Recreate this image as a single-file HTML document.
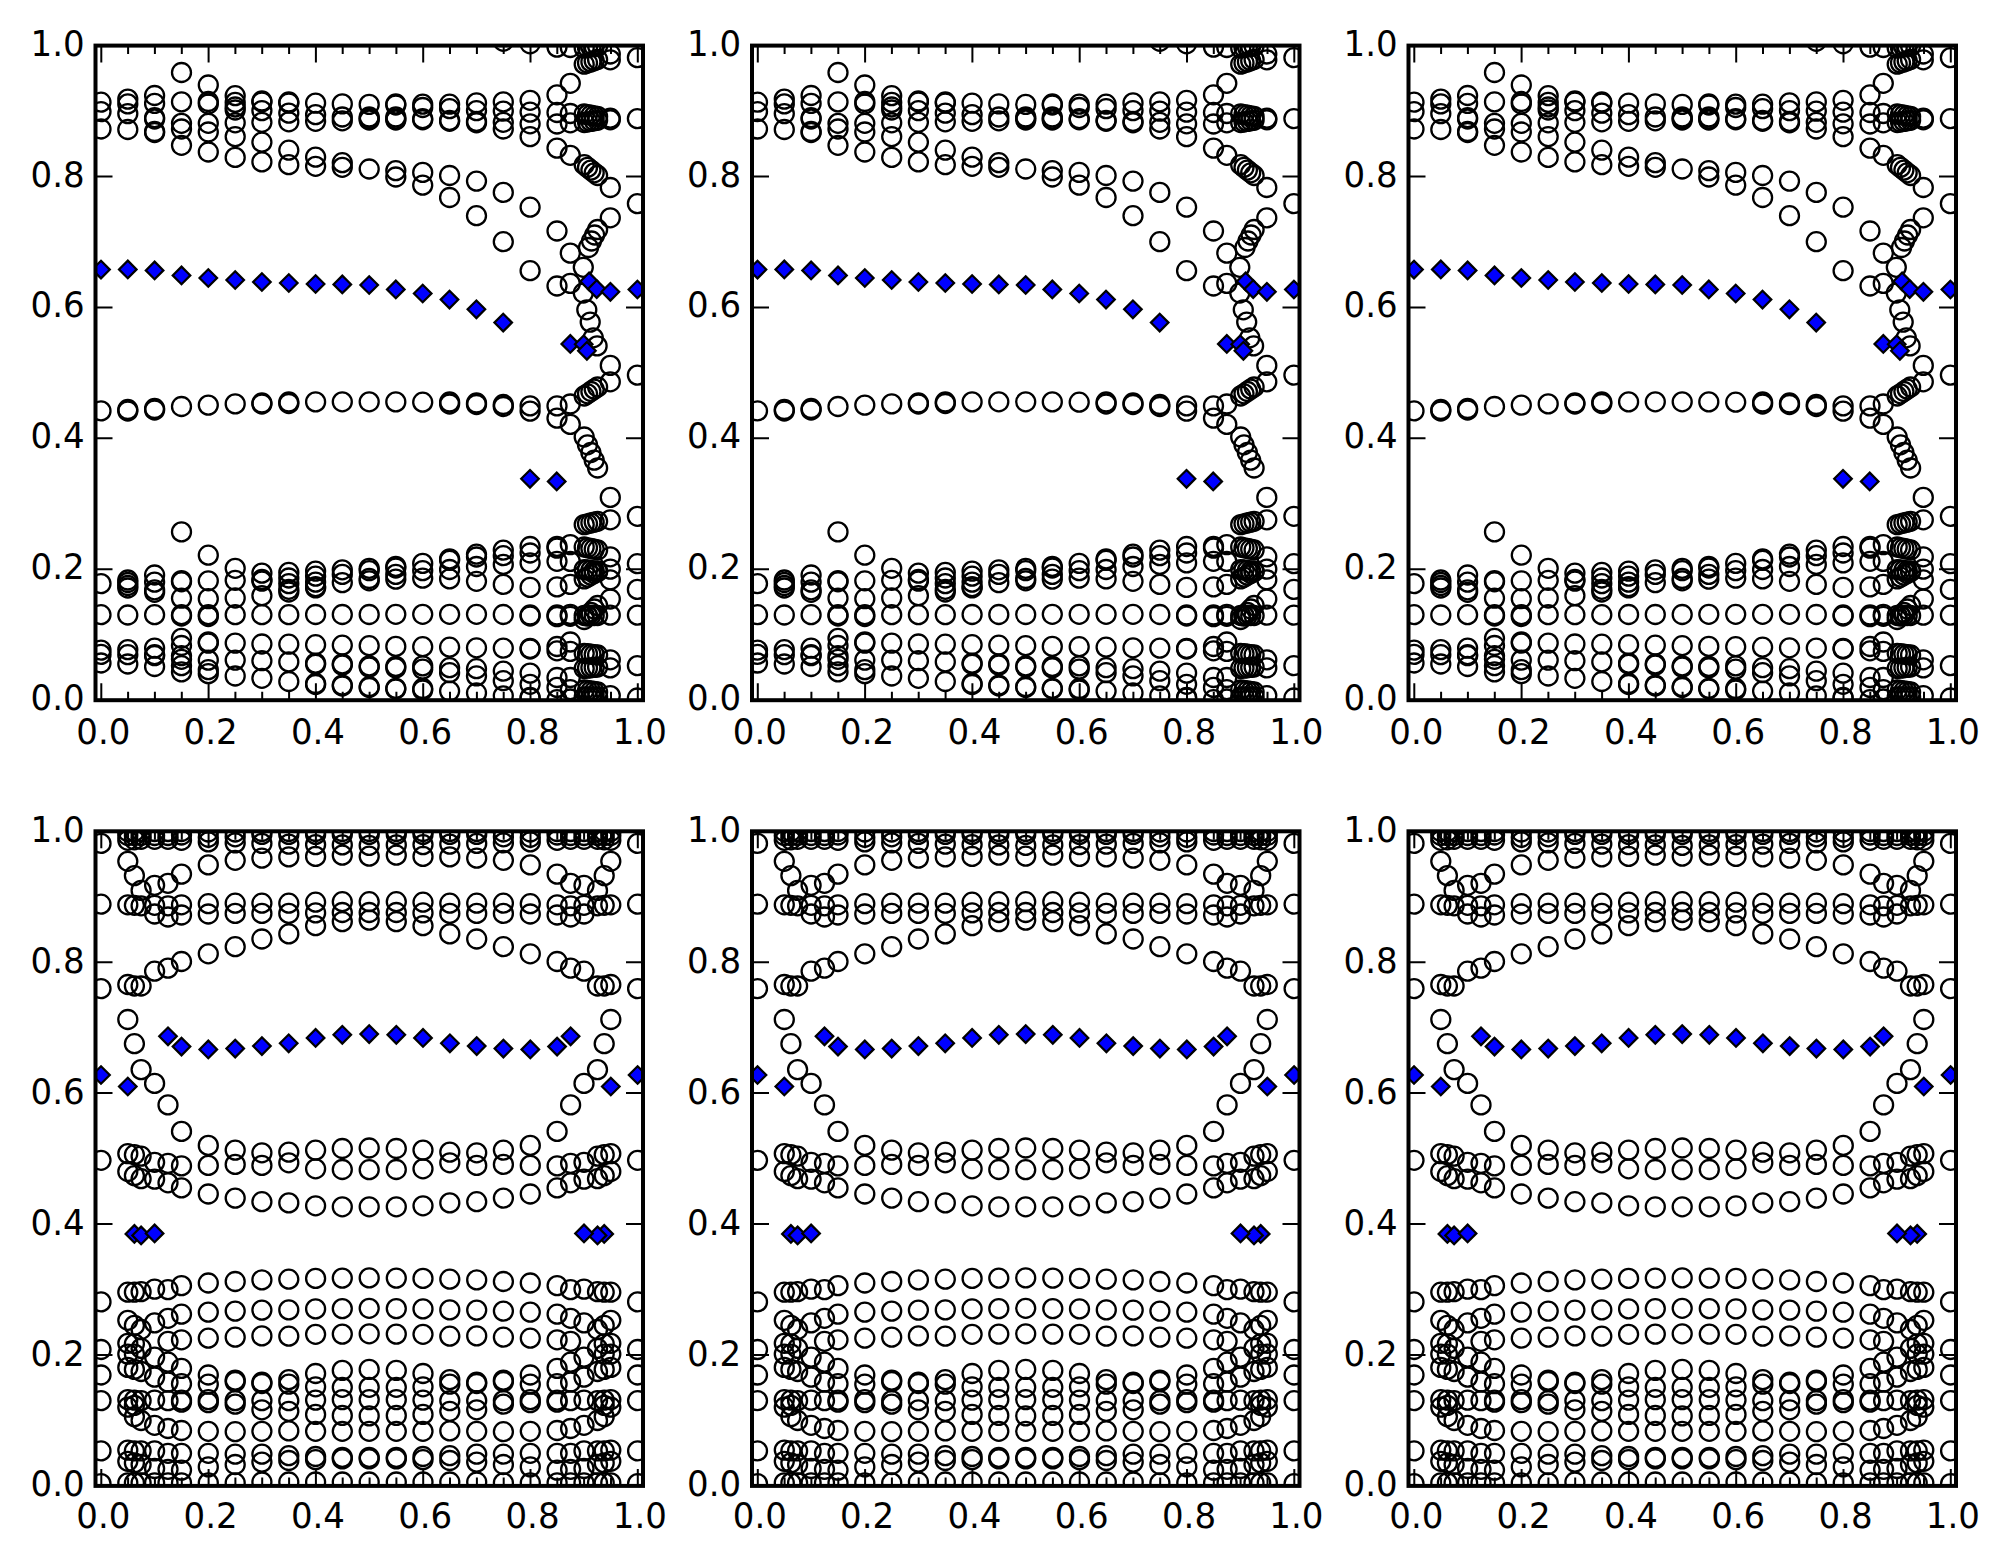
<!DOCTYPE html>
<html><head><meta charset="utf-8"><title>plot</title>
<style>html,body{margin:0;padding:0;background:#fff;}svg{display:block;}</style>
</head><body>
<svg width="2004" height="1565" viewBox="0 0 2004 1565">
<rect width="2004" height="1565" fill="#fff"/>
<defs><clipPath id="ax"><rect x="95.5" y="45.6" width="547.5" height="654.6"/></clipPath></defs>
<g transform="translate(0 0)"><g clip-path="url(#ax)"><g fill="none" stroke="#000" stroke-width="2.3"><circle cx="101" cy="102.2" r="9.5"/><circle cx="101" cy="111.6" r="9.5"/><circle cx="101" cy="129" r="9.5"/><circle cx="101" cy="410.9" r="9.5"/><circle cx="101" cy="583.6" r="9.5"/><circle cx="101" cy="614.7" r="9.5"/><circle cx="101" cy="650.1" r="9.5"/><circle cx="101" cy="654.4" r="9.5"/><circle cx="101" cy="663" r="9.5"/><circle cx="127.8" cy="99.1" r="9.5"/><circle cx="127.8" cy="103.9" r="9.5"/><circle cx="127.8" cy="113.6" r="9.5"/><circle cx="127.8" cy="129.5" r="9.5"/><circle cx="127.8" cy="409.5" r="9.5"/><circle cx="127.8" cy="411" r="9.5"/><circle cx="127.8" cy="580" r="9.5"/><circle cx="127.8" cy="582.5" r="9.5"/><circle cx="127.8" cy="585.5" r="9.5"/><circle cx="127.8" cy="588" r="9.5"/><circle cx="127.8" cy="615" r="9.5"/><circle cx="127.8" cy="649.6" r="9.5"/><circle cx="127.8" cy="654.7" r="9.5"/><circle cx="127.8" cy="664" r="9.5"/><circle cx="154.6" cy="95.5" r="9.5"/><circle cx="154.6" cy="103.4" r="9.5"/><circle cx="154.6" cy="117.7" r="9.5"/><circle cx="154.6" cy="119" r="9.5"/><circle cx="154.6" cy="131.5" r="9.5"/><circle cx="154.6" cy="132.5" r="9.5"/><circle cx="154.6" cy="408.5" r="9.5"/><circle cx="154.6" cy="410" r="9.5"/><circle cx="154.6" cy="575" r="9.5"/><circle cx="154.6" cy="582.1" r="9.5"/><circle cx="154.6" cy="589.8" r="9.5"/><circle cx="154.6" cy="592.3" r="9.5"/><circle cx="154.6" cy="614.7" r="9.5"/><circle cx="154.6" cy="648.1" r="9.5"/><circle cx="154.6" cy="654.7" r="9.5"/><circle cx="154.6" cy="655.7" r="9.5"/><circle cx="154.6" cy="666.5" r="9.5"/><circle cx="181.5" cy="72.5" r="9.5"/><circle cx="181.5" cy="101.9" r="9.5"/><circle cx="181.5" cy="123.3" r="9.5"/><circle cx="181.5" cy="129" r="9.5"/><circle cx="181.5" cy="145.3" r="9.5"/><circle cx="181.5" cy="406.5" r="9.5"/><circle cx="181.5" cy="531.9" r="9.5"/><circle cx="181.5" cy="580.6" r="9.5"/><circle cx="181.5" cy="581.8" r="9.5"/><circle cx="181.5" cy="598.2" r="9.5"/><circle cx="181.5" cy="614.7" r="9.5"/><circle cx="181.5" cy="616" r="9.5"/><circle cx="181.5" cy="638.3" r="9.5"/><circle cx="181.5" cy="645.5" r="9.5"/><circle cx="181.5" cy="655.7" r="9.5"/><circle cx="181.5" cy="659.3" r="9.5"/><circle cx="181.5" cy="665.7" r="9.5"/><circle cx="181.5" cy="671.9" r="9.5"/><circle cx="208.3" cy="85" r="9.5"/><circle cx="208.3" cy="101.5" r="9.5"/><circle cx="208.3" cy="104" r="9.5"/><circle cx="208.3" cy="123.3" r="9.5"/><circle cx="208.3" cy="132" r="9.5"/><circle cx="208.3" cy="152" r="9.5"/><circle cx="208.3" cy="405.1" r="9.5"/><circle cx="208.3" cy="555.2" r="9.5"/><circle cx="208.3" cy="580.8" r="9.5"/><circle cx="208.3" cy="598.7" r="9.5"/><circle cx="208.3" cy="614.7" r="9.5"/><circle cx="208.3" cy="616.5" r="9.5"/><circle cx="208.3" cy="641.9" r="9.5"/><circle cx="208.3" cy="643.1" r="9.5"/><circle cx="208.3" cy="660.1" r="9.5"/><circle cx="208.3" cy="669.7" r="9.5"/><circle cx="208.3" cy="673.7" r="9.5"/><circle cx="235.2" cy="95.7" r="9.5"/><circle cx="235.2" cy="102.4" r="9.5"/><circle cx="235.2" cy="107" r="9.5"/><circle cx="235.2" cy="110" r="9.5"/><circle cx="235.2" cy="122.8" r="9.5"/><circle cx="235.2" cy="136.6" r="9.5"/><circle cx="235.2" cy="157.4" r="9.5"/><circle cx="235.2" cy="403.9" r="9.5"/><circle cx="235.2" cy="568.3" r="9.5"/><circle cx="235.2" cy="580.3" r="9.5"/><circle cx="235.2" cy="598" r="9.5"/><circle cx="235.2" cy="614.7" r="9.5"/><circle cx="235.2" cy="643.1" r="9.5"/><circle cx="235.2" cy="660.1" r="9.5"/><circle cx="235.2" cy="676" r="9.5"/><circle cx="261.9" cy="101" r="9.5"/><circle cx="261.9" cy="102" r="9.5"/><circle cx="261.9" cy="110.6" r="9.5"/><circle cx="261.9" cy="122.3" r="9.5"/><circle cx="261.9" cy="142.2" r="9.5"/><circle cx="261.9" cy="161.9" r="9.5"/><circle cx="261.9" cy="403" r="9.5"/><circle cx="261.9" cy="404" r="9.5"/><circle cx="261.9" cy="573.1" r="9.5"/><circle cx="261.9" cy="579.5" r="9.5"/><circle cx="261.9" cy="581.1" r="9.5"/><circle cx="261.9" cy="595.6" r="9.5"/><circle cx="261.9" cy="614.7" r="9.5"/><circle cx="261.9" cy="644" r="9.5"/><circle cx="261.9" cy="660.7" r="9.5"/><circle cx="261.9" cy="678.3" r="9.5"/><circle cx="288.8" cy="102" r="9.5"/><circle cx="288.8" cy="103" r="9.5"/><circle cx="288.8" cy="113.1" r="9.5"/><circle cx="288.8" cy="121.8" r="9.5"/><circle cx="288.8" cy="150.2" r="9.5"/><circle cx="288.8" cy="164.7" r="9.5"/><circle cx="288.8" cy="402" r="9.5"/><circle cx="288.8" cy="403.5" r="9.5"/><circle cx="288.8" cy="572.4" r="9.5"/><circle cx="288.8" cy="578" r="9.5"/><circle cx="288.8" cy="583.6" r="9.5"/><circle cx="288.8" cy="589.3" r="9.5"/><circle cx="288.8" cy="592" r="9.5"/><circle cx="288.8" cy="614.7" r="9.5"/><circle cx="288.8" cy="644.2" r="9.5"/><circle cx="288.8" cy="661.9" r="9.5"/><circle cx="288.8" cy="681.5" r="9.5"/><circle cx="315.6" cy="103.1" r="9.5"/><circle cx="315.6" cy="114.6" r="9.5"/><circle cx="315.6" cy="121.3" r="9.5"/><circle cx="315.6" cy="157.1" r="9.5"/><circle cx="315.6" cy="166.3" r="9.5"/><circle cx="315.6" cy="401.9" r="9.5"/><circle cx="315.6" cy="571.1" r="9.5"/><circle cx="315.6" cy="576.2" r="9.5"/><circle cx="315.6" cy="582.1" r="9.5"/><circle cx="315.6" cy="586.7" r="9.5"/><circle cx="315.6" cy="587.9" r="9.5"/><circle cx="315.6" cy="614.5" r="9.5"/><circle cx="315.6" cy="644.7" r="9.5"/><circle cx="315.6" cy="663.1" r="9.5"/><circle cx="315.6" cy="664.3" r="9.5"/><circle cx="315.6" cy="683.5" r="9.5"/><circle cx="315.6" cy="684.5" r="9.5"/><circle cx="342.3" cy="103.9" r="9.5"/><circle cx="342.3" cy="117" r="9.5"/><circle cx="342.3" cy="120.8" r="9.5"/><circle cx="342.3" cy="162.7" r="9.5"/><circle cx="342.3" cy="167.3" r="9.5"/><circle cx="342.3" cy="401.8" r="9.5"/><circle cx="342.3" cy="569.8" r="9.5"/><circle cx="342.3" cy="574.4" r="9.5"/><circle cx="342.3" cy="582.6" r="9.5"/><circle cx="342.3" cy="614.5" r="9.5"/><circle cx="342.3" cy="645.2" r="9.5"/><circle cx="342.3" cy="663.9" r="9.5"/><circle cx="342.3" cy="665.1" r="9.5"/><circle cx="342.3" cy="685.1" r="9.5"/><circle cx="342.3" cy="686" r="9.5"/><circle cx="369.2" cy="104.4" r="9.5"/><circle cx="369.2" cy="117" r="9.5"/><circle cx="369.2" cy="118.5" r="9.5"/><circle cx="369.2" cy="120" r="9.5"/><circle cx="369.2" cy="169" r="9.5"/><circle cx="369.2" cy="401.8" r="9.5"/><circle cx="369.2" cy="568.3" r="9.5"/><circle cx="369.2" cy="570.6" r="9.5"/><circle cx="369.2" cy="578.5" r="9.5"/><circle cx="369.2" cy="580.8" r="9.5"/><circle cx="369.2" cy="614.5" r="9.5"/><circle cx="369.2" cy="645.7" r="9.5"/><circle cx="369.2" cy="665.9" r="9.5"/><circle cx="369.2" cy="667.1" r="9.5"/><circle cx="369.2" cy="686.7" r="9.5"/><circle cx="369.2" cy="687.5" r="9.5"/><circle cx="395.8" cy="104" r="9.5"/><circle cx="395.8" cy="105" r="9.5"/><circle cx="395.8" cy="117" r="9.5"/><circle cx="395.8" cy="119" r="9.5"/><circle cx="395.8" cy="120" r="9.5"/><circle cx="395.8" cy="170.6" r="9.5"/><circle cx="395.8" cy="177" r="9.5"/><circle cx="395.8" cy="401.9" r="9.5"/><circle cx="395.8" cy="566.3" r="9.5"/><circle cx="395.8" cy="568" r="9.5"/><circle cx="395.8" cy="574.4" r="9.5"/><circle cx="395.8" cy="579.2" r="9.5"/><circle cx="395.8" cy="614.3" r="9.5"/><circle cx="395.8" cy="646.4" r="9.5"/><circle cx="395.8" cy="666.3" r="9.5"/><circle cx="395.8" cy="667.9" r="9.5"/><circle cx="395.8" cy="688.3" r="9.5"/><circle cx="395.8" cy="689" r="9.5"/><circle cx="422.7" cy="104.2" r="9.5"/><circle cx="422.7" cy="107.5" r="9.5"/><circle cx="422.7" cy="118.7" r="9.5"/><circle cx="422.7" cy="119.8" r="9.5"/><circle cx="422.7" cy="172.4" r="9.5"/><circle cx="422.7" cy="185.2" r="9.5"/><circle cx="422.7" cy="402.2" r="9.5"/><circle cx="422.7" cy="563.4" r="9.5"/><circle cx="422.7" cy="570.6" r="9.5"/><circle cx="422.7" cy="578.2" r="9.5"/><circle cx="422.7" cy="614.3" r="9.5"/><circle cx="422.7" cy="646.7" r="9.5"/><circle cx="422.7" cy="665.9" r="9.5"/><circle cx="422.7" cy="669.1" r="9.5"/><circle cx="422.7" cy="688.5" r="9.5"/><circle cx="422.7" cy="690" r="9.5"/><circle cx="449.6" cy="104.2" r="9.5"/><circle cx="449.6" cy="108.7" r="9.5"/><circle cx="449.6" cy="120.3" r="9.5"/><circle cx="449.6" cy="121.3" r="9.5"/><circle cx="449.6" cy="175.5" r="9.5"/><circle cx="449.6" cy="197.5" r="9.5"/><circle cx="449.6" cy="402" r="9.5"/><circle cx="449.6" cy="404" r="9.5"/><circle cx="449.6" cy="558.8" r="9.5"/><circle cx="449.6" cy="560.3" r="9.5"/><circle cx="449.6" cy="569.5" r="9.5"/><circle cx="449.6" cy="578.9" r="9.5"/><circle cx="449.6" cy="614.3" r="9.5"/><circle cx="449.6" cy="647.2" r="9.5"/><circle cx="449.6" cy="667.7" r="9.5"/><circle cx="449.6" cy="672.7" r="9.5"/><circle cx="449.6" cy="691.1" r="9.5"/><circle cx="476.5" cy="102.9" r="9.5"/><circle cx="476.5" cy="110.6" r="9.5"/><circle cx="476.5" cy="121.3" r="9.5"/><circle cx="476.5" cy="122.8" r="9.5"/><circle cx="476.5" cy="181.1" r="9.5"/><circle cx="476.5" cy="215.7" r="9.5"/><circle cx="476.5" cy="403" r="9.5"/><circle cx="476.5" cy="404.5" r="9.5"/><circle cx="476.5" cy="554.2" r="9.5"/><circle cx="476.5" cy="557" r="9.5"/><circle cx="476.5" cy="566.5" r="9.5"/><circle cx="476.5" cy="581.3" r="9.5"/><circle cx="476.5" cy="614.3" r="9.5"/><circle cx="476.5" cy="647.8" r="9.5"/><circle cx="476.5" cy="668.7" r="9.5"/><circle cx="476.5" cy="675.9" r="9.5"/><circle cx="476.5" cy="693" r="9.5"/><circle cx="503.3" cy="41.3" r="9.5"/><circle cx="503.3" cy="101.9" r="9.5"/><circle cx="503.3" cy="111.1" r="9.5"/><circle cx="503.3" cy="122.3" r="9.5"/><circle cx="503.3" cy="129" r="9.5"/><circle cx="503.3" cy="192.4" r="9.5"/><circle cx="503.3" cy="241.7" r="9.5"/><circle cx="503.3" cy="404.5" r="9.5"/><circle cx="503.3" cy="406.5" r="9.5"/><circle cx="503.3" cy="550.1" r="9.5"/><circle cx="503.3" cy="555.7" r="9.5"/><circle cx="503.3" cy="564.4" r="9.5"/><circle cx="503.3" cy="584.4" r="9.5"/><circle cx="503.3" cy="614.5" r="9.5"/><circle cx="503.3" cy="648.1" r="9.5"/><circle cx="503.3" cy="671.1" r="9.5"/><circle cx="503.3" cy="680.7" r="9.5"/><circle cx="503.3" cy="695.8" r="9.5"/><circle cx="530.1" cy="43.8" r="9.5"/><circle cx="530.1" cy="100.3" r="9.5"/><circle cx="530.1" cy="112.1" r="9.5"/><circle cx="530.1" cy="123.8" r="9.5"/><circle cx="530.1" cy="136.6" r="9.5"/><circle cx="530.1" cy="207.2" r="9.5"/><circle cx="530.1" cy="270.7" r="9.5"/><circle cx="530.1" cy="405.9" r="9.5"/><circle cx="530.1" cy="411.1" r="9.5"/><circle cx="530.1" cy="546.5" r="9.5"/><circle cx="530.1" cy="553" r="9.5"/><circle cx="530.1" cy="562.9" r="9.5"/><circle cx="530.1" cy="587.4" r="9.5"/><circle cx="530.1" cy="615" r="9.5"/><circle cx="530.1" cy="616" r="9.5"/><circle cx="530.1" cy="648.3" r="9.5"/><circle cx="530.1" cy="649" r="9.5"/><circle cx="530.1" cy="673.1" r="9.5"/><circle cx="530.1" cy="684.3" r="9.5"/><circle cx="530.1" cy="697.4" r="9.5"/><circle cx="530.1" cy="698" r="9.5"/><circle cx="557" cy="47.1" r="9.5"/><circle cx="557" cy="94.8" r="9.5"/><circle cx="557" cy="112.5" r="9.5"/><circle cx="557" cy="124" r="9.5"/><circle cx="557" cy="148.1" r="9.5"/><circle cx="557" cy="231" r="9.5"/><circle cx="557" cy="286" r="9.5"/><circle cx="557" cy="405.9" r="9.5"/><circle cx="557" cy="418.2" r="9.5"/><circle cx="557" cy="546.3" r="9.5"/><circle cx="557" cy="548.2" r="9.5"/><circle cx="557" cy="561.3" r="9.5"/><circle cx="557" cy="586.9" r="9.5"/><circle cx="557" cy="615" r="9.5"/><circle cx="557" cy="616.6" r="9.5"/><circle cx="557" cy="646.5" r="9.5"/><circle cx="557" cy="650.8" r="9.5"/><circle cx="557" cy="677.5" r="9.5"/><circle cx="557" cy="687.4" r="9.5"/><circle cx="557" cy="699.7" r="9.5"/><circle cx="570.3" cy="47.5" r="9.5"/><circle cx="570.3" cy="83.3" r="9.5"/><circle cx="570.3" cy="113.5" r="9.5"/><circle cx="570.3" cy="122.8" r="9.5"/><circle cx="570.3" cy="155.3" r="9.5"/><circle cx="570.3" cy="253.1" r="9.5"/><circle cx="570.3" cy="283.4" r="9.5"/><circle cx="570.3" cy="404" r="9.5"/><circle cx="570.3" cy="424.4" r="9.5"/><circle cx="570.3" cy="544.6" r="9.5"/><circle cx="570.3" cy="561.4" r="9.5"/><circle cx="570.3" cy="584.4" r="9.5"/><circle cx="570.3" cy="614.4" r="9.5"/><circle cx="570.3" cy="616.3" r="9.5"/><circle cx="570.3" cy="642" r="9.5"/><circle cx="570.3" cy="651.4" r="9.5"/><circle cx="570.3" cy="677.5" r="9.5"/><circle cx="570.3" cy="689.7" r="9.5"/><circle cx="570.3" cy="699" r="9.5"/><circle cx="610.3" cy="54" r="9.5"/><circle cx="610.3" cy="59.8" r="9.5"/><circle cx="610.3" cy="118.2" r="9.5"/><circle cx="610.3" cy="119.8" r="9.5"/><circle cx="610.3" cy="187.5" r="9.5"/><circle cx="610.3" cy="217.8" r="9.5"/><circle cx="610.3" cy="365.4" r="9.5"/><circle cx="610.3" cy="381.8" r="9.5"/><circle cx="610.3" cy="497.4" r="9.5"/><circle cx="610.3" cy="519.8" r="9.5"/><circle cx="610.3" cy="556.8" r="9.5"/><circle cx="610.3" cy="569.1" r="9.5"/><circle cx="610.3" cy="579.8" r="9.5"/><circle cx="610.3" cy="599" r="9.5"/><circle cx="610.3" cy="615.1" r="9.5"/><circle cx="610.3" cy="659.8" r="9.5"/><circle cx="610.3" cy="667.9" r="9.5"/><circle cx="610.3" cy="695.6" r="9.5"/><circle cx="637.4" cy="57.6" r="9.5"/><circle cx="637.4" cy="118.6" r="9.5"/><circle cx="637.4" cy="203.6" r="9.5"/><circle cx="637.4" cy="375.1" r="9.5"/><circle cx="637.4" cy="516.3" r="9.5"/><circle cx="637.4" cy="563.7" r="9.5"/><circle cx="637.4" cy="589.4" r="9.5"/><circle cx="637.4" cy="615.1" r="9.5"/><circle cx="637.4" cy="665.6" r="9.5"/><circle cx="637.4" cy="698" r="9.5"/><circle cx="583.3" cy="267.3" r="9.5"/><circle cx="583.3" cy="293" r="9.5"/><circle cx="586.8" cy="309.8" r="9.5"/><circle cx="590.2" cy="322.1" r="9.5"/><circle cx="593.3" cy="337.8" r="9.5"/><circle cx="597.1" cy="345.9" r="9.5"/><circle cx="584.2" cy="64.2" r="9.5"/><circle cx="587.5" cy="63" r="9.5"/><circle cx="590.9" cy="61.9" r="9.5"/><circle cx="594.2" cy="60.7" r="9.5"/><circle cx="597.6" cy="59.5" r="9.5"/><circle cx="584.2" cy="48" r="9.5"/><circle cx="587.5" cy="47.5" r="9.5"/><circle cx="590.9" cy="47" r="9.5"/><circle cx="594.2" cy="46.5" r="9.5"/><circle cx="597.6" cy="46" r="9.5"/><circle cx="584.2" cy="114" r="9.5"/><circle cx="587.5" cy="114.6" r="9.5"/><circle cx="590.9" cy="115.2" r="9.5"/><circle cx="594.2" cy="115.8" r="9.5"/><circle cx="597.6" cy="116.4" r="9.5"/><circle cx="584.2" cy="122.5" r="9.5"/><circle cx="587.5" cy="122" r="9.5"/><circle cx="590.9" cy="121.4" r="9.5"/><circle cx="594.2" cy="120.8" r="9.5"/><circle cx="597.6" cy="120.3" r="9.5"/><circle cx="584.2" cy="164.7" r="9.5"/><circle cx="587.5" cy="167.4" r="9.5"/><circle cx="590.9" cy="170.1" r="9.5"/><circle cx="594.2" cy="172.8" r="9.5"/><circle cx="597.6" cy="175.5" r="9.5"/><circle cx="584.2" cy="396" r="9.5"/><circle cx="587.5" cy="393.8" r="9.5"/><circle cx="590.9" cy="391.5" r="9.5"/><circle cx="594.2" cy="389.2" r="9.5"/><circle cx="597.6" cy="387" r="9.5"/><circle cx="584.2" cy="437" r="9.5"/><circle cx="587.5" cy="444.8" r="9.5"/><circle cx="590.9" cy="452.5" r="9.5"/><circle cx="594.2" cy="460.2" r="9.5"/><circle cx="597.6" cy="468" r="9.5"/><circle cx="584.2" cy="524.6" r="9.5"/><circle cx="587.5" cy="523.8" r="9.5"/><circle cx="590.9" cy="523" r="9.5"/><circle cx="594.2" cy="522.1" r="9.5"/><circle cx="597.6" cy="521.3" r="9.5"/><circle cx="584.2" cy="547" r="9.5"/><circle cx="587.5" cy="547.8" r="9.5"/><circle cx="590.9" cy="548.5" r="9.5"/><circle cx="594.2" cy="549.2" r="9.5"/><circle cx="597.6" cy="550" r="9.5"/><circle cx="584.2" cy="569.6" r="9.5"/><circle cx="587.5" cy="570" r="9.5"/><circle cx="590.9" cy="570.4" r="9.5"/><circle cx="594.2" cy="570.8" r="9.5"/><circle cx="597.6" cy="571.2" r="9.5"/><circle cx="584.2" cy="578.9" r="9.5"/><circle cx="587.5" cy="577.1" r="9.5"/><circle cx="590.9" cy="575.2" r="9.5"/><circle cx="594.2" cy="573.4" r="9.5"/><circle cx="597.6" cy="571.6" r="9.5"/><circle cx="584.2" cy="615.5" r="9.5"/><circle cx="587.5" cy="615.5" r="9.5"/><circle cx="590.9" cy="615.5" r="9.5"/><circle cx="594.2" cy="615.5" r="9.5"/><circle cx="597.6" cy="615.5" r="9.5"/><circle cx="584.2" cy="619.5" r="9.5"/><circle cx="587.5" cy="616" r="9.5"/><circle cx="590.9" cy="612.5" r="9.5"/><circle cx="594.2" cy="609" r="9.5"/><circle cx="597.6" cy="605.5" r="9.5"/><circle cx="584.2" cy="653.3" r="9.5"/><circle cx="587.5" cy="653.7" r="9.5"/><circle cx="590.9" cy="654.1" r="9.5"/><circle cx="594.2" cy="654.6" r="9.5"/><circle cx="597.6" cy="655" r="9.5"/><circle cx="584.2" cy="668.5" r="9.5"/><circle cx="587.5" cy="668.1" r="9.5"/><circle cx="590.9" cy="667.8" r="9.5"/><circle cx="594.2" cy="667.4" r="9.5"/><circle cx="597.6" cy="667" r="9.5"/><circle cx="584.2" cy="690" r="9.5"/><circle cx="587.5" cy="690.5" r="9.5"/><circle cx="590.9" cy="691" r="9.5"/><circle cx="594.2" cy="691.5" r="9.5"/><circle cx="597.6" cy="692" r="9.5"/><circle cx="584.2" cy="697" r="9.5"/><circle cx="587.5" cy="697" r="9.5"/><circle cx="590.9" cy="697" r="9.5"/><circle cx="594.2" cy="697" r="9.5"/><circle cx="597.6" cy="697" r="9.5"/><circle cx="597.6" cy="229.5" r="9.5"/><circle cx="594.6" cy="235" r="9.5"/><circle cx="591.5" cy="241" r="9.5"/><circle cx="588.5" cy="247.5" r="9.5"/></g><g fill="#0000ff" stroke="#000" stroke-width="2.2" stroke-linejoin="miter"><path d="M101 260.8L109.8 269.6L101 278.4L92.2 269.6Z"/><path d="M127.8 260.6L136.6 269.4L127.8 278.2L119 269.4Z"/><path d="M154.6 261.6L163.4 270.4L154.6 279.2L145.8 270.4Z"/><path d="M181.5 266.6L190.3 275.4L181.5 284.2L172.7 275.4Z"/><path d="M208.3 269.2L217.1 278L208.3 286.8L199.5 278Z"/><path d="M235.2 271.2L244 280L235.2 288.8L226.4 280Z"/><path d="M261.9 273.2L270.7 282L261.9 290.8L253.1 282Z"/><path d="M288.8 274.2L297.6 283L288.8 291.8L280 283Z"/><path d="M315.6 275.2L324.4 284L315.6 292.8L306.8 284Z"/><path d="M342.3 275.6L351.1 284.4L342.3 293.2L333.5 284.4Z"/><path d="M369.2 276.2L378 285L369.2 293.8L360.4 285Z"/><path d="M589.1 272.6L597.9 281.4L589.1 290.2L580.3 281.4Z"/><path d="M596.7 280.3L605.5 289.1L596.7 297.9L587.9 289.1Z"/><path d="M610.4 283L619.2 291.8L610.4 300.6L601.6 291.8Z"/><path d="M637.4 280.7L646.2 289.5L637.4 298.3L628.6 289.5Z"/><path d="M570.3 335.1L579.1 343.9L570.3 352.7L561.5 343.9Z"/><path d="M583.7 335.5L592.5 344.3L583.7 353.1L574.9 344.3Z"/><path d="M586.9 342L595.7 350.8L586.9 359.6L578.1 350.8Z"/><path d="M395.8 280.6L404.6 289.4L395.8 298.2L387 289.4Z"/><path d="M422.7 284.7L431.5 293.5L422.7 302.3L413.9 293.5Z"/><path d="M449.5 290.8L458.3 299.6L449.5 308.4L440.7 299.6Z"/><path d="M476.4 300.5L485.2 309.3L476.4 318.1L467.6 309.3Z"/><path d="M503.2 313.8L512 322.6L503.2 331.4L494.4 322.6Z"/><path d="M556.7 472.6L565.5 481.4L556.7 490.2L547.9 481.4Z"/><path d="M530 470L538.8 478.8L530 487.6L521.2 478.8Z"/></g></g><path d="M101.3 700.2V683.2M101.3 45.6V62.6M128.1 700.2V691.7M128.1 45.6V54.1M154.9 700.2V691.7M154.9 45.6V54.1M181.8 700.2V691.7M181.8 45.6V54.1M208.6 700.2V683.2M208.6 45.6V62.6M235.4 700.2V691.7M235.4 45.6V54.1M262.2 700.2V691.7M262.2 45.6V54.1M289.1 700.2V691.7M289.1 45.6V54.1M315.9 700.2V683.2M315.9 45.6V62.6M342.7 700.2V691.7M342.7 45.6V54.1M369.6 700.2V691.7M369.6 45.6V54.1M396.4 700.2V691.7M396.4 45.6V54.1M423.2 700.2V683.2M423.2 45.6V62.6M450 700.2V691.7M450 45.6V54.1M476.9 700.2V691.7M476.9 45.6V54.1M503.7 700.2V691.7M503.7 45.6V54.1M530.5 700.2V683.2M530.5 45.6V62.6M557.3 700.2V691.7M557.3 45.6V54.1M584.1 700.2V691.7M584.1 45.6V54.1M611 700.2V691.7M611 45.6V54.1M637.8 700.2V683.2M637.8 45.6V62.6M95.5 700.1H112.5M643 700.1H626M95.5 569.2H112.5M643 569.2H626M95.5 438.3H112.5M643 438.3H626M95.5 307.4H112.5M643 307.4H626M95.5 176.5H112.5M643 176.5H626M95.5 45.6H112.5M643 45.6H626" stroke="#000" stroke-width="2.0" fill="none"/><rect x="95.5" y="45.6" width="547.5" height="654.6" fill="none" stroke="#000" stroke-width="4.0"/><g font-family="DejaVu Sans, Liberation Sans, sans-serif" font-size="34" fill="#000"><text transform="translate(103.3 744.2) scale(1 1.032)" text-anchor="middle">0.0</text><text transform="translate(84.6 710.1) scale(1 1.032)" text-anchor="end">0.0</text><text transform="translate(210.6 744.2) scale(1 1.032)" text-anchor="middle">0.2</text><text transform="translate(84.6 579.2) scale(1 1.032)" text-anchor="end">0.2</text><text transform="translate(317.9 744.2) scale(1 1.032)" text-anchor="middle">0.4</text><text transform="translate(84.6 448.3) scale(1 1.032)" text-anchor="end">0.4</text><text transform="translate(425.2 744.2) scale(1 1.032)" text-anchor="middle">0.6</text><text transform="translate(84.6 317.4) scale(1 1.032)" text-anchor="end">0.6</text><text transform="translate(532.5 744.2) scale(1 1.032)" text-anchor="middle">0.8</text><text transform="translate(84.6 186.5) scale(1 1.032)" text-anchor="end">0.8</text><text transform="translate(639.8 744.2) scale(1 1.032)" text-anchor="middle">1.0</text><text transform="translate(84.6 55.6) scale(1 1.032)" text-anchor="end">1.0</text></g></g>
<g transform="translate(656.5 0)"><g clip-path="url(#ax)"><g fill="none" stroke="#000" stroke-width="2.3"><circle cx="101" cy="102.2" r="9.5"/><circle cx="101" cy="111.6" r="9.5"/><circle cx="101" cy="129" r="9.5"/><circle cx="101" cy="410.9" r="9.5"/><circle cx="101" cy="583.6" r="9.5"/><circle cx="101" cy="614.7" r="9.5"/><circle cx="101" cy="650.1" r="9.5"/><circle cx="101" cy="654.4" r="9.5"/><circle cx="101" cy="663" r="9.5"/><circle cx="127.8" cy="99.1" r="9.5"/><circle cx="127.8" cy="103.9" r="9.5"/><circle cx="127.8" cy="113.6" r="9.5"/><circle cx="127.8" cy="129.5" r="9.5"/><circle cx="127.8" cy="409.5" r="9.5"/><circle cx="127.8" cy="411" r="9.5"/><circle cx="127.8" cy="580" r="9.5"/><circle cx="127.8" cy="582.5" r="9.5"/><circle cx="127.8" cy="585.5" r="9.5"/><circle cx="127.8" cy="588" r="9.5"/><circle cx="127.8" cy="615" r="9.5"/><circle cx="127.8" cy="649.6" r="9.5"/><circle cx="127.8" cy="654.7" r="9.5"/><circle cx="127.8" cy="664" r="9.5"/><circle cx="154.6" cy="95.5" r="9.5"/><circle cx="154.6" cy="103.4" r="9.5"/><circle cx="154.6" cy="117.7" r="9.5"/><circle cx="154.6" cy="119" r="9.5"/><circle cx="154.6" cy="131.5" r="9.5"/><circle cx="154.6" cy="132.5" r="9.5"/><circle cx="154.6" cy="408.5" r="9.5"/><circle cx="154.6" cy="410" r="9.5"/><circle cx="154.6" cy="575" r="9.5"/><circle cx="154.6" cy="582.1" r="9.5"/><circle cx="154.6" cy="589.8" r="9.5"/><circle cx="154.6" cy="592.3" r="9.5"/><circle cx="154.6" cy="614.7" r="9.5"/><circle cx="154.6" cy="648.1" r="9.5"/><circle cx="154.6" cy="654.7" r="9.5"/><circle cx="154.6" cy="655.7" r="9.5"/><circle cx="154.6" cy="666.5" r="9.5"/><circle cx="181.5" cy="72.5" r="9.5"/><circle cx="181.5" cy="101.9" r="9.5"/><circle cx="181.5" cy="123.3" r="9.5"/><circle cx="181.5" cy="129" r="9.5"/><circle cx="181.5" cy="145.3" r="9.5"/><circle cx="181.5" cy="406.5" r="9.5"/><circle cx="181.5" cy="531.9" r="9.5"/><circle cx="181.5" cy="580.6" r="9.5"/><circle cx="181.5" cy="581.8" r="9.5"/><circle cx="181.5" cy="598.2" r="9.5"/><circle cx="181.5" cy="614.7" r="9.5"/><circle cx="181.5" cy="616" r="9.5"/><circle cx="181.5" cy="638.3" r="9.5"/><circle cx="181.5" cy="645.5" r="9.5"/><circle cx="181.5" cy="655.7" r="9.5"/><circle cx="181.5" cy="659.3" r="9.5"/><circle cx="181.5" cy="665.7" r="9.5"/><circle cx="181.5" cy="671.9" r="9.5"/><circle cx="208.3" cy="85" r="9.5"/><circle cx="208.3" cy="101.5" r="9.5"/><circle cx="208.3" cy="104" r="9.5"/><circle cx="208.3" cy="123.3" r="9.5"/><circle cx="208.3" cy="132" r="9.5"/><circle cx="208.3" cy="152" r="9.5"/><circle cx="208.3" cy="405.1" r="9.5"/><circle cx="208.3" cy="555.2" r="9.5"/><circle cx="208.3" cy="580.8" r="9.5"/><circle cx="208.3" cy="598.7" r="9.5"/><circle cx="208.3" cy="614.7" r="9.5"/><circle cx="208.3" cy="616.5" r="9.5"/><circle cx="208.3" cy="641.9" r="9.5"/><circle cx="208.3" cy="643.1" r="9.5"/><circle cx="208.3" cy="660.1" r="9.5"/><circle cx="208.3" cy="669.7" r="9.5"/><circle cx="208.3" cy="673.7" r="9.5"/><circle cx="235.2" cy="95.7" r="9.5"/><circle cx="235.2" cy="102.4" r="9.5"/><circle cx="235.2" cy="107" r="9.5"/><circle cx="235.2" cy="110" r="9.5"/><circle cx="235.2" cy="122.8" r="9.5"/><circle cx="235.2" cy="136.6" r="9.5"/><circle cx="235.2" cy="157.4" r="9.5"/><circle cx="235.2" cy="403.9" r="9.5"/><circle cx="235.2" cy="568.3" r="9.5"/><circle cx="235.2" cy="580.3" r="9.5"/><circle cx="235.2" cy="598" r="9.5"/><circle cx="235.2" cy="614.7" r="9.5"/><circle cx="235.2" cy="643.1" r="9.5"/><circle cx="235.2" cy="660.1" r="9.5"/><circle cx="235.2" cy="676" r="9.5"/><circle cx="261.9" cy="101" r="9.5"/><circle cx="261.9" cy="102" r="9.5"/><circle cx="261.9" cy="110.6" r="9.5"/><circle cx="261.9" cy="122.3" r="9.5"/><circle cx="261.9" cy="142.2" r="9.5"/><circle cx="261.9" cy="161.9" r="9.5"/><circle cx="261.9" cy="403" r="9.5"/><circle cx="261.9" cy="404" r="9.5"/><circle cx="261.9" cy="573.1" r="9.5"/><circle cx="261.9" cy="579.5" r="9.5"/><circle cx="261.9" cy="581.1" r="9.5"/><circle cx="261.9" cy="595.6" r="9.5"/><circle cx="261.9" cy="614.7" r="9.5"/><circle cx="261.9" cy="644" r="9.5"/><circle cx="261.9" cy="660.7" r="9.5"/><circle cx="261.9" cy="678.3" r="9.5"/><circle cx="288.8" cy="102" r="9.5"/><circle cx="288.8" cy="103" r="9.5"/><circle cx="288.8" cy="113.1" r="9.5"/><circle cx="288.8" cy="121.8" r="9.5"/><circle cx="288.8" cy="150.2" r="9.5"/><circle cx="288.8" cy="164.7" r="9.5"/><circle cx="288.8" cy="402" r="9.5"/><circle cx="288.8" cy="403.5" r="9.5"/><circle cx="288.8" cy="572.4" r="9.5"/><circle cx="288.8" cy="578" r="9.5"/><circle cx="288.8" cy="583.6" r="9.5"/><circle cx="288.8" cy="589.3" r="9.5"/><circle cx="288.8" cy="592" r="9.5"/><circle cx="288.8" cy="614.7" r="9.5"/><circle cx="288.8" cy="644.2" r="9.5"/><circle cx="288.8" cy="661.9" r="9.5"/><circle cx="288.8" cy="681.5" r="9.5"/><circle cx="315.6" cy="103.1" r="9.5"/><circle cx="315.6" cy="114.6" r="9.5"/><circle cx="315.6" cy="121.3" r="9.5"/><circle cx="315.6" cy="157.1" r="9.5"/><circle cx="315.6" cy="166.3" r="9.5"/><circle cx="315.6" cy="401.9" r="9.5"/><circle cx="315.6" cy="571.1" r="9.5"/><circle cx="315.6" cy="576.2" r="9.5"/><circle cx="315.6" cy="582.1" r="9.5"/><circle cx="315.6" cy="586.7" r="9.5"/><circle cx="315.6" cy="587.9" r="9.5"/><circle cx="315.6" cy="614.5" r="9.5"/><circle cx="315.6" cy="644.7" r="9.5"/><circle cx="315.6" cy="663.1" r="9.5"/><circle cx="315.6" cy="664.3" r="9.5"/><circle cx="315.6" cy="683.5" r="9.5"/><circle cx="315.6" cy="684.5" r="9.5"/><circle cx="342.3" cy="103.9" r="9.5"/><circle cx="342.3" cy="117" r="9.5"/><circle cx="342.3" cy="120.8" r="9.5"/><circle cx="342.3" cy="162.7" r="9.5"/><circle cx="342.3" cy="167.3" r="9.5"/><circle cx="342.3" cy="401.8" r="9.5"/><circle cx="342.3" cy="569.8" r="9.5"/><circle cx="342.3" cy="574.4" r="9.5"/><circle cx="342.3" cy="582.6" r="9.5"/><circle cx="342.3" cy="614.5" r="9.5"/><circle cx="342.3" cy="645.2" r="9.5"/><circle cx="342.3" cy="663.9" r="9.5"/><circle cx="342.3" cy="665.1" r="9.5"/><circle cx="342.3" cy="685.1" r="9.5"/><circle cx="342.3" cy="686" r="9.5"/><circle cx="369.2" cy="104.4" r="9.5"/><circle cx="369.2" cy="117" r="9.5"/><circle cx="369.2" cy="118.5" r="9.5"/><circle cx="369.2" cy="120" r="9.5"/><circle cx="369.2" cy="169" r="9.5"/><circle cx="369.2" cy="401.8" r="9.5"/><circle cx="369.2" cy="568.3" r="9.5"/><circle cx="369.2" cy="570.6" r="9.5"/><circle cx="369.2" cy="578.5" r="9.5"/><circle cx="369.2" cy="580.8" r="9.5"/><circle cx="369.2" cy="614.5" r="9.5"/><circle cx="369.2" cy="645.7" r="9.5"/><circle cx="369.2" cy="665.9" r="9.5"/><circle cx="369.2" cy="667.1" r="9.5"/><circle cx="369.2" cy="686.7" r="9.5"/><circle cx="369.2" cy="687.5" r="9.5"/><circle cx="395.8" cy="104" r="9.5"/><circle cx="395.8" cy="105" r="9.5"/><circle cx="395.8" cy="117" r="9.5"/><circle cx="395.8" cy="119" r="9.5"/><circle cx="395.8" cy="120" r="9.5"/><circle cx="395.8" cy="170.6" r="9.5"/><circle cx="395.8" cy="177" r="9.5"/><circle cx="395.8" cy="401.9" r="9.5"/><circle cx="395.8" cy="566.3" r="9.5"/><circle cx="395.8" cy="568" r="9.5"/><circle cx="395.8" cy="574.4" r="9.5"/><circle cx="395.8" cy="579.2" r="9.5"/><circle cx="395.8" cy="614.3" r="9.5"/><circle cx="395.8" cy="646.4" r="9.5"/><circle cx="395.8" cy="666.3" r="9.5"/><circle cx="395.8" cy="667.9" r="9.5"/><circle cx="395.8" cy="688.3" r="9.5"/><circle cx="395.8" cy="689" r="9.5"/><circle cx="422.7" cy="104.2" r="9.5"/><circle cx="422.7" cy="107.5" r="9.5"/><circle cx="422.7" cy="118.7" r="9.5"/><circle cx="422.7" cy="119.8" r="9.5"/><circle cx="422.7" cy="172.4" r="9.5"/><circle cx="422.7" cy="185.2" r="9.5"/><circle cx="422.7" cy="402.2" r="9.5"/><circle cx="422.7" cy="563.4" r="9.5"/><circle cx="422.7" cy="570.6" r="9.5"/><circle cx="422.7" cy="578.2" r="9.5"/><circle cx="422.7" cy="614.3" r="9.5"/><circle cx="422.7" cy="646.7" r="9.5"/><circle cx="422.7" cy="665.9" r="9.5"/><circle cx="422.7" cy="669.1" r="9.5"/><circle cx="422.7" cy="688.5" r="9.5"/><circle cx="422.7" cy="690" r="9.5"/><circle cx="449.6" cy="104.2" r="9.5"/><circle cx="449.6" cy="108.7" r="9.5"/><circle cx="449.6" cy="120.3" r="9.5"/><circle cx="449.6" cy="121.3" r="9.5"/><circle cx="449.6" cy="175.5" r="9.5"/><circle cx="449.6" cy="197.5" r="9.5"/><circle cx="449.6" cy="402" r="9.5"/><circle cx="449.6" cy="404" r="9.5"/><circle cx="449.6" cy="558.8" r="9.5"/><circle cx="449.6" cy="560.3" r="9.5"/><circle cx="449.6" cy="569.5" r="9.5"/><circle cx="449.6" cy="578.9" r="9.5"/><circle cx="449.6" cy="614.3" r="9.5"/><circle cx="449.6" cy="647.2" r="9.5"/><circle cx="449.6" cy="667.7" r="9.5"/><circle cx="449.6" cy="672.7" r="9.5"/><circle cx="449.6" cy="691.1" r="9.5"/><circle cx="476.5" cy="102.9" r="9.5"/><circle cx="476.5" cy="110.6" r="9.5"/><circle cx="476.5" cy="121.3" r="9.5"/><circle cx="476.5" cy="122.8" r="9.5"/><circle cx="476.5" cy="181.1" r="9.5"/><circle cx="476.5" cy="215.7" r="9.5"/><circle cx="476.5" cy="403" r="9.5"/><circle cx="476.5" cy="404.5" r="9.5"/><circle cx="476.5" cy="554.2" r="9.5"/><circle cx="476.5" cy="557" r="9.5"/><circle cx="476.5" cy="566.5" r="9.5"/><circle cx="476.5" cy="581.3" r="9.5"/><circle cx="476.5" cy="614.3" r="9.5"/><circle cx="476.5" cy="647.8" r="9.5"/><circle cx="476.5" cy="668.7" r="9.5"/><circle cx="476.5" cy="675.9" r="9.5"/><circle cx="476.5" cy="693" r="9.5"/><circle cx="503.3" cy="41.3" r="9.5"/><circle cx="503.3" cy="101.9" r="9.5"/><circle cx="503.3" cy="111.1" r="9.5"/><circle cx="503.3" cy="122.3" r="9.5"/><circle cx="503.3" cy="129" r="9.5"/><circle cx="503.3" cy="192.4" r="9.5"/><circle cx="503.3" cy="241.7" r="9.5"/><circle cx="503.3" cy="404.5" r="9.5"/><circle cx="503.3" cy="406.5" r="9.5"/><circle cx="503.3" cy="550.1" r="9.5"/><circle cx="503.3" cy="555.7" r="9.5"/><circle cx="503.3" cy="564.4" r="9.5"/><circle cx="503.3" cy="584.4" r="9.5"/><circle cx="503.3" cy="614.5" r="9.5"/><circle cx="503.3" cy="648.1" r="9.5"/><circle cx="503.3" cy="671.1" r="9.5"/><circle cx="503.3" cy="680.7" r="9.5"/><circle cx="503.3" cy="695.8" r="9.5"/><circle cx="530.1" cy="43.8" r="9.5"/><circle cx="530.1" cy="100.3" r="9.5"/><circle cx="530.1" cy="112.1" r="9.5"/><circle cx="530.1" cy="123.8" r="9.5"/><circle cx="530.1" cy="136.6" r="9.5"/><circle cx="530.1" cy="207.2" r="9.5"/><circle cx="530.1" cy="270.7" r="9.5"/><circle cx="530.1" cy="405.9" r="9.5"/><circle cx="530.1" cy="411.1" r="9.5"/><circle cx="530.1" cy="546.5" r="9.5"/><circle cx="530.1" cy="553" r="9.5"/><circle cx="530.1" cy="562.9" r="9.5"/><circle cx="530.1" cy="587.4" r="9.5"/><circle cx="530.1" cy="615" r="9.5"/><circle cx="530.1" cy="616" r="9.5"/><circle cx="530.1" cy="648.3" r="9.5"/><circle cx="530.1" cy="649" r="9.5"/><circle cx="530.1" cy="673.1" r="9.5"/><circle cx="530.1" cy="684.3" r="9.5"/><circle cx="530.1" cy="697.4" r="9.5"/><circle cx="530.1" cy="698" r="9.5"/><circle cx="557" cy="47.1" r="9.5"/><circle cx="557" cy="94.8" r="9.5"/><circle cx="557" cy="112.5" r="9.5"/><circle cx="557" cy="124" r="9.5"/><circle cx="557" cy="148.1" r="9.5"/><circle cx="557" cy="231" r="9.5"/><circle cx="557" cy="286" r="9.5"/><circle cx="557" cy="405.9" r="9.5"/><circle cx="557" cy="418.2" r="9.5"/><circle cx="557" cy="546.3" r="9.5"/><circle cx="557" cy="548.2" r="9.5"/><circle cx="557" cy="561.3" r="9.5"/><circle cx="557" cy="586.9" r="9.5"/><circle cx="557" cy="615" r="9.5"/><circle cx="557" cy="616.6" r="9.5"/><circle cx="557" cy="646.5" r="9.5"/><circle cx="557" cy="650.8" r="9.5"/><circle cx="557" cy="677.5" r="9.5"/><circle cx="557" cy="687.4" r="9.5"/><circle cx="557" cy="699.7" r="9.5"/><circle cx="570.3" cy="47.5" r="9.5"/><circle cx="570.3" cy="83.3" r="9.5"/><circle cx="570.3" cy="113.5" r="9.5"/><circle cx="570.3" cy="122.8" r="9.5"/><circle cx="570.3" cy="155.3" r="9.5"/><circle cx="570.3" cy="253.1" r="9.5"/><circle cx="570.3" cy="283.4" r="9.5"/><circle cx="570.3" cy="404" r="9.5"/><circle cx="570.3" cy="424.4" r="9.5"/><circle cx="570.3" cy="544.6" r="9.5"/><circle cx="570.3" cy="561.4" r="9.5"/><circle cx="570.3" cy="584.4" r="9.5"/><circle cx="570.3" cy="614.4" r="9.5"/><circle cx="570.3" cy="616.3" r="9.5"/><circle cx="570.3" cy="642" r="9.5"/><circle cx="570.3" cy="651.4" r="9.5"/><circle cx="570.3" cy="677.5" r="9.5"/><circle cx="570.3" cy="689.7" r="9.5"/><circle cx="570.3" cy="699" r="9.5"/><circle cx="610.3" cy="54" r="9.5"/><circle cx="610.3" cy="59.8" r="9.5"/><circle cx="610.3" cy="118.2" r="9.5"/><circle cx="610.3" cy="119.8" r="9.5"/><circle cx="610.3" cy="187.5" r="9.5"/><circle cx="610.3" cy="217.8" r="9.5"/><circle cx="610.3" cy="365.4" r="9.5"/><circle cx="610.3" cy="381.8" r="9.5"/><circle cx="610.3" cy="497.4" r="9.5"/><circle cx="610.3" cy="519.8" r="9.5"/><circle cx="610.3" cy="556.8" r="9.5"/><circle cx="610.3" cy="569.1" r="9.5"/><circle cx="610.3" cy="579.8" r="9.5"/><circle cx="610.3" cy="599" r="9.5"/><circle cx="610.3" cy="615.1" r="9.5"/><circle cx="610.3" cy="659.8" r="9.5"/><circle cx="610.3" cy="667.9" r="9.5"/><circle cx="610.3" cy="695.6" r="9.5"/><circle cx="637.4" cy="57.6" r="9.5"/><circle cx="637.4" cy="118.6" r="9.5"/><circle cx="637.4" cy="203.6" r="9.5"/><circle cx="637.4" cy="375.1" r="9.5"/><circle cx="637.4" cy="516.3" r="9.5"/><circle cx="637.4" cy="563.7" r="9.5"/><circle cx="637.4" cy="589.4" r="9.5"/><circle cx="637.4" cy="615.1" r="9.5"/><circle cx="637.4" cy="665.6" r="9.5"/><circle cx="637.4" cy="698" r="9.5"/><circle cx="583.3" cy="267.3" r="9.5"/><circle cx="583.3" cy="293" r="9.5"/><circle cx="586.8" cy="309.8" r="9.5"/><circle cx="590.2" cy="322.1" r="9.5"/><circle cx="593.3" cy="337.8" r="9.5"/><circle cx="597.1" cy="345.9" r="9.5"/><circle cx="584.2" cy="64.2" r="9.5"/><circle cx="587.5" cy="63" r="9.5"/><circle cx="590.9" cy="61.9" r="9.5"/><circle cx="594.2" cy="60.7" r="9.5"/><circle cx="597.6" cy="59.5" r="9.5"/><circle cx="584.2" cy="48" r="9.5"/><circle cx="587.5" cy="47.5" r="9.5"/><circle cx="590.9" cy="47" r="9.5"/><circle cx="594.2" cy="46.5" r="9.5"/><circle cx="597.6" cy="46" r="9.5"/><circle cx="584.2" cy="114" r="9.5"/><circle cx="587.5" cy="114.6" r="9.5"/><circle cx="590.9" cy="115.2" r="9.5"/><circle cx="594.2" cy="115.8" r="9.5"/><circle cx="597.6" cy="116.4" r="9.5"/><circle cx="584.2" cy="122.5" r="9.5"/><circle cx="587.5" cy="122" r="9.5"/><circle cx="590.9" cy="121.4" r="9.5"/><circle cx="594.2" cy="120.8" r="9.5"/><circle cx="597.6" cy="120.3" r="9.5"/><circle cx="584.2" cy="164.7" r="9.5"/><circle cx="587.5" cy="167.4" r="9.5"/><circle cx="590.9" cy="170.1" r="9.5"/><circle cx="594.2" cy="172.8" r="9.5"/><circle cx="597.6" cy="175.5" r="9.5"/><circle cx="584.2" cy="396" r="9.5"/><circle cx="587.5" cy="393.8" r="9.5"/><circle cx="590.9" cy="391.5" r="9.5"/><circle cx="594.2" cy="389.2" r="9.5"/><circle cx="597.6" cy="387" r="9.5"/><circle cx="584.2" cy="437" r="9.5"/><circle cx="587.5" cy="444.8" r="9.5"/><circle cx="590.9" cy="452.5" r="9.5"/><circle cx="594.2" cy="460.2" r="9.5"/><circle cx="597.6" cy="468" r="9.5"/><circle cx="584.2" cy="524.6" r="9.5"/><circle cx="587.5" cy="523.8" r="9.5"/><circle cx="590.9" cy="523" r="9.5"/><circle cx="594.2" cy="522.1" r="9.5"/><circle cx="597.6" cy="521.3" r="9.5"/><circle cx="584.2" cy="547" r="9.5"/><circle cx="587.5" cy="547.8" r="9.5"/><circle cx="590.9" cy="548.5" r="9.5"/><circle cx="594.2" cy="549.2" r="9.5"/><circle cx="597.6" cy="550" r="9.5"/><circle cx="584.2" cy="569.6" r="9.5"/><circle cx="587.5" cy="570" r="9.5"/><circle cx="590.9" cy="570.4" r="9.5"/><circle cx="594.2" cy="570.8" r="9.5"/><circle cx="597.6" cy="571.2" r="9.5"/><circle cx="584.2" cy="578.9" r="9.5"/><circle cx="587.5" cy="577.1" r="9.5"/><circle cx="590.9" cy="575.2" r="9.5"/><circle cx="594.2" cy="573.4" r="9.5"/><circle cx="597.6" cy="571.6" r="9.5"/><circle cx="584.2" cy="615.5" r="9.5"/><circle cx="587.5" cy="615.5" r="9.5"/><circle cx="590.9" cy="615.5" r="9.5"/><circle cx="594.2" cy="615.5" r="9.5"/><circle cx="597.6" cy="615.5" r="9.5"/><circle cx="584.2" cy="619.5" r="9.5"/><circle cx="587.5" cy="616" r="9.5"/><circle cx="590.9" cy="612.5" r="9.5"/><circle cx="594.2" cy="609" r="9.5"/><circle cx="597.6" cy="605.5" r="9.5"/><circle cx="584.2" cy="653.3" r="9.5"/><circle cx="587.5" cy="653.7" r="9.5"/><circle cx="590.9" cy="654.1" r="9.5"/><circle cx="594.2" cy="654.6" r="9.5"/><circle cx="597.6" cy="655" r="9.5"/><circle cx="584.2" cy="668.5" r="9.5"/><circle cx="587.5" cy="668.1" r="9.5"/><circle cx="590.9" cy="667.8" r="9.5"/><circle cx="594.2" cy="667.4" r="9.5"/><circle cx="597.6" cy="667" r="9.5"/><circle cx="584.2" cy="690" r="9.5"/><circle cx="587.5" cy="690.5" r="9.5"/><circle cx="590.9" cy="691" r="9.5"/><circle cx="594.2" cy="691.5" r="9.5"/><circle cx="597.6" cy="692" r="9.5"/><circle cx="584.2" cy="697" r="9.5"/><circle cx="587.5" cy="697" r="9.5"/><circle cx="590.9" cy="697" r="9.5"/><circle cx="594.2" cy="697" r="9.5"/><circle cx="597.6" cy="697" r="9.5"/><circle cx="597.6" cy="229.5" r="9.5"/><circle cx="594.6" cy="235" r="9.5"/><circle cx="591.5" cy="241" r="9.5"/><circle cx="588.5" cy="247.5" r="9.5"/></g><g fill="#0000ff" stroke="#000" stroke-width="2.2" stroke-linejoin="miter"><path d="M101 260.8L109.8 269.6L101 278.4L92.2 269.6Z"/><path d="M127.8 260.6L136.6 269.4L127.8 278.2L119 269.4Z"/><path d="M154.6 261.6L163.4 270.4L154.6 279.2L145.8 270.4Z"/><path d="M181.5 266.6L190.3 275.4L181.5 284.2L172.7 275.4Z"/><path d="M208.3 269.2L217.1 278L208.3 286.8L199.5 278Z"/><path d="M235.2 271.2L244 280L235.2 288.8L226.4 280Z"/><path d="M261.9 273.2L270.7 282L261.9 290.8L253.1 282Z"/><path d="M288.8 274.2L297.6 283L288.8 291.8L280 283Z"/><path d="M315.6 275.2L324.4 284L315.6 292.8L306.8 284Z"/><path d="M342.3 275.6L351.1 284.4L342.3 293.2L333.5 284.4Z"/><path d="M369.2 276.2L378 285L369.2 293.8L360.4 285Z"/><path d="M589.1 272.6L597.9 281.4L589.1 290.2L580.3 281.4Z"/><path d="M596.7 280.3L605.5 289.1L596.7 297.9L587.9 289.1Z"/><path d="M610.4 283L619.2 291.8L610.4 300.6L601.6 291.8Z"/><path d="M637.4 280.7L646.2 289.5L637.4 298.3L628.6 289.5Z"/><path d="M570.3 335.1L579.1 343.9L570.3 352.7L561.5 343.9Z"/><path d="M583.7 335.5L592.5 344.3L583.7 353.1L574.9 344.3Z"/><path d="M586.9 342L595.7 350.8L586.9 359.6L578.1 350.8Z"/><path d="M395.8 280.6L404.6 289.4L395.8 298.2L387 289.4Z"/><path d="M422.7 284.7L431.5 293.5L422.7 302.3L413.9 293.5Z"/><path d="M449.5 290.8L458.3 299.6L449.5 308.4L440.7 299.6Z"/><path d="M476.4 300.5L485.2 309.3L476.4 318.1L467.6 309.3Z"/><path d="M503.2 313.8L512 322.6L503.2 331.4L494.4 322.6Z"/><path d="M556.7 472.6L565.5 481.4L556.7 490.2L547.9 481.4Z"/><path d="M530 470L538.8 478.8L530 487.6L521.2 478.8Z"/></g></g><path d="M101.3 700.2V683.2M101.3 45.6V62.6M128.1 700.2V691.7M128.1 45.6V54.1M154.9 700.2V691.7M154.9 45.6V54.1M181.8 700.2V691.7M181.8 45.6V54.1M208.6 700.2V683.2M208.6 45.6V62.6M235.4 700.2V691.7M235.4 45.6V54.1M262.2 700.2V691.7M262.2 45.6V54.1M289.1 700.2V691.7M289.1 45.6V54.1M315.9 700.2V683.2M315.9 45.6V62.6M342.7 700.2V691.7M342.7 45.6V54.1M369.6 700.2V691.7M369.6 45.6V54.1M396.4 700.2V691.7M396.4 45.6V54.1M423.2 700.2V683.2M423.2 45.6V62.6M450 700.2V691.7M450 45.6V54.1M476.9 700.2V691.7M476.9 45.6V54.1M503.7 700.2V691.7M503.7 45.6V54.1M530.5 700.2V683.2M530.5 45.6V62.6M557.3 700.2V691.7M557.3 45.6V54.1M584.1 700.2V691.7M584.1 45.6V54.1M611 700.2V691.7M611 45.6V54.1M637.8 700.2V683.2M637.8 45.6V62.6M95.5 700.1H112.5M643 700.1H626M95.5 569.2H112.5M643 569.2H626M95.5 438.3H112.5M643 438.3H626M95.5 307.4H112.5M643 307.4H626M95.5 176.5H112.5M643 176.5H626M95.5 45.6H112.5M643 45.6H626" stroke="#000" stroke-width="2.0" fill="none"/><rect x="95.5" y="45.6" width="547.5" height="654.6" fill="none" stroke="#000" stroke-width="4.0"/><g font-family="DejaVu Sans, Liberation Sans, sans-serif" font-size="34" fill="#000"><text transform="translate(103.3 744.2) scale(1 1.032)" text-anchor="middle">0.0</text><text transform="translate(84.6 710.1) scale(1 1.032)" text-anchor="end">0.0</text><text transform="translate(210.6 744.2) scale(1 1.032)" text-anchor="middle">0.2</text><text transform="translate(84.6 579.2) scale(1 1.032)" text-anchor="end">0.2</text><text transform="translate(317.9 744.2) scale(1 1.032)" text-anchor="middle">0.4</text><text transform="translate(84.6 448.3) scale(1 1.032)" text-anchor="end">0.4</text><text transform="translate(425.2 744.2) scale(1 1.032)" text-anchor="middle">0.6</text><text transform="translate(84.6 317.4) scale(1 1.032)" text-anchor="end">0.6</text><text transform="translate(532.5 744.2) scale(1 1.032)" text-anchor="middle">0.8</text><text transform="translate(84.6 186.5) scale(1 1.032)" text-anchor="end">0.8</text><text transform="translate(639.8 744.2) scale(1 1.032)" text-anchor="middle">1.0</text><text transform="translate(84.6 55.6) scale(1 1.032)" text-anchor="end">1.0</text></g></g>
<g transform="translate(1313 0)"><g clip-path="url(#ax)"><g fill="none" stroke="#000" stroke-width="2.3"><circle cx="101" cy="102.2" r="9.5"/><circle cx="101" cy="111.6" r="9.5"/><circle cx="101" cy="129" r="9.5"/><circle cx="101" cy="410.9" r="9.5"/><circle cx="101" cy="583.6" r="9.5"/><circle cx="101" cy="614.7" r="9.5"/><circle cx="101" cy="650.1" r="9.5"/><circle cx="101" cy="654.4" r="9.5"/><circle cx="101" cy="663" r="9.5"/><circle cx="127.8" cy="99.1" r="9.5"/><circle cx="127.8" cy="103.9" r="9.5"/><circle cx="127.8" cy="113.6" r="9.5"/><circle cx="127.8" cy="129.5" r="9.5"/><circle cx="127.8" cy="409.5" r="9.5"/><circle cx="127.8" cy="411" r="9.5"/><circle cx="127.8" cy="580" r="9.5"/><circle cx="127.8" cy="582.5" r="9.5"/><circle cx="127.8" cy="585.5" r="9.5"/><circle cx="127.8" cy="588" r="9.5"/><circle cx="127.8" cy="615" r="9.5"/><circle cx="127.8" cy="649.6" r="9.5"/><circle cx="127.8" cy="654.7" r="9.5"/><circle cx="127.8" cy="664" r="9.5"/><circle cx="154.6" cy="95.5" r="9.5"/><circle cx="154.6" cy="103.4" r="9.5"/><circle cx="154.6" cy="117.7" r="9.5"/><circle cx="154.6" cy="119" r="9.5"/><circle cx="154.6" cy="131.5" r="9.5"/><circle cx="154.6" cy="132.5" r="9.5"/><circle cx="154.6" cy="408.5" r="9.5"/><circle cx="154.6" cy="410" r="9.5"/><circle cx="154.6" cy="575" r="9.5"/><circle cx="154.6" cy="582.1" r="9.5"/><circle cx="154.6" cy="589.8" r="9.5"/><circle cx="154.6" cy="592.3" r="9.5"/><circle cx="154.6" cy="614.7" r="9.5"/><circle cx="154.6" cy="648.1" r="9.5"/><circle cx="154.6" cy="654.7" r="9.5"/><circle cx="154.6" cy="655.7" r="9.5"/><circle cx="154.6" cy="666.5" r="9.5"/><circle cx="181.5" cy="72.5" r="9.5"/><circle cx="181.5" cy="101.9" r="9.5"/><circle cx="181.5" cy="123.3" r="9.5"/><circle cx="181.5" cy="129" r="9.5"/><circle cx="181.5" cy="145.3" r="9.5"/><circle cx="181.5" cy="406.5" r="9.5"/><circle cx="181.5" cy="531.9" r="9.5"/><circle cx="181.5" cy="580.6" r="9.5"/><circle cx="181.5" cy="581.8" r="9.5"/><circle cx="181.5" cy="598.2" r="9.5"/><circle cx="181.5" cy="614.7" r="9.5"/><circle cx="181.5" cy="616" r="9.5"/><circle cx="181.5" cy="638.3" r="9.5"/><circle cx="181.5" cy="645.5" r="9.5"/><circle cx="181.5" cy="655.7" r="9.5"/><circle cx="181.5" cy="659.3" r="9.5"/><circle cx="181.5" cy="665.7" r="9.5"/><circle cx="181.5" cy="671.9" r="9.5"/><circle cx="208.3" cy="85" r="9.5"/><circle cx="208.3" cy="101.5" r="9.5"/><circle cx="208.3" cy="104" r="9.5"/><circle cx="208.3" cy="123.3" r="9.5"/><circle cx="208.3" cy="132" r="9.5"/><circle cx="208.3" cy="152" r="9.5"/><circle cx="208.3" cy="405.1" r="9.5"/><circle cx="208.3" cy="555.2" r="9.5"/><circle cx="208.3" cy="580.8" r="9.5"/><circle cx="208.3" cy="598.7" r="9.5"/><circle cx="208.3" cy="614.7" r="9.5"/><circle cx="208.3" cy="616.5" r="9.5"/><circle cx="208.3" cy="641.9" r="9.5"/><circle cx="208.3" cy="643.1" r="9.5"/><circle cx="208.3" cy="660.1" r="9.5"/><circle cx="208.3" cy="669.7" r="9.5"/><circle cx="208.3" cy="673.7" r="9.5"/><circle cx="235.2" cy="95.7" r="9.5"/><circle cx="235.2" cy="102.4" r="9.5"/><circle cx="235.2" cy="107" r="9.5"/><circle cx="235.2" cy="110" r="9.5"/><circle cx="235.2" cy="122.8" r="9.5"/><circle cx="235.2" cy="136.6" r="9.5"/><circle cx="235.2" cy="157.4" r="9.5"/><circle cx="235.2" cy="403.9" r="9.5"/><circle cx="235.2" cy="568.3" r="9.5"/><circle cx="235.2" cy="580.3" r="9.5"/><circle cx="235.2" cy="598" r="9.5"/><circle cx="235.2" cy="614.7" r="9.5"/><circle cx="235.2" cy="643.1" r="9.5"/><circle cx="235.2" cy="660.1" r="9.5"/><circle cx="235.2" cy="676" r="9.5"/><circle cx="261.9" cy="101" r="9.5"/><circle cx="261.9" cy="102" r="9.5"/><circle cx="261.9" cy="110.6" r="9.5"/><circle cx="261.9" cy="122.3" r="9.5"/><circle cx="261.9" cy="142.2" r="9.5"/><circle cx="261.9" cy="161.9" r="9.5"/><circle cx="261.9" cy="403" r="9.5"/><circle cx="261.9" cy="404" r="9.5"/><circle cx="261.9" cy="573.1" r="9.5"/><circle cx="261.9" cy="579.5" r="9.5"/><circle cx="261.9" cy="581.1" r="9.5"/><circle cx="261.9" cy="595.6" r="9.5"/><circle cx="261.9" cy="614.7" r="9.5"/><circle cx="261.9" cy="644" r="9.5"/><circle cx="261.9" cy="660.7" r="9.5"/><circle cx="261.9" cy="678.3" r="9.5"/><circle cx="288.8" cy="102" r="9.5"/><circle cx="288.8" cy="103" r="9.5"/><circle cx="288.8" cy="113.1" r="9.5"/><circle cx="288.8" cy="121.8" r="9.5"/><circle cx="288.8" cy="150.2" r="9.5"/><circle cx="288.8" cy="164.7" r="9.5"/><circle cx="288.8" cy="402" r="9.5"/><circle cx="288.8" cy="403.5" r="9.5"/><circle cx="288.8" cy="572.4" r="9.5"/><circle cx="288.8" cy="578" r="9.5"/><circle cx="288.8" cy="583.6" r="9.5"/><circle cx="288.8" cy="589.3" r="9.5"/><circle cx="288.8" cy="592" r="9.5"/><circle cx="288.8" cy="614.7" r="9.5"/><circle cx="288.8" cy="644.2" r="9.5"/><circle cx="288.8" cy="661.9" r="9.5"/><circle cx="288.8" cy="681.5" r="9.5"/><circle cx="315.6" cy="103.1" r="9.5"/><circle cx="315.6" cy="114.6" r="9.5"/><circle cx="315.6" cy="121.3" r="9.5"/><circle cx="315.6" cy="157.1" r="9.5"/><circle cx="315.6" cy="166.3" r="9.5"/><circle cx="315.6" cy="401.9" r="9.5"/><circle cx="315.6" cy="571.1" r="9.5"/><circle cx="315.6" cy="576.2" r="9.5"/><circle cx="315.6" cy="582.1" r="9.5"/><circle cx="315.6" cy="586.7" r="9.5"/><circle cx="315.6" cy="587.9" r="9.5"/><circle cx="315.6" cy="614.5" r="9.5"/><circle cx="315.6" cy="644.7" r="9.5"/><circle cx="315.6" cy="663.1" r="9.5"/><circle cx="315.6" cy="664.3" r="9.5"/><circle cx="315.6" cy="683.5" r="9.5"/><circle cx="315.6" cy="684.5" r="9.5"/><circle cx="342.3" cy="103.9" r="9.5"/><circle cx="342.3" cy="117" r="9.5"/><circle cx="342.3" cy="120.8" r="9.5"/><circle cx="342.3" cy="162.7" r="9.5"/><circle cx="342.3" cy="167.3" r="9.5"/><circle cx="342.3" cy="401.8" r="9.5"/><circle cx="342.3" cy="569.8" r="9.5"/><circle cx="342.3" cy="574.4" r="9.5"/><circle cx="342.3" cy="582.6" r="9.5"/><circle cx="342.3" cy="614.5" r="9.5"/><circle cx="342.3" cy="645.2" r="9.5"/><circle cx="342.3" cy="663.9" r="9.5"/><circle cx="342.3" cy="665.1" r="9.5"/><circle cx="342.3" cy="685.1" r="9.5"/><circle cx="342.3" cy="686" r="9.5"/><circle cx="369.2" cy="104.4" r="9.5"/><circle cx="369.2" cy="117" r="9.5"/><circle cx="369.2" cy="118.5" r="9.5"/><circle cx="369.2" cy="120" r="9.5"/><circle cx="369.2" cy="169" r="9.5"/><circle cx="369.2" cy="401.8" r="9.5"/><circle cx="369.2" cy="568.3" r="9.5"/><circle cx="369.2" cy="570.6" r="9.5"/><circle cx="369.2" cy="578.5" r="9.5"/><circle cx="369.2" cy="580.8" r="9.5"/><circle cx="369.2" cy="614.5" r="9.5"/><circle cx="369.2" cy="645.7" r="9.5"/><circle cx="369.2" cy="665.9" r="9.5"/><circle cx="369.2" cy="667.1" r="9.5"/><circle cx="369.2" cy="686.7" r="9.5"/><circle cx="369.2" cy="687.5" r="9.5"/><circle cx="395.8" cy="104" r="9.5"/><circle cx="395.8" cy="105" r="9.5"/><circle cx="395.8" cy="117" r="9.5"/><circle cx="395.8" cy="119" r="9.5"/><circle cx="395.8" cy="120" r="9.5"/><circle cx="395.8" cy="170.6" r="9.5"/><circle cx="395.8" cy="177" r="9.5"/><circle cx="395.8" cy="401.9" r="9.5"/><circle cx="395.8" cy="566.3" r="9.5"/><circle cx="395.8" cy="568" r="9.5"/><circle cx="395.8" cy="574.4" r="9.5"/><circle cx="395.8" cy="579.2" r="9.5"/><circle cx="395.8" cy="614.3" r="9.5"/><circle cx="395.8" cy="646.4" r="9.5"/><circle cx="395.8" cy="666.3" r="9.5"/><circle cx="395.8" cy="667.9" r="9.5"/><circle cx="395.8" cy="688.3" r="9.5"/><circle cx="395.8" cy="689" r="9.5"/><circle cx="422.7" cy="104.2" r="9.5"/><circle cx="422.7" cy="107.5" r="9.5"/><circle cx="422.7" cy="118.7" r="9.5"/><circle cx="422.7" cy="119.8" r="9.5"/><circle cx="422.7" cy="172.4" r="9.5"/><circle cx="422.7" cy="185.2" r="9.5"/><circle cx="422.7" cy="402.2" r="9.5"/><circle cx="422.7" cy="563.4" r="9.5"/><circle cx="422.7" cy="570.6" r="9.5"/><circle cx="422.7" cy="578.2" r="9.5"/><circle cx="422.7" cy="614.3" r="9.5"/><circle cx="422.7" cy="646.7" r="9.5"/><circle cx="422.7" cy="665.9" r="9.5"/><circle cx="422.7" cy="669.1" r="9.5"/><circle cx="422.7" cy="688.5" r="9.5"/><circle cx="422.7" cy="690" r="9.5"/><circle cx="449.6" cy="104.2" r="9.5"/><circle cx="449.6" cy="108.7" r="9.5"/><circle cx="449.6" cy="120.3" r="9.5"/><circle cx="449.6" cy="121.3" r="9.5"/><circle cx="449.6" cy="175.5" r="9.5"/><circle cx="449.6" cy="197.5" r="9.5"/><circle cx="449.6" cy="402" r="9.5"/><circle cx="449.6" cy="404" r="9.5"/><circle cx="449.6" cy="558.8" r="9.5"/><circle cx="449.6" cy="560.3" r="9.5"/><circle cx="449.6" cy="569.5" r="9.5"/><circle cx="449.6" cy="578.9" r="9.5"/><circle cx="449.6" cy="614.3" r="9.5"/><circle cx="449.6" cy="647.2" r="9.5"/><circle cx="449.6" cy="667.7" r="9.5"/><circle cx="449.6" cy="672.7" r="9.5"/><circle cx="449.6" cy="691.1" r="9.5"/><circle cx="476.5" cy="102.9" r="9.5"/><circle cx="476.5" cy="110.6" r="9.5"/><circle cx="476.5" cy="121.3" r="9.5"/><circle cx="476.5" cy="122.8" r="9.5"/><circle cx="476.5" cy="181.1" r="9.5"/><circle cx="476.5" cy="215.7" r="9.5"/><circle cx="476.5" cy="403" r="9.5"/><circle cx="476.5" cy="404.5" r="9.5"/><circle cx="476.5" cy="554.2" r="9.5"/><circle cx="476.5" cy="557" r="9.5"/><circle cx="476.5" cy="566.5" r="9.5"/><circle cx="476.5" cy="581.3" r="9.5"/><circle cx="476.5" cy="614.3" r="9.5"/><circle cx="476.5" cy="647.8" r="9.5"/><circle cx="476.5" cy="668.7" r="9.5"/><circle cx="476.5" cy="675.9" r="9.5"/><circle cx="476.5" cy="693" r="9.5"/><circle cx="503.3" cy="41.3" r="9.5"/><circle cx="503.3" cy="101.9" r="9.5"/><circle cx="503.3" cy="111.1" r="9.5"/><circle cx="503.3" cy="122.3" r="9.5"/><circle cx="503.3" cy="129" r="9.5"/><circle cx="503.3" cy="192.4" r="9.5"/><circle cx="503.3" cy="241.7" r="9.5"/><circle cx="503.3" cy="404.5" r="9.5"/><circle cx="503.3" cy="406.5" r="9.5"/><circle cx="503.3" cy="550.1" r="9.5"/><circle cx="503.3" cy="555.7" r="9.5"/><circle cx="503.3" cy="564.4" r="9.5"/><circle cx="503.3" cy="584.4" r="9.5"/><circle cx="503.3" cy="614.5" r="9.5"/><circle cx="503.3" cy="648.1" r="9.5"/><circle cx="503.3" cy="671.1" r="9.5"/><circle cx="503.3" cy="680.7" r="9.5"/><circle cx="503.3" cy="695.8" r="9.5"/><circle cx="530.1" cy="43.8" r="9.5"/><circle cx="530.1" cy="100.3" r="9.5"/><circle cx="530.1" cy="112.1" r="9.5"/><circle cx="530.1" cy="123.8" r="9.5"/><circle cx="530.1" cy="136.6" r="9.5"/><circle cx="530.1" cy="207.2" r="9.5"/><circle cx="530.1" cy="270.7" r="9.5"/><circle cx="530.1" cy="405.9" r="9.5"/><circle cx="530.1" cy="411.1" r="9.5"/><circle cx="530.1" cy="546.5" r="9.5"/><circle cx="530.1" cy="553" r="9.5"/><circle cx="530.1" cy="562.9" r="9.5"/><circle cx="530.1" cy="587.4" r="9.5"/><circle cx="530.1" cy="615" r="9.5"/><circle cx="530.1" cy="616" r="9.5"/><circle cx="530.1" cy="648.3" r="9.5"/><circle cx="530.1" cy="649" r="9.5"/><circle cx="530.1" cy="673.1" r="9.5"/><circle cx="530.1" cy="684.3" r="9.5"/><circle cx="530.1" cy="697.4" r="9.5"/><circle cx="530.1" cy="698" r="9.5"/><circle cx="557" cy="47.1" r="9.5"/><circle cx="557" cy="94.8" r="9.5"/><circle cx="557" cy="112.5" r="9.5"/><circle cx="557" cy="124" r="9.5"/><circle cx="557" cy="148.1" r="9.5"/><circle cx="557" cy="231" r="9.5"/><circle cx="557" cy="286" r="9.5"/><circle cx="557" cy="405.9" r="9.5"/><circle cx="557" cy="418.2" r="9.5"/><circle cx="557" cy="546.3" r="9.5"/><circle cx="557" cy="548.2" r="9.5"/><circle cx="557" cy="561.3" r="9.5"/><circle cx="557" cy="586.9" r="9.5"/><circle cx="557" cy="615" r="9.5"/><circle cx="557" cy="616.6" r="9.5"/><circle cx="557" cy="646.5" r="9.5"/><circle cx="557" cy="650.8" r="9.5"/><circle cx="557" cy="677.5" r="9.5"/><circle cx="557" cy="687.4" r="9.5"/><circle cx="557" cy="699.7" r="9.5"/><circle cx="570.3" cy="47.5" r="9.5"/><circle cx="570.3" cy="83.3" r="9.5"/><circle cx="570.3" cy="113.5" r="9.5"/><circle cx="570.3" cy="122.8" r="9.5"/><circle cx="570.3" cy="155.3" r="9.5"/><circle cx="570.3" cy="253.1" r="9.5"/><circle cx="570.3" cy="283.4" r="9.5"/><circle cx="570.3" cy="404" r="9.5"/><circle cx="570.3" cy="424.4" r="9.5"/><circle cx="570.3" cy="544.6" r="9.5"/><circle cx="570.3" cy="561.4" r="9.5"/><circle cx="570.3" cy="584.4" r="9.5"/><circle cx="570.3" cy="614.4" r="9.5"/><circle cx="570.3" cy="616.3" r="9.5"/><circle cx="570.3" cy="642" r="9.5"/><circle cx="570.3" cy="651.4" r="9.5"/><circle cx="570.3" cy="677.5" r="9.5"/><circle cx="570.3" cy="689.7" r="9.5"/><circle cx="570.3" cy="699" r="9.5"/><circle cx="610.3" cy="54" r="9.5"/><circle cx="610.3" cy="59.8" r="9.5"/><circle cx="610.3" cy="118.2" r="9.5"/><circle cx="610.3" cy="119.8" r="9.5"/><circle cx="610.3" cy="187.5" r="9.5"/><circle cx="610.3" cy="217.8" r="9.5"/><circle cx="610.3" cy="365.4" r="9.5"/><circle cx="610.3" cy="381.8" r="9.5"/><circle cx="610.3" cy="497.4" r="9.5"/><circle cx="610.3" cy="519.8" r="9.5"/><circle cx="610.3" cy="556.8" r="9.5"/><circle cx="610.3" cy="569.1" r="9.5"/><circle cx="610.3" cy="579.8" r="9.5"/><circle cx="610.3" cy="599" r="9.5"/><circle cx="610.3" cy="615.1" r="9.5"/><circle cx="610.3" cy="659.8" r="9.5"/><circle cx="610.3" cy="667.9" r="9.5"/><circle cx="610.3" cy="695.6" r="9.5"/><circle cx="637.4" cy="57.6" r="9.5"/><circle cx="637.4" cy="118.6" r="9.5"/><circle cx="637.4" cy="203.6" r="9.5"/><circle cx="637.4" cy="375.1" r="9.5"/><circle cx="637.4" cy="516.3" r="9.5"/><circle cx="637.4" cy="563.7" r="9.5"/><circle cx="637.4" cy="589.4" r="9.5"/><circle cx="637.4" cy="615.1" r="9.5"/><circle cx="637.4" cy="665.6" r="9.5"/><circle cx="637.4" cy="698" r="9.5"/><circle cx="583.3" cy="267.3" r="9.5"/><circle cx="583.3" cy="293" r="9.5"/><circle cx="586.8" cy="309.8" r="9.5"/><circle cx="590.2" cy="322.1" r="9.5"/><circle cx="593.3" cy="337.8" r="9.5"/><circle cx="597.1" cy="345.9" r="9.5"/><circle cx="584.2" cy="64.2" r="9.5"/><circle cx="587.5" cy="63" r="9.5"/><circle cx="590.9" cy="61.9" r="9.5"/><circle cx="594.2" cy="60.7" r="9.5"/><circle cx="597.6" cy="59.5" r="9.5"/><circle cx="584.2" cy="48" r="9.5"/><circle cx="587.5" cy="47.5" r="9.5"/><circle cx="590.9" cy="47" r="9.5"/><circle cx="594.2" cy="46.5" r="9.5"/><circle cx="597.6" cy="46" r="9.5"/><circle cx="584.2" cy="114" r="9.5"/><circle cx="587.5" cy="114.6" r="9.5"/><circle cx="590.9" cy="115.2" r="9.5"/><circle cx="594.2" cy="115.8" r="9.5"/><circle cx="597.6" cy="116.4" r="9.5"/><circle cx="584.2" cy="122.5" r="9.5"/><circle cx="587.5" cy="122" r="9.5"/><circle cx="590.9" cy="121.4" r="9.5"/><circle cx="594.2" cy="120.8" r="9.5"/><circle cx="597.6" cy="120.3" r="9.5"/><circle cx="584.2" cy="164.7" r="9.5"/><circle cx="587.5" cy="167.4" r="9.5"/><circle cx="590.9" cy="170.1" r="9.5"/><circle cx="594.2" cy="172.8" r="9.5"/><circle cx="597.6" cy="175.5" r="9.5"/><circle cx="584.2" cy="396" r="9.5"/><circle cx="587.5" cy="393.8" r="9.5"/><circle cx="590.9" cy="391.5" r="9.5"/><circle cx="594.2" cy="389.2" r="9.5"/><circle cx="597.6" cy="387" r="9.5"/><circle cx="584.2" cy="437" r="9.5"/><circle cx="587.5" cy="444.8" r="9.5"/><circle cx="590.9" cy="452.5" r="9.5"/><circle cx="594.2" cy="460.2" r="9.5"/><circle cx="597.6" cy="468" r="9.5"/><circle cx="584.2" cy="524.6" r="9.5"/><circle cx="587.5" cy="523.8" r="9.5"/><circle cx="590.9" cy="523" r="9.5"/><circle cx="594.2" cy="522.1" r="9.5"/><circle cx="597.6" cy="521.3" r="9.5"/><circle cx="584.2" cy="547" r="9.5"/><circle cx="587.5" cy="547.8" r="9.5"/><circle cx="590.9" cy="548.5" r="9.5"/><circle cx="594.2" cy="549.2" r="9.5"/><circle cx="597.6" cy="550" r="9.5"/><circle cx="584.2" cy="569.6" r="9.5"/><circle cx="587.5" cy="570" r="9.5"/><circle cx="590.9" cy="570.4" r="9.5"/><circle cx="594.2" cy="570.8" r="9.5"/><circle cx="597.6" cy="571.2" r="9.5"/><circle cx="584.2" cy="578.9" r="9.5"/><circle cx="587.5" cy="577.1" r="9.5"/><circle cx="590.9" cy="575.2" r="9.5"/><circle cx="594.2" cy="573.4" r="9.5"/><circle cx="597.6" cy="571.6" r="9.5"/><circle cx="584.2" cy="615.5" r="9.5"/><circle cx="587.5" cy="615.5" r="9.5"/><circle cx="590.9" cy="615.5" r="9.5"/><circle cx="594.2" cy="615.5" r="9.5"/><circle cx="597.6" cy="615.5" r="9.5"/><circle cx="584.2" cy="619.5" r="9.5"/><circle cx="587.5" cy="616" r="9.5"/><circle cx="590.9" cy="612.5" r="9.5"/><circle cx="594.2" cy="609" r="9.5"/><circle cx="597.6" cy="605.5" r="9.5"/><circle cx="584.2" cy="653.3" r="9.5"/><circle cx="587.5" cy="653.7" r="9.5"/><circle cx="590.9" cy="654.1" r="9.5"/><circle cx="594.2" cy="654.6" r="9.5"/><circle cx="597.6" cy="655" r="9.5"/><circle cx="584.2" cy="668.5" r="9.5"/><circle cx="587.5" cy="668.1" r="9.5"/><circle cx="590.9" cy="667.8" r="9.5"/><circle cx="594.2" cy="667.4" r="9.5"/><circle cx="597.6" cy="667" r="9.5"/><circle cx="584.2" cy="690" r="9.5"/><circle cx="587.5" cy="690.5" r="9.5"/><circle cx="590.9" cy="691" r="9.5"/><circle cx="594.2" cy="691.5" r="9.5"/><circle cx="597.6" cy="692" r="9.5"/><circle cx="584.2" cy="697" r="9.5"/><circle cx="587.5" cy="697" r="9.5"/><circle cx="590.9" cy="697" r="9.5"/><circle cx="594.2" cy="697" r="9.5"/><circle cx="597.6" cy="697" r="9.5"/><circle cx="597.6" cy="229.5" r="9.5"/><circle cx="594.6" cy="235" r="9.5"/><circle cx="591.5" cy="241" r="9.5"/><circle cx="588.5" cy="247.5" r="9.5"/></g><g fill="#0000ff" stroke="#000" stroke-width="2.2" stroke-linejoin="miter"><path d="M101 260.8L109.8 269.6L101 278.4L92.2 269.6Z"/><path d="M127.8 260.6L136.6 269.4L127.8 278.2L119 269.4Z"/><path d="M154.6 261.6L163.4 270.4L154.6 279.2L145.8 270.4Z"/><path d="M181.5 266.6L190.3 275.4L181.5 284.2L172.7 275.4Z"/><path d="M208.3 269.2L217.1 278L208.3 286.8L199.5 278Z"/><path d="M235.2 271.2L244 280L235.2 288.8L226.4 280Z"/><path d="M261.9 273.2L270.7 282L261.9 290.8L253.1 282Z"/><path d="M288.8 274.2L297.6 283L288.8 291.8L280 283Z"/><path d="M315.6 275.2L324.4 284L315.6 292.8L306.8 284Z"/><path d="M342.3 275.6L351.1 284.4L342.3 293.2L333.5 284.4Z"/><path d="M369.2 276.2L378 285L369.2 293.8L360.4 285Z"/><path d="M589.1 272.6L597.9 281.4L589.1 290.2L580.3 281.4Z"/><path d="M596.7 280.3L605.5 289.1L596.7 297.9L587.9 289.1Z"/><path d="M610.4 283L619.2 291.8L610.4 300.6L601.6 291.8Z"/><path d="M637.4 280.7L646.2 289.5L637.4 298.3L628.6 289.5Z"/><path d="M570.3 335.1L579.1 343.9L570.3 352.7L561.5 343.9Z"/><path d="M583.7 335.5L592.5 344.3L583.7 353.1L574.9 344.3Z"/><path d="M586.9 342L595.7 350.8L586.9 359.6L578.1 350.8Z"/><path d="M395.8 280.6L404.6 289.4L395.8 298.2L387 289.4Z"/><path d="M422.7 284.7L431.5 293.5L422.7 302.3L413.9 293.5Z"/><path d="M449.5 290.8L458.3 299.6L449.5 308.4L440.7 299.6Z"/><path d="M476.4 300.5L485.2 309.3L476.4 318.1L467.6 309.3Z"/><path d="M503.2 313.8L512 322.6L503.2 331.4L494.4 322.6Z"/><path d="M556.7 472.6L565.5 481.4L556.7 490.2L547.9 481.4Z"/><path d="M530 470L538.8 478.8L530 487.6L521.2 478.8Z"/></g></g><path d="M101.3 700.2V683.2M101.3 45.6V62.6M128.1 700.2V691.7M128.1 45.6V54.1M154.9 700.2V691.7M154.9 45.6V54.1M181.8 700.2V691.7M181.8 45.6V54.1M208.6 700.2V683.2M208.6 45.6V62.6M235.4 700.2V691.7M235.4 45.6V54.1M262.2 700.2V691.7M262.2 45.6V54.1M289.1 700.2V691.7M289.1 45.6V54.1M315.9 700.2V683.2M315.9 45.6V62.6M342.7 700.2V691.7M342.7 45.6V54.1M369.6 700.2V691.7M369.6 45.6V54.1M396.4 700.2V691.7M396.4 45.6V54.1M423.2 700.2V683.2M423.2 45.6V62.6M450 700.2V691.7M450 45.6V54.1M476.9 700.2V691.7M476.9 45.6V54.1M503.7 700.2V691.7M503.7 45.6V54.1M530.5 700.2V683.2M530.5 45.6V62.6M557.3 700.2V691.7M557.3 45.6V54.1M584.1 700.2V691.7M584.1 45.6V54.1M611 700.2V691.7M611 45.6V54.1M637.8 700.2V683.2M637.8 45.6V62.6M95.5 700.1H112.5M643 700.1H626M95.5 569.2H112.5M643 569.2H626M95.5 438.3H112.5M643 438.3H626M95.5 307.4H112.5M643 307.4H626M95.5 176.5H112.5M643 176.5H626M95.5 45.6H112.5M643 45.6H626" stroke="#000" stroke-width="2.0" fill="none"/><rect x="95.5" y="45.6" width="547.5" height="654.6" fill="none" stroke="#000" stroke-width="4.0"/><g font-family="DejaVu Sans, Liberation Sans, sans-serif" font-size="34" fill="#000"><text transform="translate(103.3 744.2) scale(1 1.032)" text-anchor="middle">0.0</text><text transform="translate(84.6 710.1) scale(1 1.032)" text-anchor="end">0.0</text><text transform="translate(210.6 744.2) scale(1 1.032)" text-anchor="middle">0.2</text><text transform="translate(84.6 579.2) scale(1 1.032)" text-anchor="end">0.2</text><text transform="translate(317.9 744.2) scale(1 1.032)" text-anchor="middle">0.4</text><text transform="translate(84.6 448.3) scale(1 1.032)" text-anchor="end">0.4</text><text transform="translate(425.2 744.2) scale(1 1.032)" text-anchor="middle">0.6</text><text transform="translate(84.6 317.4) scale(1 1.032)" text-anchor="end">0.6</text><text transform="translate(532.5 744.2) scale(1 1.032)" text-anchor="middle">0.8</text><text transform="translate(84.6 186.5) scale(1 1.032)" text-anchor="end">0.8</text><text transform="translate(639.8 744.2) scale(1 1.032)" text-anchor="middle">1.0</text><text transform="translate(84.6 55.6) scale(1 1.032)" text-anchor="end">1.0</text></g></g>
<g transform="translate(0 785.7)"><g clip-path="url(#ax)"><g fill="none" stroke="#000" stroke-width="2.3"><circle cx="101" cy="57.7" r="9.5"/><circle cx="101" cy="118.5" r="9.5"/><circle cx="101" cy="202.9" r="9.5"/><circle cx="101" cy="374.6" r="9.5"/><circle cx="101" cy="516.2" r="9.5"/><circle cx="101" cy="563.8" r="9.5"/><circle cx="101" cy="589.3" r="9.5"/><circle cx="101" cy="614.9" r="9.5"/><circle cx="101" cy="665.2" r="9.5"/><circle cx="101" cy="697.9" r="9.5"/><circle cx="127.8" cy="54.6" r="9.5"/><circle cx="127.8" cy="75.6" r="9.5"/><circle cx="127.8" cy="119.1" r="9.5"/><circle cx="127.8" cy="198.8" r="9.5"/><circle cx="127.8" cy="233.8" r="9.5"/><circle cx="127.8" cy="367.9" r="9.5"/><circle cx="127.8" cy="385.8" r="9.5"/><circle cx="127.8" cy="506.5" r="9.5"/><circle cx="127.8" cy="534.6" r="9.5"/><circle cx="127.8" cy="557.6" r="9.5"/><circle cx="127.8" cy="568.4" r="9.5"/><circle cx="127.8" cy="581.7" r="9.5"/><circle cx="127.8" cy="613.9" r="9.5"/><circle cx="127.8" cy="621.5" r="9.5"/><circle cx="127.8" cy="664.4" r="9.5"/><circle cx="127.8" cy="675.6" r="9.5"/><circle cx="127.8" cy="697.1" r="9.5"/><circle cx="127.8" cy="45.8" r="9.5"/><circle cx="127.8" cy="49.8" r="9.5"/><circle cx="134.4" cy="54.1" r="9.5"/><circle cx="134.4" cy="89.9" r="9.5"/><circle cx="134.4" cy="119.6" r="9.5"/><circle cx="134.4" cy="200.3" r="9.5"/><circle cx="134.4" cy="258" r="9.5"/><circle cx="134.4" cy="369" r="9.5"/><circle cx="134.4" cy="389.9" r="9.5"/><circle cx="134.4" cy="506.5" r="9.5"/><circle cx="134.4" cy="539.7" r="9.5"/><circle cx="134.4" cy="558.1" r="9.5"/><circle cx="134.4" cy="568.4" r="9.5"/><circle cx="134.4" cy="583.7" r="9.5"/><circle cx="134.4" cy="614.4" r="9.5"/><circle cx="134.4" cy="619.7" r="9.5"/><circle cx="134.4" cy="630.9" r="9.5"/><circle cx="134.4" cy="665.2" r="9.5"/><circle cx="134.4" cy="677.2" r="9.5"/><circle cx="134.4" cy="697.1" r="9.5"/><circle cx="134.4" cy="45.8" r="9.5"/><circle cx="134.4" cy="49.8" r="9.5"/><circle cx="141.1" cy="53.6" r="9.5"/><circle cx="141.1" cy="104.7" r="9.5"/><circle cx="141.1" cy="120.1" r="9.5"/><circle cx="141.1" cy="200.3" r="9.5"/><circle cx="141.1" cy="283.9" r="9.5"/><circle cx="141.1" cy="370.5" r="9.5"/><circle cx="141.1" cy="393" r="9.5"/><circle cx="141.1" cy="506" r="9.5"/><circle cx="141.1" cy="543.8" r="9.5"/><circle cx="141.1" cy="562.7" r="9.5"/><circle cx="141.1" cy="585.8" r="9.5"/><circle cx="141.1" cy="614.9" r="9.5"/><circle cx="141.1" cy="634.8" r="9.5"/><circle cx="141.1" cy="665.2" r="9.5"/><circle cx="141.1" cy="678.8" r="9.5"/><circle cx="141.1" cy="697.1" r="9.5"/><circle cx="141.1" cy="45.8" r="9.5"/><circle cx="141.1" cy="49.8" r="9.5"/><circle cx="154.6" cy="53.6" r="9.5"/><circle cx="154.6" cy="99.6" r="9.5"/><circle cx="154.6" cy="119.6" r="9.5"/><circle cx="154.6" cy="128.3" r="9.5"/><circle cx="154.6" cy="185.5" r="9.5"/><circle cx="154.6" cy="297.7" r="9.5"/><circle cx="154.6" cy="376.6" r="9.5"/><circle cx="154.6" cy="393.5" r="9.5"/><circle cx="154.6" cy="503.4" r="9.5"/><circle cx="154.6" cy="537.2" r="9.5"/><circle cx="154.6" cy="571.4" r="9.5"/><circle cx="154.6" cy="591.4" r="9.5"/><circle cx="154.6" cy="614.4" r="9.5"/><circle cx="154.6" cy="639.6" r="9.5"/><circle cx="154.6" cy="665.2" r="9.5"/><circle cx="154.6" cy="682.8" r="9.5"/><circle cx="154.6" cy="697.1" r="9.5"/><circle cx="154.6" cy="45.8" r="9.5"/><circle cx="154.6" cy="49.8" r="9.5"/><circle cx="168" cy="53.6" r="9.5"/><circle cx="168" cy="97.6" r="9.5"/><circle cx="168" cy="120.1" r="9.5"/><circle cx="168" cy="131.3" r="9.5"/><circle cx="168" cy="182.4" r="9.5"/><circle cx="168" cy="319.2" r="9.5"/><circle cx="168" cy="377.6" r="9.5"/><circle cx="168" cy="397.1" r="9.5"/><circle cx="168" cy="504" r="9.5"/><circle cx="168" cy="532.6" r="9.5"/><circle cx="168" cy="555.6" r="9.5"/><circle cx="168" cy="576.5" r="9.5"/><circle cx="168" cy="596.5" r="9.5"/><circle cx="168" cy="614.9" r="9.5"/><circle cx="168" cy="642.8" r="9.5"/><circle cx="168" cy="667.6" r="9.5"/><circle cx="168" cy="683.6" r="9.5"/><circle cx="168" cy="697.1" r="9.5"/><circle cx="168" cy="45.8" r="9.5"/><circle cx="168" cy="49.8" r="9.5"/><circle cx="181.5" cy="49.3" r="9.5"/><circle cx="181.5" cy="54.6" r="9.5"/><circle cx="181.5" cy="88.4" r="9.5"/><circle cx="181.5" cy="119.1" r="9.5"/><circle cx="181.5" cy="129.3" r="9.5"/><circle cx="181.5" cy="175.8" r="9.5"/><circle cx="181.5" cy="345.7" r="9.5"/><circle cx="181.5" cy="380.2" r="9.5"/><circle cx="181.5" cy="402.2" r="9.5"/><circle cx="181.5" cy="499.9" r="9.5"/><circle cx="181.5" cy="528.5" r="9.5"/><circle cx="181.5" cy="554.1" r="9.5"/><circle cx="181.5" cy="582.7" r="9.5"/><circle cx="181.5" cy="598" r="9.5"/><circle cx="181.5" cy="614.4" r="9.5"/><circle cx="181.5" cy="616.4" r="9.5"/><circle cx="181.5" cy="644.8" r="9.5"/><circle cx="181.5" cy="667.6" r="9.5"/><circle cx="181.5" cy="684.4" r="9.5"/><circle cx="181.5" cy="697.1" r="9.5"/><circle cx="181.5" cy="45.8" r="9.5"/><circle cx="208.3" cy="51.6" r="9.5"/><circle cx="208.3" cy="56.2" r="9.5"/><circle cx="208.3" cy="79.2" r="9.5"/><circle cx="208.3" cy="118" r="9.5"/><circle cx="208.3" cy="128.3" r="9.5"/><circle cx="208.3" cy="168.1" r="9.5"/><circle cx="208.3" cy="359.7" r="9.5"/><circle cx="208.3" cy="379.7" r="9.5"/><circle cx="208.3" cy="408.3" r="9.5"/><circle cx="208.3" cy="497.3" r="9.5"/><circle cx="208.3" cy="526.4" r="9.5"/><circle cx="208.3" cy="552.5" r="9.5"/><circle cx="208.3" cy="589.3" r="9.5"/><circle cx="208.3" cy="598.5" r="9.5"/><circle cx="208.3" cy="613.9" r="9.5"/><circle cx="208.3" cy="616.9" r="9.5"/><circle cx="208.3" cy="645.6" r="9.5"/><circle cx="208.3" cy="667.6" r="9.5"/><circle cx="208.3" cy="681.2" r="9.5"/><circle cx="208.3" cy="697.1" r="9.5"/><circle cx="208.3" cy="46.3" r="9.5"/><circle cx="235.2" cy="51.1" r="9.5"/><circle cx="235.2" cy="57.2" r="9.5"/><circle cx="235.2" cy="74.6" r="9.5"/><circle cx="235.2" cy="117.5" r="9.5"/><circle cx="235.2" cy="127.7" r="9.5"/><circle cx="235.2" cy="161" r="9.5"/><circle cx="235.2" cy="364.4" r="9.5"/><circle cx="235.2" cy="378.7" r="9.5"/><circle cx="235.2" cy="412.4" r="9.5"/><circle cx="235.2" cy="495.8" r="9.5"/><circle cx="235.2" cy="525.4" r="9.5"/><circle cx="235.2" cy="551.5" r="9.5"/><circle cx="235.2" cy="594.4" r="9.5"/><circle cx="235.2" cy="596" r="9.5"/><circle cx="235.2" cy="614.9" r="9.5"/><circle cx="235.2" cy="618.5" r="9.5"/><circle cx="235.2" cy="646" r="9.5"/><circle cx="235.2" cy="668.4" r="9.5"/><circle cx="235.2" cy="678.8" r="9.5"/><circle cx="235.2" cy="697.1" r="9.5"/><circle cx="235.2" cy="46.3" r="9.5"/><circle cx="261.9" cy="48.7" r="9.5"/><circle cx="261.9" cy="57.7" r="9.5"/><circle cx="261.9" cy="72.5" r="9.5"/><circle cx="261.9" cy="117.5" r="9.5"/><circle cx="261.9" cy="127.7" r="9.5"/><circle cx="261.9" cy="153.3" r="9.5"/><circle cx="261.9" cy="367.1" r="9.5"/><circle cx="261.9" cy="379.7" r="9.5"/><circle cx="261.9" cy="416" r="9.5"/><circle cx="261.9" cy="494.2" r="9.5"/><circle cx="261.9" cy="524.4" r="9.5"/><circle cx="261.9" cy="550.2" r="9.5"/><circle cx="261.9" cy="596.5" r="9.5"/><circle cx="261.9" cy="597.8" r="9.5"/><circle cx="261.9" cy="614.9" r="9.5"/><circle cx="261.9" cy="624.1" r="9.5"/><circle cx="261.9" cy="645.6" r="9.5"/><circle cx="261.9" cy="668.4" r="9.5"/><circle cx="261.9" cy="676.4" r="9.5"/><circle cx="261.9" cy="696.3" r="9.5"/><circle cx="261.9" cy="45.8" r="9.5"/><circle cx="288.8" cy="48.7" r="9.5"/><circle cx="288.8" cy="58.4" r="9.5"/><circle cx="288.8" cy="71.2" r="9.5"/><circle cx="288.8" cy="117.5" r="9.5"/><circle cx="288.8" cy="127.7" r="9.5"/><circle cx="288.8" cy="148.2" r="9.5"/><circle cx="288.8" cy="366.4" r="9.5"/><circle cx="288.8" cy="377.1" r="9.5"/><circle cx="288.8" cy="417.2" r="9.5"/><circle cx="288.8" cy="493.5" r="9.5"/><circle cx="288.8" cy="524.2" r="9.5"/><circle cx="288.8" cy="550.5" r="9.5"/><circle cx="288.8" cy="593.9" r="9.5"/><circle cx="288.8" cy="598.5" r="9.5"/><circle cx="288.8" cy="614.9" r="9.5"/><circle cx="288.8" cy="625.6" r="9.5"/><circle cx="288.8" cy="645.2" r="9.5"/><circle cx="288.8" cy="670" r="9.5"/><circle cx="288.8" cy="674.8" r="9.5"/><circle cx="288.8" cy="696.3" r="9.5"/><circle cx="288.8" cy="45.8" r="9.5"/><circle cx="315.6" cy="48.7" r="9.5"/><circle cx="315.6" cy="58.9" r="9.5"/><circle cx="315.6" cy="70.7" r="9.5"/><circle cx="315.6" cy="116.5" r="9.5"/><circle cx="315.6" cy="127.2" r="9.5"/><circle cx="315.6" cy="140" r="9.5"/><circle cx="315.6" cy="364.4" r="9.5"/><circle cx="315.6" cy="383.1" r="9.5"/><circle cx="315.6" cy="420.1" r="9.5"/><circle cx="315.6" cy="492.7" r="9.5"/><circle cx="315.6" cy="523.2" r="9.5"/><circle cx="315.6" cy="548.6" r="9.5"/><circle cx="315.6" cy="587.8" r="9.5"/><circle cx="315.6" cy="601.1" r="9.5"/><circle cx="315.6" cy="614.4" r="9.5"/><circle cx="315.6" cy="628.7" r="9.5"/><circle cx="315.6" cy="645.6" r="9.5"/><circle cx="315.6" cy="670.8" r="9.5"/><circle cx="315.6" cy="674" r="9.5"/><circle cx="315.6" cy="696.3" r="9.5"/><circle cx="315.6" cy="45.8" r="9.5"/><circle cx="342.3" cy="48.7" r="9.5"/><circle cx="342.3" cy="59.2" r="9.5"/><circle cx="342.3" cy="69.5" r="9.5"/><circle cx="342.3" cy="116" r="9.5"/><circle cx="342.3" cy="126.8" r="9.5"/><circle cx="342.3" cy="135.9" r="9.5"/><circle cx="342.3" cy="362.8" r="9.5"/><circle cx="342.3" cy="383.8" r="9.5"/><circle cx="342.3" cy="421.1" r="9.5"/><circle cx="342.3" cy="492.4" r="9.5"/><circle cx="342.3" cy="522.9" r="9.5"/><circle cx="342.3" cy="548.4" r="9.5"/><circle cx="342.3" cy="584.7" r="9.5"/><circle cx="342.3" cy="601.6" r="9.5"/><circle cx="342.3" cy="613.9" r="9.5"/><circle cx="342.3" cy="629.7" r="9.5"/><circle cx="342.3" cy="645.6" r="9.5"/><circle cx="342.3" cy="671.6" r="9.5"/><circle cx="342.3" cy="673.2" r="9.5"/><circle cx="342.3" cy="696.3" r="9.5"/><circle cx="342.3" cy="45.8" r="9.5"/><circle cx="369.2" cy="48.7" r="9.5"/><circle cx="369.2" cy="59.7" r="9.5"/><circle cx="369.2" cy="70.5" r="9.5"/><circle cx="369.2" cy="116" r="9.5"/><circle cx="369.2" cy="126.8" r="9.5"/><circle cx="369.2" cy="134.4" r="9.5"/><circle cx="369.2" cy="362.3" r="9.5"/><circle cx="369.2" cy="384" r="9.5"/><circle cx="369.2" cy="421.1" r="9.5"/><circle cx="369.2" cy="492.2" r="9.5"/><circle cx="369.2" cy="522.6" r="9.5"/><circle cx="369.2" cy="548.1" r="9.5"/><circle cx="369.2" cy="583.7" r="9.5"/><circle cx="369.2" cy="601.6" r="9.5"/><circle cx="369.2" cy="613.9" r="9.5"/><circle cx="369.2" cy="630.2" r="9.5"/><circle cx="369.2" cy="645.6" r="9.5"/><circle cx="369.2" cy="671.6" r="9.5"/><circle cx="369.2" cy="673.2" r="9.5"/><circle cx="369.2" cy="696.3" r="9.5"/><circle cx="369.2" cy="45.8" r="9.5"/><circle cx="637.6" cy="57.7" r="9.5"/><circle cx="637.6" cy="118.5" r="9.5"/><circle cx="637.6" cy="202.9" r="9.5"/><circle cx="637.6" cy="374.6" r="9.5"/><circle cx="637.6" cy="516.2" r="9.5"/><circle cx="637.6" cy="563.8" r="9.5"/><circle cx="637.6" cy="589.3" r="9.5"/><circle cx="637.6" cy="614.9" r="9.5"/><circle cx="637.6" cy="665.2" r="9.5"/><circle cx="637.6" cy="697.9" r="9.5"/><circle cx="610.8" cy="54.6" r="9.5"/><circle cx="610.8" cy="75.6" r="9.5"/><circle cx="610.8" cy="119.1" r="9.5"/><circle cx="610.8" cy="198.8" r="9.5"/><circle cx="610.8" cy="233.8" r="9.5"/><circle cx="610.8" cy="367.9" r="9.5"/><circle cx="610.8" cy="385.8" r="9.5"/><circle cx="610.8" cy="506.5" r="9.5"/><circle cx="610.8" cy="534.6" r="9.5"/><circle cx="610.8" cy="557.6" r="9.5"/><circle cx="610.8" cy="568.4" r="9.5"/><circle cx="610.8" cy="581.7" r="9.5"/><circle cx="610.8" cy="613.9" r="9.5"/><circle cx="610.8" cy="621.5" r="9.5"/><circle cx="610.8" cy="664.4" r="9.5"/><circle cx="610.8" cy="675.6" r="9.5"/><circle cx="610.8" cy="697.1" r="9.5"/><circle cx="610.8" cy="45.8" r="9.5"/><circle cx="610.8" cy="49.8" r="9.5"/><circle cx="604.2" cy="54.1" r="9.5"/><circle cx="604.2" cy="89.9" r="9.5"/><circle cx="604.2" cy="119.6" r="9.5"/><circle cx="604.2" cy="200.3" r="9.5"/><circle cx="604.2" cy="258" r="9.5"/><circle cx="604.2" cy="369" r="9.5"/><circle cx="604.2" cy="389.9" r="9.5"/><circle cx="604.2" cy="506.5" r="9.5"/><circle cx="604.2" cy="539.7" r="9.5"/><circle cx="604.2" cy="558.1" r="9.5"/><circle cx="604.2" cy="568.4" r="9.5"/><circle cx="604.2" cy="583.7" r="9.5"/><circle cx="604.2" cy="614.4" r="9.5"/><circle cx="604.2" cy="619.7" r="9.5"/><circle cx="604.2" cy="630.9" r="9.5"/><circle cx="604.2" cy="665.2" r="9.5"/><circle cx="604.2" cy="677.2" r="9.5"/><circle cx="604.2" cy="697.1" r="9.5"/><circle cx="604.2" cy="45.8" r="9.5"/><circle cx="604.2" cy="49.8" r="9.5"/><circle cx="597.5" cy="53.6" r="9.5"/><circle cx="597.5" cy="104.7" r="9.5"/><circle cx="597.5" cy="120.1" r="9.5"/><circle cx="597.5" cy="200.3" r="9.5"/><circle cx="597.5" cy="283.9" r="9.5"/><circle cx="597.5" cy="370.5" r="9.5"/><circle cx="597.5" cy="393" r="9.5"/><circle cx="597.5" cy="506" r="9.5"/><circle cx="597.5" cy="543.8" r="9.5"/><circle cx="597.5" cy="562.7" r="9.5"/><circle cx="597.5" cy="585.8" r="9.5"/><circle cx="597.5" cy="614.9" r="9.5"/><circle cx="597.5" cy="634.8" r="9.5"/><circle cx="597.5" cy="665.2" r="9.5"/><circle cx="597.5" cy="678.8" r="9.5"/><circle cx="597.5" cy="697.1" r="9.5"/><circle cx="597.5" cy="45.8" r="9.5"/><circle cx="597.5" cy="49.8" r="9.5"/><circle cx="584" cy="53.6" r="9.5"/><circle cx="584" cy="99.6" r="9.5"/><circle cx="584" cy="119.6" r="9.5"/><circle cx="584" cy="128.3" r="9.5"/><circle cx="584" cy="185.5" r="9.5"/><circle cx="584" cy="297.7" r="9.5"/><circle cx="584" cy="376.6" r="9.5"/><circle cx="584" cy="393.5" r="9.5"/><circle cx="584" cy="503.4" r="9.5"/><circle cx="584" cy="537.2" r="9.5"/><circle cx="584" cy="571.4" r="9.5"/><circle cx="584" cy="591.4" r="9.5"/><circle cx="584" cy="614.4" r="9.5"/><circle cx="584" cy="639.6" r="9.5"/><circle cx="584" cy="665.2" r="9.5"/><circle cx="584" cy="682.8" r="9.5"/><circle cx="584" cy="697.1" r="9.5"/><circle cx="584" cy="45.8" r="9.5"/><circle cx="584" cy="49.8" r="9.5"/><circle cx="570.6" cy="53.6" r="9.5"/><circle cx="570.6" cy="97.6" r="9.5"/><circle cx="570.6" cy="120.1" r="9.5"/><circle cx="570.6" cy="131.3" r="9.5"/><circle cx="570.6" cy="182.4" r="9.5"/><circle cx="570.6" cy="319.2" r="9.5"/><circle cx="570.6" cy="377.6" r="9.5"/><circle cx="570.6" cy="397.1" r="9.5"/><circle cx="570.6" cy="504" r="9.5"/><circle cx="570.6" cy="532.6" r="9.5"/><circle cx="570.6" cy="555.6" r="9.5"/><circle cx="570.6" cy="576.5" r="9.5"/><circle cx="570.6" cy="596.5" r="9.5"/><circle cx="570.6" cy="614.9" r="9.5"/><circle cx="570.6" cy="642.8" r="9.5"/><circle cx="570.6" cy="667.6" r="9.5"/><circle cx="570.6" cy="683.6" r="9.5"/><circle cx="570.6" cy="697.1" r="9.5"/><circle cx="570.6" cy="45.8" r="9.5"/><circle cx="570.6" cy="49.8" r="9.5"/><circle cx="557.1" cy="49.3" r="9.5"/><circle cx="557.1" cy="54.6" r="9.5"/><circle cx="557.1" cy="88.4" r="9.5"/><circle cx="557.1" cy="119.1" r="9.5"/><circle cx="557.1" cy="129.3" r="9.5"/><circle cx="557.1" cy="175.8" r="9.5"/><circle cx="557.1" cy="345.7" r="9.5"/><circle cx="557.1" cy="380.2" r="9.5"/><circle cx="557.1" cy="402.2" r="9.5"/><circle cx="557.1" cy="499.9" r="9.5"/><circle cx="557.1" cy="528.5" r="9.5"/><circle cx="557.1" cy="554.1" r="9.5"/><circle cx="557.1" cy="582.7" r="9.5"/><circle cx="557.1" cy="598" r="9.5"/><circle cx="557.1" cy="614.4" r="9.5"/><circle cx="557.1" cy="616.4" r="9.5"/><circle cx="557.1" cy="644.8" r="9.5"/><circle cx="557.1" cy="667.6" r="9.5"/><circle cx="557.1" cy="684.4" r="9.5"/><circle cx="557.1" cy="697.1" r="9.5"/><circle cx="557.1" cy="45.8" r="9.5"/><circle cx="530.3" cy="51.6" r="9.5"/><circle cx="530.3" cy="56.2" r="9.5"/><circle cx="530.3" cy="79.2" r="9.5"/><circle cx="530.3" cy="118" r="9.5"/><circle cx="530.3" cy="128.3" r="9.5"/><circle cx="530.3" cy="168.1" r="9.5"/><circle cx="530.3" cy="359.7" r="9.5"/><circle cx="530.3" cy="379.7" r="9.5"/><circle cx="530.3" cy="408.3" r="9.5"/><circle cx="530.3" cy="497.3" r="9.5"/><circle cx="530.3" cy="526.4" r="9.5"/><circle cx="530.3" cy="552.5" r="9.5"/><circle cx="530.3" cy="589.3" r="9.5"/><circle cx="530.3" cy="598.5" r="9.5"/><circle cx="530.3" cy="613.9" r="9.5"/><circle cx="530.3" cy="616.9" r="9.5"/><circle cx="530.3" cy="645.6" r="9.5"/><circle cx="530.3" cy="667.6" r="9.5"/><circle cx="530.3" cy="681.2" r="9.5"/><circle cx="530.3" cy="697.1" r="9.5"/><circle cx="530.3" cy="46.3" r="9.5"/><circle cx="503.4" cy="51.1" r="9.5"/><circle cx="503.4" cy="57.2" r="9.5"/><circle cx="503.4" cy="74.6" r="9.5"/><circle cx="503.4" cy="117.5" r="9.5"/><circle cx="503.4" cy="127.7" r="9.5"/><circle cx="503.4" cy="161" r="9.5"/><circle cx="503.4" cy="364.4" r="9.5"/><circle cx="503.4" cy="378.7" r="9.5"/><circle cx="503.4" cy="412.4" r="9.5"/><circle cx="503.4" cy="495.8" r="9.5"/><circle cx="503.4" cy="525.4" r="9.5"/><circle cx="503.4" cy="551.5" r="9.5"/><circle cx="503.4" cy="594.4" r="9.5"/><circle cx="503.4" cy="596" r="9.5"/><circle cx="503.4" cy="614.9" r="9.5"/><circle cx="503.4" cy="618.5" r="9.5"/><circle cx="503.4" cy="646" r="9.5"/><circle cx="503.4" cy="668.4" r="9.5"/><circle cx="503.4" cy="678.8" r="9.5"/><circle cx="503.4" cy="697.1" r="9.5"/><circle cx="503.4" cy="46.3" r="9.5"/><circle cx="476.7" cy="48.7" r="9.5"/><circle cx="476.7" cy="57.7" r="9.5"/><circle cx="476.7" cy="72.5" r="9.5"/><circle cx="476.7" cy="117.5" r="9.5"/><circle cx="476.7" cy="127.7" r="9.5"/><circle cx="476.7" cy="153.3" r="9.5"/><circle cx="476.7" cy="367.1" r="9.5"/><circle cx="476.7" cy="379.7" r="9.5"/><circle cx="476.7" cy="416" r="9.5"/><circle cx="476.7" cy="494.2" r="9.5"/><circle cx="476.7" cy="524.4" r="9.5"/><circle cx="476.7" cy="550.2" r="9.5"/><circle cx="476.7" cy="596.5" r="9.5"/><circle cx="476.7" cy="597.8" r="9.5"/><circle cx="476.7" cy="614.9" r="9.5"/><circle cx="476.7" cy="624.1" r="9.5"/><circle cx="476.7" cy="645.6" r="9.5"/><circle cx="476.7" cy="668.4" r="9.5"/><circle cx="476.7" cy="676.4" r="9.5"/><circle cx="476.7" cy="696.3" r="9.5"/><circle cx="476.7" cy="45.8" r="9.5"/><circle cx="449.8" cy="48.7" r="9.5"/><circle cx="449.8" cy="58.4" r="9.5"/><circle cx="449.8" cy="71.2" r="9.5"/><circle cx="449.8" cy="117.5" r="9.5"/><circle cx="449.8" cy="127.7" r="9.5"/><circle cx="449.8" cy="148.2" r="9.5"/><circle cx="449.8" cy="366.4" r="9.5"/><circle cx="449.8" cy="377.1" r="9.5"/><circle cx="449.8" cy="417.2" r="9.5"/><circle cx="449.8" cy="493.5" r="9.5"/><circle cx="449.8" cy="524.2" r="9.5"/><circle cx="449.8" cy="550.5" r="9.5"/><circle cx="449.8" cy="593.9" r="9.5"/><circle cx="449.8" cy="598.5" r="9.5"/><circle cx="449.8" cy="614.9" r="9.5"/><circle cx="449.8" cy="625.6" r="9.5"/><circle cx="449.8" cy="645.2" r="9.5"/><circle cx="449.8" cy="670" r="9.5"/><circle cx="449.8" cy="674.8" r="9.5"/><circle cx="449.8" cy="696.3" r="9.5"/><circle cx="449.8" cy="45.8" r="9.5"/><circle cx="423" cy="48.7" r="9.5"/><circle cx="423" cy="58.9" r="9.5"/><circle cx="423" cy="70.7" r="9.5"/><circle cx="423" cy="116.5" r="9.5"/><circle cx="423" cy="127.2" r="9.5"/><circle cx="423" cy="140" r="9.5"/><circle cx="423" cy="364.4" r="9.5"/><circle cx="423" cy="383.1" r="9.5"/><circle cx="423" cy="420.1" r="9.5"/><circle cx="423" cy="492.7" r="9.5"/><circle cx="423" cy="523.2" r="9.5"/><circle cx="423" cy="548.6" r="9.5"/><circle cx="423" cy="587.8" r="9.5"/><circle cx="423" cy="601.1" r="9.5"/><circle cx="423" cy="614.4" r="9.5"/><circle cx="423" cy="628.7" r="9.5"/><circle cx="423" cy="645.6" r="9.5"/><circle cx="423" cy="670.8" r="9.5"/><circle cx="423" cy="674" r="9.5"/><circle cx="423" cy="696.3" r="9.5"/><circle cx="423" cy="45.8" r="9.5"/><circle cx="396.3" cy="48.7" r="9.5"/><circle cx="396.3" cy="59.2" r="9.5"/><circle cx="396.3" cy="69.5" r="9.5"/><circle cx="396.3" cy="116" r="9.5"/><circle cx="396.3" cy="126.8" r="9.5"/><circle cx="396.3" cy="135.9" r="9.5"/><circle cx="396.3" cy="362.8" r="9.5"/><circle cx="396.3" cy="383.8" r="9.5"/><circle cx="396.3" cy="421.1" r="9.5"/><circle cx="396.3" cy="492.4" r="9.5"/><circle cx="396.3" cy="522.9" r="9.5"/><circle cx="396.3" cy="548.4" r="9.5"/><circle cx="396.3" cy="584.7" r="9.5"/><circle cx="396.3" cy="601.6" r="9.5"/><circle cx="396.3" cy="613.9" r="9.5"/><circle cx="396.3" cy="629.7" r="9.5"/><circle cx="396.3" cy="645.6" r="9.5"/><circle cx="396.3" cy="671.6" r="9.5"/><circle cx="396.3" cy="673.2" r="9.5"/><circle cx="396.3" cy="696.3" r="9.5"/><circle cx="396.3" cy="45.8" r="9.5"/></g><g fill="#0000ff" stroke="#000" stroke-width="2.2" stroke-linejoin="miter"><path d="M168 241.8L176.8 250.6L168 259.4L159.2 250.6Z"/><path d="M181.5 252.1L190.3 260.9L181.5 269.7L172.7 260.9Z"/><path d="M208.3 254.9L217.1 263.7L208.3 272.5L199.5 263.7Z"/><path d="M235.2 254.1L244 262.9L235.2 271.7L226.4 262.9Z"/><path d="M101 280.5L109.8 289.3L101 298.1L92.2 289.3Z"/><path d="M127.8 292L136.6 300.8L127.8 309.6L119 300.8Z"/><path d="M261.9 251.6L270.7 260.4L261.9 269.2L253.1 260.4Z"/><path d="M288.7 248.8L297.5 257.6L288.7 266.4L279.9 257.6Z"/><path d="M315.6 243.4L324.4 252.2L315.6 261L306.8 252.2Z"/><path d="M342.3 240.3L351.1 249.1L342.3 257.9L333.5 249.1Z"/><path d="M134.4 439.4L143.2 448.2L134.4 457L125.6 448.2Z"/><path d="M141.1 440.9L149.9 449.7L141.1 458.5L132.3 449.7Z"/><path d="M154.6 438.9L163.4 447.7L154.6 456.5L145.8 447.7Z"/><path d="M369.2 239.6L378 248.4L369.2 257.2L360.4 248.4Z"/><path d="M570.6 241.8L579.4 250.6L570.6 259.4L561.8 250.6Z"/><path d="M557.1 252.1L565.9 260.9L557.1 269.7L548.3 260.9Z"/><path d="M530.3 254.9L539.1 263.7L530.3 272.5L521.5 263.7Z"/><path d="M503.4 254.1L512.2 262.9L503.4 271.7L494.6 262.9Z"/><path d="M637.6 280.5L646.4 289.3L637.6 298.1L628.8 289.3Z"/><path d="M610.8 292L619.6 300.8L610.8 309.6L602 300.8Z"/><path d="M476.7 251.6L485.5 260.4L476.7 269.2L467.9 260.4Z"/><path d="M449.9 248.8L458.7 257.6L449.9 266.4L441.1 257.6Z"/><path d="M423 243.4L431.8 252.2L423 261L414.2 252.2Z"/><path d="M396.3 240.3L405.1 249.1L396.3 257.9L387.5 249.1Z"/><path d="M604.2 439.4L613 448.2L604.2 457L595.4 448.2Z"/><path d="M597.5 440.9L606.3 449.7L597.5 458.5L588.7 449.7Z"/><path d="M584 438.9L592.8 447.7L584 456.5L575.2 447.7Z"/></g></g><path d="M101.3 700.2V683.2M101.3 45.6V62.6M128.1 700.2V691.7M128.1 45.6V54.1M154.9 700.2V691.7M154.9 45.6V54.1M181.8 700.2V691.7M181.8 45.6V54.1M208.6 700.2V683.2M208.6 45.6V62.6M235.4 700.2V691.7M235.4 45.6V54.1M262.2 700.2V691.7M262.2 45.6V54.1M289.1 700.2V691.7M289.1 45.6V54.1M315.9 700.2V683.2M315.9 45.6V62.6M342.7 700.2V691.7M342.7 45.6V54.1M369.6 700.2V691.7M369.6 45.6V54.1M396.4 700.2V691.7M396.4 45.6V54.1M423.2 700.2V683.2M423.2 45.6V62.6M450 700.2V691.7M450 45.6V54.1M476.9 700.2V691.7M476.9 45.6V54.1M503.7 700.2V691.7M503.7 45.6V54.1M530.5 700.2V683.2M530.5 45.6V62.6M557.3 700.2V691.7M557.3 45.6V54.1M584.1 700.2V691.7M584.1 45.6V54.1M611 700.2V691.7M611 45.6V54.1M637.8 700.2V683.2M637.8 45.6V62.6M95.5 700.1H112.5M643 700.1H626M95.5 569.2H112.5M643 569.2H626M95.5 438.3H112.5M643 438.3H626M95.5 307.4H112.5M643 307.4H626M95.5 176.5H112.5M643 176.5H626M95.5 45.6H112.5M643 45.6H626" stroke="#000" stroke-width="2.0" fill="none"/><rect x="95.5" y="45.6" width="547.5" height="654.6" fill="none" stroke="#000" stroke-width="4.0"/><g font-family="DejaVu Sans, Liberation Sans, sans-serif" font-size="34" fill="#000"><text transform="translate(103.3 742.7) scale(1 1.032)" text-anchor="middle">0.0</text><text transform="translate(84.6 710.7) scale(1 1.032)" text-anchor="end">0.0</text><text transform="translate(210.6 742.7) scale(1 1.032)" text-anchor="middle">0.2</text><text transform="translate(84.6 579.8) scale(1 1.032)" text-anchor="end">0.2</text><text transform="translate(317.9 742.7) scale(1 1.032)" text-anchor="middle">0.4</text><text transform="translate(84.6 448.9) scale(1 1.032)" text-anchor="end">0.4</text><text transform="translate(425.2 742.7) scale(1 1.032)" text-anchor="middle">0.6</text><text transform="translate(84.6 318) scale(1 1.032)" text-anchor="end">0.6</text><text transform="translate(532.5 742.7) scale(1 1.032)" text-anchor="middle">0.8</text><text transform="translate(84.6 187.1) scale(1 1.032)" text-anchor="end">0.8</text><text transform="translate(639.8 742.7) scale(1 1.032)" text-anchor="middle">1.0</text><text transform="translate(84.6 56.2) scale(1 1.032)" text-anchor="end">1.0</text></g></g>
<g transform="translate(656.5 785.7)"><g clip-path="url(#ax)"><g fill="none" stroke="#000" stroke-width="2.3"><circle cx="101" cy="57.7" r="9.5"/><circle cx="101" cy="118.5" r="9.5"/><circle cx="101" cy="202.9" r="9.5"/><circle cx="101" cy="374.6" r="9.5"/><circle cx="101" cy="516.2" r="9.5"/><circle cx="101" cy="563.8" r="9.5"/><circle cx="101" cy="589.3" r="9.5"/><circle cx="101" cy="614.9" r="9.5"/><circle cx="101" cy="665.2" r="9.5"/><circle cx="101" cy="697.9" r="9.5"/><circle cx="127.8" cy="54.6" r="9.5"/><circle cx="127.8" cy="75.6" r="9.5"/><circle cx="127.8" cy="119.1" r="9.5"/><circle cx="127.8" cy="198.8" r="9.5"/><circle cx="127.8" cy="233.8" r="9.5"/><circle cx="127.8" cy="367.9" r="9.5"/><circle cx="127.8" cy="385.8" r="9.5"/><circle cx="127.8" cy="506.5" r="9.5"/><circle cx="127.8" cy="534.6" r="9.5"/><circle cx="127.8" cy="557.6" r="9.5"/><circle cx="127.8" cy="568.4" r="9.5"/><circle cx="127.8" cy="581.7" r="9.5"/><circle cx="127.8" cy="613.9" r="9.5"/><circle cx="127.8" cy="621.5" r="9.5"/><circle cx="127.8" cy="664.4" r="9.5"/><circle cx="127.8" cy="675.6" r="9.5"/><circle cx="127.8" cy="697.1" r="9.5"/><circle cx="127.8" cy="45.8" r="9.5"/><circle cx="127.8" cy="49.8" r="9.5"/><circle cx="134.4" cy="54.1" r="9.5"/><circle cx="134.4" cy="89.9" r="9.5"/><circle cx="134.4" cy="119.6" r="9.5"/><circle cx="134.4" cy="200.3" r="9.5"/><circle cx="134.4" cy="258" r="9.5"/><circle cx="134.4" cy="369" r="9.5"/><circle cx="134.4" cy="389.9" r="9.5"/><circle cx="134.4" cy="506.5" r="9.5"/><circle cx="134.4" cy="539.7" r="9.5"/><circle cx="134.4" cy="558.1" r="9.5"/><circle cx="134.4" cy="568.4" r="9.5"/><circle cx="134.4" cy="583.7" r="9.5"/><circle cx="134.4" cy="614.4" r="9.5"/><circle cx="134.4" cy="619.7" r="9.5"/><circle cx="134.4" cy="630.9" r="9.5"/><circle cx="134.4" cy="665.2" r="9.5"/><circle cx="134.4" cy="677.2" r="9.5"/><circle cx="134.4" cy="697.1" r="9.5"/><circle cx="134.4" cy="45.8" r="9.5"/><circle cx="134.4" cy="49.8" r="9.5"/><circle cx="141.1" cy="53.6" r="9.5"/><circle cx="141.1" cy="104.7" r="9.5"/><circle cx="141.1" cy="120.1" r="9.5"/><circle cx="141.1" cy="200.3" r="9.5"/><circle cx="141.1" cy="283.9" r="9.5"/><circle cx="141.1" cy="370.5" r="9.5"/><circle cx="141.1" cy="393" r="9.5"/><circle cx="141.1" cy="506" r="9.5"/><circle cx="141.1" cy="543.8" r="9.5"/><circle cx="141.1" cy="562.7" r="9.5"/><circle cx="141.1" cy="585.8" r="9.5"/><circle cx="141.1" cy="614.9" r="9.5"/><circle cx="141.1" cy="634.8" r="9.5"/><circle cx="141.1" cy="665.2" r="9.5"/><circle cx="141.1" cy="678.8" r="9.5"/><circle cx="141.1" cy="697.1" r="9.5"/><circle cx="141.1" cy="45.8" r="9.5"/><circle cx="141.1" cy="49.8" r="9.5"/><circle cx="154.6" cy="53.6" r="9.5"/><circle cx="154.6" cy="99.6" r="9.5"/><circle cx="154.6" cy="119.6" r="9.5"/><circle cx="154.6" cy="128.3" r="9.5"/><circle cx="154.6" cy="185.5" r="9.5"/><circle cx="154.6" cy="297.7" r="9.5"/><circle cx="154.6" cy="376.6" r="9.5"/><circle cx="154.6" cy="393.5" r="9.5"/><circle cx="154.6" cy="503.4" r="9.5"/><circle cx="154.6" cy="537.2" r="9.5"/><circle cx="154.6" cy="571.4" r="9.5"/><circle cx="154.6" cy="591.4" r="9.5"/><circle cx="154.6" cy="614.4" r="9.5"/><circle cx="154.6" cy="639.6" r="9.5"/><circle cx="154.6" cy="665.2" r="9.5"/><circle cx="154.6" cy="682.8" r="9.5"/><circle cx="154.6" cy="697.1" r="9.5"/><circle cx="154.6" cy="45.8" r="9.5"/><circle cx="154.6" cy="49.8" r="9.5"/><circle cx="168" cy="53.6" r="9.5"/><circle cx="168" cy="97.6" r="9.5"/><circle cx="168" cy="120.1" r="9.5"/><circle cx="168" cy="131.3" r="9.5"/><circle cx="168" cy="182.4" r="9.5"/><circle cx="168" cy="319.2" r="9.5"/><circle cx="168" cy="377.6" r="9.5"/><circle cx="168" cy="397.1" r="9.5"/><circle cx="168" cy="504" r="9.5"/><circle cx="168" cy="532.6" r="9.5"/><circle cx="168" cy="555.6" r="9.5"/><circle cx="168" cy="576.5" r="9.5"/><circle cx="168" cy="596.5" r="9.5"/><circle cx="168" cy="614.9" r="9.5"/><circle cx="168" cy="642.8" r="9.5"/><circle cx="168" cy="667.6" r="9.5"/><circle cx="168" cy="683.6" r="9.5"/><circle cx="168" cy="697.1" r="9.5"/><circle cx="168" cy="45.8" r="9.5"/><circle cx="168" cy="49.8" r="9.5"/><circle cx="181.5" cy="49.3" r="9.5"/><circle cx="181.5" cy="54.6" r="9.5"/><circle cx="181.5" cy="88.4" r="9.5"/><circle cx="181.5" cy="119.1" r="9.5"/><circle cx="181.5" cy="129.3" r="9.5"/><circle cx="181.5" cy="175.8" r="9.5"/><circle cx="181.5" cy="345.7" r="9.5"/><circle cx="181.5" cy="380.2" r="9.5"/><circle cx="181.5" cy="402.2" r="9.5"/><circle cx="181.5" cy="499.9" r="9.5"/><circle cx="181.5" cy="528.5" r="9.5"/><circle cx="181.5" cy="554.1" r="9.5"/><circle cx="181.5" cy="582.7" r="9.5"/><circle cx="181.5" cy="598" r="9.5"/><circle cx="181.5" cy="614.4" r="9.5"/><circle cx="181.5" cy="616.4" r="9.5"/><circle cx="181.5" cy="644.8" r="9.5"/><circle cx="181.5" cy="667.6" r="9.5"/><circle cx="181.5" cy="684.4" r="9.5"/><circle cx="181.5" cy="697.1" r="9.5"/><circle cx="181.5" cy="45.8" r="9.5"/><circle cx="208.3" cy="51.6" r="9.5"/><circle cx="208.3" cy="56.2" r="9.5"/><circle cx="208.3" cy="79.2" r="9.5"/><circle cx="208.3" cy="118" r="9.5"/><circle cx="208.3" cy="128.3" r="9.5"/><circle cx="208.3" cy="168.1" r="9.5"/><circle cx="208.3" cy="359.7" r="9.5"/><circle cx="208.3" cy="379.7" r="9.5"/><circle cx="208.3" cy="408.3" r="9.5"/><circle cx="208.3" cy="497.3" r="9.5"/><circle cx="208.3" cy="526.4" r="9.5"/><circle cx="208.3" cy="552.5" r="9.5"/><circle cx="208.3" cy="589.3" r="9.5"/><circle cx="208.3" cy="598.5" r="9.5"/><circle cx="208.3" cy="613.9" r="9.5"/><circle cx="208.3" cy="616.9" r="9.5"/><circle cx="208.3" cy="645.6" r="9.5"/><circle cx="208.3" cy="667.6" r="9.5"/><circle cx="208.3" cy="681.2" r="9.5"/><circle cx="208.3" cy="697.1" r="9.5"/><circle cx="208.3" cy="46.3" r="9.5"/><circle cx="235.2" cy="51.1" r="9.5"/><circle cx="235.2" cy="57.2" r="9.5"/><circle cx="235.2" cy="74.6" r="9.5"/><circle cx="235.2" cy="117.5" r="9.5"/><circle cx="235.2" cy="127.7" r="9.5"/><circle cx="235.2" cy="161" r="9.5"/><circle cx="235.2" cy="364.4" r="9.5"/><circle cx="235.2" cy="378.7" r="9.5"/><circle cx="235.2" cy="412.4" r="9.5"/><circle cx="235.2" cy="495.8" r="9.5"/><circle cx="235.2" cy="525.4" r="9.5"/><circle cx="235.2" cy="551.5" r="9.5"/><circle cx="235.2" cy="594.4" r="9.5"/><circle cx="235.2" cy="596" r="9.5"/><circle cx="235.2" cy="614.9" r="9.5"/><circle cx="235.2" cy="618.5" r="9.5"/><circle cx="235.2" cy="646" r="9.5"/><circle cx="235.2" cy="668.4" r="9.5"/><circle cx="235.2" cy="678.8" r="9.5"/><circle cx="235.2" cy="697.1" r="9.5"/><circle cx="235.2" cy="46.3" r="9.5"/><circle cx="261.9" cy="48.7" r="9.5"/><circle cx="261.9" cy="57.7" r="9.5"/><circle cx="261.9" cy="72.5" r="9.5"/><circle cx="261.9" cy="117.5" r="9.5"/><circle cx="261.9" cy="127.7" r="9.5"/><circle cx="261.9" cy="153.3" r="9.5"/><circle cx="261.9" cy="367.1" r="9.5"/><circle cx="261.9" cy="379.7" r="9.5"/><circle cx="261.9" cy="416" r="9.5"/><circle cx="261.9" cy="494.2" r="9.5"/><circle cx="261.9" cy="524.4" r="9.5"/><circle cx="261.9" cy="550.2" r="9.5"/><circle cx="261.9" cy="596.5" r="9.5"/><circle cx="261.9" cy="597.8" r="9.5"/><circle cx="261.9" cy="614.9" r="9.5"/><circle cx="261.9" cy="624.1" r="9.5"/><circle cx="261.9" cy="645.6" r="9.5"/><circle cx="261.9" cy="668.4" r="9.5"/><circle cx="261.9" cy="676.4" r="9.5"/><circle cx="261.9" cy="696.3" r="9.5"/><circle cx="261.9" cy="45.8" r="9.5"/><circle cx="288.8" cy="48.7" r="9.5"/><circle cx="288.8" cy="58.4" r="9.5"/><circle cx="288.8" cy="71.2" r="9.5"/><circle cx="288.8" cy="117.5" r="9.5"/><circle cx="288.8" cy="127.7" r="9.5"/><circle cx="288.8" cy="148.2" r="9.5"/><circle cx="288.8" cy="366.4" r="9.5"/><circle cx="288.8" cy="377.1" r="9.5"/><circle cx="288.8" cy="417.2" r="9.5"/><circle cx="288.8" cy="493.5" r="9.5"/><circle cx="288.8" cy="524.2" r="9.5"/><circle cx="288.8" cy="550.5" r="9.5"/><circle cx="288.8" cy="593.9" r="9.5"/><circle cx="288.8" cy="598.5" r="9.5"/><circle cx="288.8" cy="614.9" r="9.5"/><circle cx="288.8" cy="625.6" r="9.5"/><circle cx="288.8" cy="645.2" r="9.5"/><circle cx="288.8" cy="670" r="9.5"/><circle cx="288.8" cy="674.8" r="9.5"/><circle cx="288.8" cy="696.3" r="9.5"/><circle cx="288.8" cy="45.8" r="9.5"/><circle cx="315.6" cy="48.7" r="9.5"/><circle cx="315.6" cy="58.9" r="9.5"/><circle cx="315.6" cy="70.7" r="9.5"/><circle cx="315.6" cy="116.5" r="9.5"/><circle cx="315.6" cy="127.2" r="9.5"/><circle cx="315.6" cy="140" r="9.5"/><circle cx="315.6" cy="364.4" r="9.5"/><circle cx="315.6" cy="383.1" r="9.5"/><circle cx="315.6" cy="420.1" r="9.5"/><circle cx="315.6" cy="492.7" r="9.5"/><circle cx="315.6" cy="523.2" r="9.5"/><circle cx="315.6" cy="548.6" r="9.5"/><circle cx="315.6" cy="587.8" r="9.5"/><circle cx="315.6" cy="601.1" r="9.5"/><circle cx="315.6" cy="614.4" r="9.5"/><circle cx="315.6" cy="628.7" r="9.5"/><circle cx="315.6" cy="645.6" r="9.5"/><circle cx="315.6" cy="670.8" r="9.5"/><circle cx="315.6" cy="674" r="9.5"/><circle cx="315.6" cy="696.3" r="9.5"/><circle cx="315.6" cy="45.8" r="9.5"/><circle cx="342.3" cy="48.7" r="9.5"/><circle cx="342.3" cy="59.2" r="9.5"/><circle cx="342.3" cy="69.5" r="9.5"/><circle cx="342.3" cy="116" r="9.5"/><circle cx="342.3" cy="126.8" r="9.5"/><circle cx="342.3" cy="135.9" r="9.5"/><circle cx="342.3" cy="362.8" r="9.5"/><circle cx="342.3" cy="383.8" r="9.5"/><circle cx="342.3" cy="421.1" r="9.5"/><circle cx="342.3" cy="492.4" r="9.5"/><circle cx="342.3" cy="522.9" r="9.5"/><circle cx="342.3" cy="548.4" r="9.5"/><circle cx="342.3" cy="584.7" r="9.5"/><circle cx="342.3" cy="601.6" r="9.5"/><circle cx="342.3" cy="613.9" r="9.5"/><circle cx="342.3" cy="629.7" r="9.5"/><circle cx="342.3" cy="645.6" r="9.5"/><circle cx="342.3" cy="671.6" r="9.5"/><circle cx="342.3" cy="673.2" r="9.5"/><circle cx="342.3" cy="696.3" r="9.5"/><circle cx="342.3" cy="45.8" r="9.5"/><circle cx="369.2" cy="48.7" r="9.5"/><circle cx="369.2" cy="59.7" r="9.5"/><circle cx="369.2" cy="70.5" r="9.5"/><circle cx="369.2" cy="116" r="9.5"/><circle cx="369.2" cy="126.8" r="9.5"/><circle cx="369.2" cy="134.4" r="9.5"/><circle cx="369.2" cy="362.3" r="9.5"/><circle cx="369.2" cy="384" r="9.5"/><circle cx="369.2" cy="421.1" r="9.5"/><circle cx="369.2" cy="492.2" r="9.5"/><circle cx="369.2" cy="522.6" r="9.5"/><circle cx="369.2" cy="548.1" r="9.5"/><circle cx="369.2" cy="583.7" r="9.5"/><circle cx="369.2" cy="601.6" r="9.5"/><circle cx="369.2" cy="613.9" r="9.5"/><circle cx="369.2" cy="630.2" r="9.5"/><circle cx="369.2" cy="645.6" r="9.5"/><circle cx="369.2" cy="671.6" r="9.5"/><circle cx="369.2" cy="673.2" r="9.5"/><circle cx="369.2" cy="696.3" r="9.5"/><circle cx="369.2" cy="45.8" r="9.5"/><circle cx="637.6" cy="57.7" r="9.5"/><circle cx="637.6" cy="118.5" r="9.5"/><circle cx="637.6" cy="202.9" r="9.5"/><circle cx="637.6" cy="374.6" r="9.5"/><circle cx="637.6" cy="516.2" r="9.5"/><circle cx="637.6" cy="563.8" r="9.5"/><circle cx="637.6" cy="589.3" r="9.5"/><circle cx="637.6" cy="614.9" r="9.5"/><circle cx="637.6" cy="665.2" r="9.5"/><circle cx="637.6" cy="697.9" r="9.5"/><circle cx="610.8" cy="54.6" r="9.5"/><circle cx="610.8" cy="75.6" r="9.5"/><circle cx="610.8" cy="119.1" r="9.5"/><circle cx="610.8" cy="198.8" r="9.5"/><circle cx="610.8" cy="233.8" r="9.5"/><circle cx="610.8" cy="367.9" r="9.5"/><circle cx="610.8" cy="385.8" r="9.5"/><circle cx="610.8" cy="506.5" r="9.5"/><circle cx="610.8" cy="534.6" r="9.5"/><circle cx="610.8" cy="557.6" r="9.5"/><circle cx="610.8" cy="568.4" r="9.5"/><circle cx="610.8" cy="581.7" r="9.5"/><circle cx="610.8" cy="613.9" r="9.5"/><circle cx="610.8" cy="621.5" r="9.5"/><circle cx="610.8" cy="664.4" r="9.5"/><circle cx="610.8" cy="675.6" r="9.5"/><circle cx="610.8" cy="697.1" r="9.5"/><circle cx="610.8" cy="45.8" r="9.5"/><circle cx="610.8" cy="49.8" r="9.5"/><circle cx="604.2" cy="54.1" r="9.5"/><circle cx="604.2" cy="89.9" r="9.5"/><circle cx="604.2" cy="119.6" r="9.5"/><circle cx="604.2" cy="200.3" r="9.5"/><circle cx="604.2" cy="258" r="9.5"/><circle cx="604.2" cy="369" r="9.5"/><circle cx="604.2" cy="389.9" r="9.5"/><circle cx="604.2" cy="506.5" r="9.5"/><circle cx="604.2" cy="539.7" r="9.5"/><circle cx="604.2" cy="558.1" r="9.5"/><circle cx="604.2" cy="568.4" r="9.5"/><circle cx="604.2" cy="583.7" r="9.5"/><circle cx="604.2" cy="614.4" r="9.5"/><circle cx="604.2" cy="619.7" r="9.5"/><circle cx="604.2" cy="630.9" r="9.5"/><circle cx="604.2" cy="665.2" r="9.5"/><circle cx="604.2" cy="677.2" r="9.5"/><circle cx="604.2" cy="697.1" r="9.5"/><circle cx="604.2" cy="45.8" r="9.5"/><circle cx="604.2" cy="49.8" r="9.5"/><circle cx="597.5" cy="53.6" r="9.5"/><circle cx="597.5" cy="104.7" r="9.5"/><circle cx="597.5" cy="120.1" r="9.5"/><circle cx="597.5" cy="200.3" r="9.5"/><circle cx="597.5" cy="283.9" r="9.5"/><circle cx="597.5" cy="370.5" r="9.5"/><circle cx="597.5" cy="393" r="9.5"/><circle cx="597.5" cy="506" r="9.5"/><circle cx="597.5" cy="543.8" r="9.5"/><circle cx="597.5" cy="562.7" r="9.5"/><circle cx="597.5" cy="585.8" r="9.5"/><circle cx="597.5" cy="614.9" r="9.5"/><circle cx="597.5" cy="634.8" r="9.5"/><circle cx="597.5" cy="665.2" r="9.5"/><circle cx="597.5" cy="678.8" r="9.5"/><circle cx="597.5" cy="697.1" r="9.5"/><circle cx="597.5" cy="45.8" r="9.5"/><circle cx="597.5" cy="49.8" r="9.5"/><circle cx="584" cy="53.6" r="9.5"/><circle cx="584" cy="99.6" r="9.5"/><circle cx="584" cy="119.6" r="9.5"/><circle cx="584" cy="128.3" r="9.5"/><circle cx="584" cy="185.5" r="9.5"/><circle cx="584" cy="297.7" r="9.5"/><circle cx="584" cy="376.6" r="9.5"/><circle cx="584" cy="393.5" r="9.5"/><circle cx="584" cy="503.4" r="9.5"/><circle cx="584" cy="537.2" r="9.5"/><circle cx="584" cy="571.4" r="9.5"/><circle cx="584" cy="591.4" r="9.5"/><circle cx="584" cy="614.4" r="9.5"/><circle cx="584" cy="639.6" r="9.5"/><circle cx="584" cy="665.2" r="9.5"/><circle cx="584" cy="682.8" r="9.5"/><circle cx="584" cy="697.1" r="9.5"/><circle cx="584" cy="45.8" r="9.5"/><circle cx="584" cy="49.8" r="9.5"/><circle cx="570.6" cy="53.6" r="9.5"/><circle cx="570.6" cy="97.6" r="9.5"/><circle cx="570.6" cy="120.1" r="9.5"/><circle cx="570.6" cy="131.3" r="9.5"/><circle cx="570.6" cy="182.4" r="9.5"/><circle cx="570.6" cy="319.2" r="9.5"/><circle cx="570.6" cy="377.6" r="9.5"/><circle cx="570.6" cy="397.1" r="9.5"/><circle cx="570.6" cy="504" r="9.5"/><circle cx="570.6" cy="532.6" r="9.5"/><circle cx="570.6" cy="555.6" r="9.5"/><circle cx="570.6" cy="576.5" r="9.5"/><circle cx="570.6" cy="596.5" r="9.5"/><circle cx="570.6" cy="614.9" r="9.5"/><circle cx="570.6" cy="642.8" r="9.5"/><circle cx="570.6" cy="667.6" r="9.5"/><circle cx="570.6" cy="683.6" r="9.5"/><circle cx="570.6" cy="697.1" r="9.5"/><circle cx="570.6" cy="45.8" r="9.5"/><circle cx="570.6" cy="49.8" r="9.5"/><circle cx="557.1" cy="49.3" r="9.5"/><circle cx="557.1" cy="54.6" r="9.5"/><circle cx="557.1" cy="88.4" r="9.5"/><circle cx="557.1" cy="119.1" r="9.5"/><circle cx="557.1" cy="129.3" r="9.5"/><circle cx="557.1" cy="175.8" r="9.5"/><circle cx="557.1" cy="345.7" r="9.5"/><circle cx="557.1" cy="380.2" r="9.5"/><circle cx="557.1" cy="402.2" r="9.5"/><circle cx="557.1" cy="499.9" r="9.5"/><circle cx="557.1" cy="528.5" r="9.5"/><circle cx="557.1" cy="554.1" r="9.5"/><circle cx="557.1" cy="582.7" r="9.5"/><circle cx="557.1" cy="598" r="9.5"/><circle cx="557.1" cy="614.4" r="9.5"/><circle cx="557.1" cy="616.4" r="9.5"/><circle cx="557.1" cy="644.8" r="9.5"/><circle cx="557.1" cy="667.6" r="9.5"/><circle cx="557.1" cy="684.4" r="9.5"/><circle cx="557.1" cy="697.1" r="9.5"/><circle cx="557.1" cy="45.8" r="9.5"/><circle cx="530.3" cy="51.6" r="9.5"/><circle cx="530.3" cy="56.2" r="9.5"/><circle cx="530.3" cy="79.2" r="9.5"/><circle cx="530.3" cy="118" r="9.5"/><circle cx="530.3" cy="128.3" r="9.5"/><circle cx="530.3" cy="168.1" r="9.5"/><circle cx="530.3" cy="359.7" r="9.5"/><circle cx="530.3" cy="379.7" r="9.5"/><circle cx="530.3" cy="408.3" r="9.5"/><circle cx="530.3" cy="497.3" r="9.5"/><circle cx="530.3" cy="526.4" r="9.5"/><circle cx="530.3" cy="552.5" r="9.5"/><circle cx="530.3" cy="589.3" r="9.5"/><circle cx="530.3" cy="598.5" r="9.5"/><circle cx="530.3" cy="613.9" r="9.5"/><circle cx="530.3" cy="616.9" r="9.5"/><circle cx="530.3" cy="645.6" r="9.5"/><circle cx="530.3" cy="667.6" r="9.5"/><circle cx="530.3" cy="681.2" r="9.5"/><circle cx="530.3" cy="697.1" r="9.5"/><circle cx="530.3" cy="46.3" r="9.5"/><circle cx="503.4" cy="51.1" r="9.5"/><circle cx="503.4" cy="57.2" r="9.5"/><circle cx="503.4" cy="74.6" r="9.5"/><circle cx="503.4" cy="117.5" r="9.5"/><circle cx="503.4" cy="127.7" r="9.5"/><circle cx="503.4" cy="161" r="9.5"/><circle cx="503.4" cy="364.4" r="9.5"/><circle cx="503.4" cy="378.7" r="9.5"/><circle cx="503.4" cy="412.4" r="9.5"/><circle cx="503.4" cy="495.8" r="9.5"/><circle cx="503.4" cy="525.4" r="9.5"/><circle cx="503.4" cy="551.5" r="9.5"/><circle cx="503.4" cy="594.4" r="9.5"/><circle cx="503.4" cy="596" r="9.5"/><circle cx="503.4" cy="614.9" r="9.5"/><circle cx="503.4" cy="618.5" r="9.5"/><circle cx="503.4" cy="646" r="9.5"/><circle cx="503.4" cy="668.4" r="9.5"/><circle cx="503.4" cy="678.8" r="9.5"/><circle cx="503.4" cy="697.1" r="9.5"/><circle cx="503.4" cy="46.3" r="9.5"/><circle cx="476.7" cy="48.7" r="9.5"/><circle cx="476.7" cy="57.7" r="9.5"/><circle cx="476.7" cy="72.5" r="9.5"/><circle cx="476.7" cy="117.5" r="9.5"/><circle cx="476.7" cy="127.7" r="9.5"/><circle cx="476.7" cy="153.3" r="9.5"/><circle cx="476.7" cy="367.1" r="9.5"/><circle cx="476.7" cy="379.7" r="9.5"/><circle cx="476.7" cy="416" r="9.5"/><circle cx="476.7" cy="494.2" r="9.5"/><circle cx="476.7" cy="524.4" r="9.5"/><circle cx="476.7" cy="550.2" r="9.5"/><circle cx="476.7" cy="596.5" r="9.5"/><circle cx="476.7" cy="597.8" r="9.5"/><circle cx="476.7" cy="614.9" r="9.5"/><circle cx="476.7" cy="624.1" r="9.5"/><circle cx="476.7" cy="645.6" r="9.5"/><circle cx="476.7" cy="668.4" r="9.5"/><circle cx="476.7" cy="676.4" r="9.5"/><circle cx="476.7" cy="696.3" r="9.5"/><circle cx="476.7" cy="45.8" r="9.5"/><circle cx="449.8" cy="48.7" r="9.5"/><circle cx="449.8" cy="58.4" r="9.5"/><circle cx="449.8" cy="71.2" r="9.5"/><circle cx="449.8" cy="117.5" r="9.5"/><circle cx="449.8" cy="127.7" r="9.5"/><circle cx="449.8" cy="148.2" r="9.5"/><circle cx="449.8" cy="366.4" r="9.5"/><circle cx="449.8" cy="377.1" r="9.5"/><circle cx="449.8" cy="417.2" r="9.5"/><circle cx="449.8" cy="493.5" r="9.5"/><circle cx="449.8" cy="524.2" r="9.5"/><circle cx="449.8" cy="550.5" r="9.5"/><circle cx="449.8" cy="593.9" r="9.5"/><circle cx="449.8" cy="598.5" r="9.5"/><circle cx="449.8" cy="614.9" r="9.5"/><circle cx="449.8" cy="625.6" r="9.5"/><circle cx="449.8" cy="645.2" r="9.5"/><circle cx="449.8" cy="670" r="9.5"/><circle cx="449.8" cy="674.8" r="9.5"/><circle cx="449.8" cy="696.3" r="9.5"/><circle cx="449.8" cy="45.8" r="9.5"/><circle cx="423" cy="48.7" r="9.5"/><circle cx="423" cy="58.9" r="9.5"/><circle cx="423" cy="70.7" r="9.5"/><circle cx="423" cy="116.5" r="9.5"/><circle cx="423" cy="127.2" r="9.5"/><circle cx="423" cy="140" r="9.5"/><circle cx="423" cy="364.4" r="9.5"/><circle cx="423" cy="383.1" r="9.5"/><circle cx="423" cy="420.1" r="9.5"/><circle cx="423" cy="492.7" r="9.5"/><circle cx="423" cy="523.2" r="9.5"/><circle cx="423" cy="548.6" r="9.5"/><circle cx="423" cy="587.8" r="9.5"/><circle cx="423" cy="601.1" r="9.5"/><circle cx="423" cy="614.4" r="9.5"/><circle cx="423" cy="628.7" r="9.5"/><circle cx="423" cy="645.6" r="9.5"/><circle cx="423" cy="670.8" r="9.5"/><circle cx="423" cy="674" r="9.5"/><circle cx="423" cy="696.3" r="9.5"/><circle cx="423" cy="45.8" r="9.5"/><circle cx="396.3" cy="48.7" r="9.5"/><circle cx="396.3" cy="59.2" r="9.5"/><circle cx="396.3" cy="69.5" r="9.5"/><circle cx="396.3" cy="116" r="9.5"/><circle cx="396.3" cy="126.8" r="9.5"/><circle cx="396.3" cy="135.9" r="9.5"/><circle cx="396.3" cy="362.8" r="9.5"/><circle cx="396.3" cy="383.8" r="9.5"/><circle cx="396.3" cy="421.1" r="9.5"/><circle cx="396.3" cy="492.4" r="9.5"/><circle cx="396.3" cy="522.9" r="9.5"/><circle cx="396.3" cy="548.4" r="9.5"/><circle cx="396.3" cy="584.7" r="9.5"/><circle cx="396.3" cy="601.6" r="9.5"/><circle cx="396.3" cy="613.9" r="9.5"/><circle cx="396.3" cy="629.7" r="9.5"/><circle cx="396.3" cy="645.6" r="9.5"/><circle cx="396.3" cy="671.6" r="9.5"/><circle cx="396.3" cy="673.2" r="9.5"/><circle cx="396.3" cy="696.3" r="9.5"/><circle cx="396.3" cy="45.8" r="9.5"/></g><g fill="#0000ff" stroke="#000" stroke-width="2.2" stroke-linejoin="miter"><path d="M168 241.8L176.8 250.6L168 259.4L159.2 250.6Z"/><path d="M181.5 252.1L190.3 260.9L181.5 269.7L172.7 260.9Z"/><path d="M208.3 254.9L217.1 263.7L208.3 272.5L199.5 263.7Z"/><path d="M235.2 254.1L244 262.9L235.2 271.7L226.4 262.9Z"/><path d="M101 280.5L109.8 289.3L101 298.1L92.2 289.3Z"/><path d="M127.8 292L136.6 300.8L127.8 309.6L119 300.8Z"/><path d="M261.9 251.6L270.7 260.4L261.9 269.2L253.1 260.4Z"/><path d="M288.7 248.8L297.5 257.6L288.7 266.4L279.9 257.6Z"/><path d="M315.6 243.4L324.4 252.2L315.6 261L306.8 252.2Z"/><path d="M342.3 240.3L351.1 249.1L342.3 257.9L333.5 249.1Z"/><path d="M134.4 439.4L143.2 448.2L134.4 457L125.6 448.2Z"/><path d="M141.1 440.9L149.9 449.7L141.1 458.5L132.3 449.7Z"/><path d="M154.6 438.9L163.4 447.7L154.6 456.5L145.8 447.7Z"/><path d="M369.2 239.6L378 248.4L369.2 257.2L360.4 248.4Z"/><path d="M570.6 241.8L579.4 250.6L570.6 259.4L561.8 250.6Z"/><path d="M557.1 252.1L565.9 260.9L557.1 269.7L548.3 260.9Z"/><path d="M530.3 254.9L539.1 263.7L530.3 272.5L521.5 263.7Z"/><path d="M503.4 254.1L512.2 262.9L503.4 271.7L494.6 262.9Z"/><path d="M637.6 280.5L646.4 289.3L637.6 298.1L628.8 289.3Z"/><path d="M610.8 292L619.6 300.8L610.8 309.6L602 300.8Z"/><path d="M476.7 251.6L485.5 260.4L476.7 269.2L467.9 260.4Z"/><path d="M449.9 248.8L458.7 257.6L449.9 266.4L441.1 257.6Z"/><path d="M423 243.4L431.8 252.2L423 261L414.2 252.2Z"/><path d="M396.3 240.3L405.1 249.1L396.3 257.9L387.5 249.1Z"/><path d="M604.2 439.4L613 448.2L604.2 457L595.4 448.2Z"/><path d="M597.5 440.9L606.3 449.7L597.5 458.5L588.7 449.7Z"/><path d="M584 438.9L592.8 447.7L584 456.5L575.2 447.7Z"/></g></g><path d="M101.3 700.2V683.2M101.3 45.6V62.6M128.1 700.2V691.7M128.1 45.6V54.1M154.9 700.2V691.7M154.9 45.6V54.1M181.8 700.2V691.7M181.8 45.6V54.1M208.6 700.2V683.2M208.6 45.6V62.6M235.4 700.2V691.7M235.4 45.6V54.1M262.2 700.2V691.7M262.2 45.6V54.1M289.1 700.2V691.7M289.1 45.6V54.1M315.9 700.2V683.2M315.9 45.6V62.6M342.7 700.2V691.7M342.7 45.6V54.1M369.6 700.2V691.7M369.6 45.6V54.1M396.4 700.2V691.7M396.4 45.6V54.1M423.2 700.2V683.2M423.2 45.6V62.6M450 700.2V691.7M450 45.6V54.1M476.9 700.2V691.7M476.9 45.6V54.1M503.7 700.2V691.7M503.7 45.6V54.1M530.5 700.2V683.2M530.5 45.6V62.6M557.3 700.2V691.7M557.3 45.6V54.1M584.1 700.2V691.7M584.1 45.6V54.1M611 700.2V691.7M611 45.6V54.1M637.8 700.2V683.2M637.8 45.6V62.6M95.5 700.1H112.5M643 700.1H626M95.5 569.2H112.5M643 569.2H626M95.5 438.3H112.5M643 438.3H626M95.5 307.4H112.5M643 307.4H626M95.5 176.5H112.5M643 176.5H626M95.5 45.6H112.5M643 45.6H626" stroke="#000" stroke-width="2.0" fill="none"/><rect x="95.5" y="45.6" width="547.5" height="654.6" fill="none" stroke="#000" stroke-width="4.0"/><g font-family="DejaVu Sans, Liberation Sans, sans-serif" font-size="34" fill="#000"><text transform="translate(103.3 742.7) scale(1 1.032)" text-anchor="middle">0.0</text><text transform="translate(84.6 710.7) scale(1 1.032)" text-anchor="end">0.0</text><text transform="translate(210.6 742.7) scale(1 1.032)" text-anchor="middle">0.2</text><text transform="translate(84.6 579.8) scale(1 1.032)" text-anchor="end">0.2</text><text transform="translate(317.9 742.7) scale(1 1.032)" text-anchor="middle">0.4</text><text transform="translate(84.6 448.9) scale(1 1.032)" text-anchor="end">0.4</text><text transform="translate(425.2 742.7) scale(1 1.032)" text-anchor="middle">0.6</text><text transform="translate(84.6 318) scale(1 1.032)" text-anchor="end">0.6</text><text transform="translate(532.5 742.7) scale(1 1.032)" text-anchor="middle">0.8</text><text transform="translate(84.6 187.1) scale(1 1.032)" text-anchor="end">0.8</text><text transform="translate(639.8 742.7) scale(1 1.032)" text-anchor="middle">1.0</text><text transform="translate(84.6 56.2) scale(1 1.032)" text-anchor="end">1.0</text></g></g>
<g transform="translate(1313 785.7)"><g clip-path="url(#ax)"><g fill="none" stroke="#000" stroke-width="2.3"><circle cx="101" cy="57.7" r="9.5"/><circle cx="101" cy="118.5" r="9.5"/><circle cx="101" cy="202.9" r="9.5"/><circle cx="101" cy="374.6" r="9.5"/><circle cx="101" cy="516.2" r="9.5"/><circle cx="101" cy="563.8" r="9.5"/><circle cx="101" cy="589.3" r="9.5"/><circle cx="101" cy="614.9" r="9.5"/><circle cx="101" cy="665.2" r="9.5"/><circle cx="101" cy="697.9" r="9.5"/><circle cx="127.8" cy="54.6" r="9.5"/><circle cx="127.8" cy="75.6" r="9.5"/><circle cx="127.8" cy="119.1" r="9.5"/><circle cx="127.8" cy="198.8" r="9.5"/><circle cx="127.8" cy="233.8" r="9.5"/><circle cx="127.8" cy="367.9" r="9.5"/><circle cx="127.8" cy="385.8" r="9.5"/><circle cx="127.8" cy="506.5" r="9.5"/><circle cx="127.8" cy="534.6" r="9.5"/><circle cx="127.8" cy="557.6" r="9.5"/><circle cx="127.8" cy="568.4" r="9.5"/><circle cx="127.8" cy="581.7" r="9.5"/><circle cx="127.8" cy="613.9" r="9.5"/><circle cx="127.8" cy="621.5" r="9.5"/><circle cx="127.8" cy="664.4" r="9.5"/><circle cx="127.8" cy="675.6" r="9.5"/><circle cx="127.8" cy="697.1" r="9.5"/><circle cx="127.8" cy="45.8" r="9.5"/><circle cx="127.8" cy="49.8" r="9.5"/><circle cx="134.4" cy="54.1" r="9.5"/><circle cx="134.4" cy="89.9" r="9.5"/><circle cx="134.4" cy="119.6" r="9.5"/><circle cx="134.4" cy="200.3" r="9.5"/><circle cx="134.4" cy="258" r="9.5"/><circle cx="134.4" cy="369" r="9.5"/><circle cx="134.4" cy="389.9" r="9.5"/><circle cx="134.4" cy="506.5" r="9.5"/><circle cx="134.4" cy="539.7" r="9.5"/><circle cx="134.4" cy="558.1" r="9.5"/><circle cx="134.4" cy="568.4" r="9.5"/><circle cx="134.4" cy="583.7" r="9.5"/><circle cx="134.4" cy="614.4" r="9.5"/><circle cx="134.4" cy="619.7" r="9.5"/><circle cx="134.4" cy="630.9" r="9.5"/><circle cx="134.4" cy="665.2" r="9.5"/><circle cx="134.4" cy="677.2" r="9.5"/><circle cx="134.4" cy="697.1" r="9.5"/><circle cx="134.4" cy="45.8" r="9.5"/><circle cx="134.4" cy="49.8" r="9.5"/><circle cx="141.1" cy="53.6" r="9.5"/><circle cx="141.1" cy="104.7" r="9.5"/><circle cx="141.1" cy="120.1" r="9.5"/><circle cx="141.1" cy="200.3" r="9.5"/><circle cx="141.1" cy="283.9" r="9.5"/><circle cx="141.1" cy="370.5" r="9.5"/><circle cx="141.1" cy="393" r="9.5"/><circle cx="141.1" cy="506" r="9.5"/><circle cx="141.1" cy="543.8" r="9.5"/><circle cx="141.1" cy="562.7" r="9.5"/><circle cx="141.1" cy="585.8" r="9.5"/><circle cx="141.1" cy="614.9" r="9.5"/><circle cx="141.1" cy="634.8" r="9.5"/><circle cx="141.1" cy="665.2" r="9.5"/><circle cx="141.1" cy="678.8" r="9.5"/><circle cx="141.1" cy="697.1" r="9.5"/><circle cx="141.1" cy="45.8" r="9.5"/><circle cx="141.1" cy="49.8" r="9.5"/><circle cx="154.6" cy="53.6" r="9.5"/><circle cx="154.6" cy="99.6" r="9.5"/><circle cx="154.6" cy="119.6" r="9.5"/><circle cx="154.6" cy="128.3" r="9.5"/><circle cx="154.6" cy="185.5" r="9.5"/><circle cx="154.6" cy="297.7" r="9.5"/><circle cx="154.6" cy="376.6" r="9.5"/><circle cx="154.6" cy="393.5" r="9.5"/><circle cx="154.6" cy="503.4" r="9.5"/><circle cx="154.6" cy="537.2" r="9.5"/><circle cx="154.6" cy="571.4" r="9.5"/><circle cx="154.6" cy="591.4" r="9.5"/><circle cx="154.6" cy="614.4" r="9.5"/><circle cx="154.6" cy="639.6" r="9.5"/><circle cx="154.6" cy="665.2" r="9.5"/><circle cx="154.6" cy="682.8" r="9.5"/><circle cx="154.6" cy="697.1" r="9.5"/><circle cx="154.6" cy="45.8" r="9.5"/><circle cx="154.6" cy="49.8" r="9.5"/><circle cx="168" cy="53.6" r="9.5"/><circle cx="168" cy="97.6" r="9.5"/><circle cx="168" cy="120.1" r="9.5"/><circle cx="168" cy="131.3" r="9.5"/><circle cx="168" cy="182.4" r="9.5"/><circle cx="168" cy="319.2" r="9.5"/><circle cx="168" cy="377.6" r="9.5"/><circle cx="168" cy="397.1" r="9.5"/><circle cx="168" cy="504" r="9.5"/><circle cx="168" cy="532.6" r="9.5"/><circle cx="168" cy="555.6" r="9.5"/><circle cx="168" cy="576.5" r="9.5"/><circle cx="168" cy="596.5" r="9.5"/><circle cx="168" cy="614.9" r="9.5"/><circle cx="168" cy="642.8" r="9.5"/><circle cx="168" cy="667.6" r="9.5"/><circle cx="168" cy="683.6" r="9.5"/><circle cx="168" cy="697.1" r="9.5"/><circle cx="168" cy="45.8" r="9.5"/><circle cx="168" cy="49.8" r="9.5"/><circle cx="181.5" cy="49.3" r="9.5"/><circle cx="181.5" cy="54.6" r="9.5"/><circle cx="181.5" cy="88.4" r="9.5"/><circle cx="181.5" cy="119.1" r="9.5"/><circle cx="181.5" cy="129.3" r="9.5"/><circle cx="181.5" cy="175.8" r="9.5"/><circle cx="181.5" cy="345.7" r="9.5"/><circle cx="181.5" cy="380.2" r="9.5"/><circle cx="181.5" cy="402.2" r="9.5"/><circle cx="181.5" cy="499.9" r="9.5"/><circle cx="181.5" cy="528.5" r="9.5"/><circle cx="181.5" cy="554.1" r="9.5"/><circle cx="181.5" cy="582.7" r="9.5"/><circle cx="181.5" cy="598" r="9.5"/><circle cx="181.5" cy="614.4" r="9.5"/><circle cx="181.5" cy="616.4" r="9.5"/><circle cx="181.5" cy="644.8" r="9.5"/><circle cx="181.5" cy="667.6" r="9.5"/><circle cx="181.5" cy="684.4" r="9.5"/><circle cx="181.5" cy="697.1" r="9.5"/><circle cx="181.5" cy="45.8" r="9.5"/><circle cx="208.3" cy="51.6" r="9.5"/><circle cx="208.3" cy="56.2" r="9.5"/><circle cx="208.3" cy="79.2" r="9.5"/><circle cx="208.3" cy="118" r="9.5"/><circle cx="208.3" cy="128.3" r="9.5"/><circle cx="208.3" cy="168.1" r="9.5"/><circle cx="208.3" cy="359.7" r="9.5"/><circle cx="208.3" cy="379.7" r="9.5"/><circle cx="208.3" cy="408.3" r="9.5"/><circle cx="208.3" cy="497.3" r="9.5"/><circle cx="208.3" cy="526.4" r="9.5"/><circle cx="208.3" cy="552.5" r="9.5"/><circle cx="208.3" cy="589.3" r="9.5"/><circle cx="208.3" cy="598.5" r="9.5"/><circle cx="208.3" cy="613.9" r="9.5"/><circle cx="208.3" cy="616.9" r="9.5"/><circle cx="208.3" cy="645.6" r="9.5"/><circle cx="208.3" cy="667.6" r="9.5"/><circle cx="208.3" cy="681.2" r="9.5"/><circle cx="208.3" cy="697.1" r="9.5"/><circle cx="208.3" cy="46.3" r="9.5"/><circle cx="235.2" cy="51.1" r="9.5"/><circle cx="235.2" cy="57.2" r="9.5"/><circle cx="235.2" cy="74.6" r="9.5"/><circle cx="235.2" cy="117.5" r="9.5"/><circle cx="235.2" cy="127.7" r="9.5"/><circle cx="235.2" cy="161" r="9.5"/><circle cx="235.2" cy="364.4" r="9.5"/><circle cx="235.2" cy="378.7" r="9.5"/><circle cx="235.2" cy="412.4" r="9.5"/><circle cx="235.2" cy="495.8" r="9.5"/><circle cx="235.2" cy="525.4" r="9.5"/><circle cx="235.2" cy="551.5" r="9.5"/><circle cx="235.2" cy="594.4" r="9.5"/><circle cx="235.2" cy="596" r="9.5"/><circle cx="235.2" cy="614.9" r="9.5"/><circle cx="235.2" cy="618.5" r="9.5"/><circle cx="235.2" cy="646" r="9.5"/><circle cx="235.2" cy="668.4" r="9.5"/><circle cx="235.2" cy="678.8" r="9.5"/><circle cx="235.2" cy="697.1" r="9.5"/><circle cx="235.2" cy="46.3" r="9.5"/><circle cx="261.9" cy="48.7" r="9.5"/><circle cx="261.9" cy="57.7" r="9.5"/><circle cx="261.9" cy="72.5" r="9.5"/><circle cx="261.9" cy="117.5" r="9.5"/><circle cx="261.9" cy="127.7" r="9.5"/><circle cx="261.9" cy="153.3" r="9.5"/><circle cx="261.9" cy="367.1" r="9.5"/><circle cx="261.9" cy="379.7" r="9.5"/><circle cx="261.9" cy="416" r="9.5"/><circle cx="261.9" cy="494.2" r="9.5"/><circle cx="261.9" cy="524.4" r="9.5"/><circle cx="261.9" cy="550.2" r="9.5"/><circle cx="261.9" cy="596.5" r="9.5"/><circle cx="261.9" cy="597.8" r="9.5"/><circle cx="261.9" cy="614.9" r="9.5"/><circle cx="261.9" cy="624.1" r="9.5"/><circle cx="261.9" cy="645.6" r="9.5"/><circle cx="261.9" cy="668.4" r="9.5"/><circle cx="261.9" cy="676.4" r="9.5"/><circle cx="261.9" cy="696.3" r="9.5"/><circle cx="261.9" cy="45.8" r="9.5"/><circle cx="288.8" cy="48.7" r="9.5"/><circle cx="288.8" cy="58.4" r="9.5"/><circle cx="288.8" cy="71.2" r="9.5"/><circle cx="288.8" cy="117.5" r="9.5"/><circle cx="288.8" cy="127.7" r="9.5"/><circle cx="288.8" cy="148.2" r="9.5"/><circle cx="288.8" cy="366.4" r="9.5"/><circle cx="288.8" cy="377.1" r="9.5"/><circle cx="288.8" cy="417.2" r="9.5"/><circle cx="288.8" cy="493.5" r="9.5"/><circle cx="288.8" cy="524.2" r="9.5"/><circle cx="288.8" cy="550.5" r="9.5"/><circle cx="288.8" cy="593.9" r="9.5"/><circle cx="288.8" cy="598.5" r="9.5"/><circle cx="288.8" cy="614.9" r="9.5"/><circle cx="288.8" cy="625.6" r="9.5"/><circle cx="288.8" cy="645.2" r="9.5"/><circle cx="288.8" cy="670" r="9.5"/><circle cx="288.8" cy="674.8" r="9.5"/><circle cx="288.8" cy="696.3" r="9.5"/><circle cx="288.8" cy="45.8" r="9.5"/><circle cx="315.6" cy="48.7" r="9.5"/><circle cx="315.6" cy="58.9" r="9.5"/><circle cx="315.6" cy="70.7" r="9.5"/><circle cx="315.6" cy="116.5" r="9.5"/><circle cx="315.6" cy="127.2" r="9.5"/><circle cx="315.6" cy="140" r="9.5"/><circle cx="315.6" cy="364.4" r="9.5"/><circle cx="315.6" cy="383.1" r="9.5"/><circle cx="315.6" cy="420.1" r="9.5"/><circle cx="315.6" cy="492.7" r="9.5"/><circle cx="315.6" cy="523.2" r="9.5"/><circle cx="315.6" cy="548.6" r="9.5"/><circle cx="315.6" cy="587.8" r="9.5"/><circle cx="315.6" cy="601.1" r="9.5"/><circle cx="315.6" cy="614.4" r="9.5"/><circle cx="315.6" cy="628.7" r="9.5"/><circle cx="315.6" cy="645.6" r="9.5"/><circle cx="315.6" cy="670.8" r="9.5"/><circle cx="315.6" cy="674" r="9.5"/><circle cx="315.6" cy="696.3" r="9.5"/><circle cx="315.6" cy="45.8" r="9.5"/><circle cx="342.3" cy="48.7" r="9.5"/><circle cx="342.3" cy="59.2" r="9.5"/><circle cx="342.3" cy="69.5" r="9.5"/><circle cx="342.3" cy="116" r="9.5"/><circle cx="342.3" cy="126.8" r="9.5"/><circle cx="342.3" cy="135.9" r="9.5"/><circle cx="342.3" cy="362.8" r="9.5"/><circle cx="342.3" cy="383.8" r="9.5"/><circle cx="342.3" cy="421.1" r="9.5"/><circle cx="342.3" cy="492.4" r="9.5"/><circle cx="342.3" cy="522.9" r="9.5"/><circle cx="342.3" cy="548.4" r="9.5"/><circle cx="342.3" cy="584.7" r="9.5"/><circle cx="342.3" cy="601.6" r="9.5"/><circle cx="342.3" cy="613.9" r="9.5"/><circle cx="342.3" cy="629.7" r="9.5"/><circle cx="342.3" cy="645.6" r="9.5"/><circle cx="342.3" cy="671.6" r="9.5"/><circle cx="342.3" cy="673.2" r="9.5"/><circle cx="342.3" cy="696.3" r="9.5"/><circle cx="342.3" cy="45.8" r="9.5"/><circle cx="369.2" cy="48.7" r="9.5"/><circle cx="369.2" cy="59.7" r="9.5"/><circle cx="369.2" cy="70.5" r="9.5"/><circle cx="369.2" cy="116" r="9.5"/><circle cx="369.2" cy="126.8" r="9.5"/><circle cx="369.2" cy="134.4" r="9.5"/><circle cx="369.2" cy="362.3" r="9.5"/><circle cx="369.2" cy="384" r="9.5"/><circle cx="369.2" cy="421.1" r="9.5"/><circle cx="369.2" cy="492.2" r="9.5"/><circle cx="369.2" cy="522.6" r="9.5"/><circle cx="369.2" cy="548.1" r="9.5"/><circle cx="369.2" cy="583.7" r="9.5"/><circle cx="369.2" cy="601.6" r="9.5"/><circle cx="369.2" cy="613.9" r="9.5"/><circle cx="369.2" cy="630.2" r="9.5"/><circle cx="369.2" cy="645.6" r="9.5"/><circle cx="369.2" cy="671.6" r="9.5"/><circle cx="369.2" cy="673.2" r="9.5"/><circle cx="369.2" cy="696.3" r="9.5"/><circle cx="369.2" cy="45.8" r="9.5"/><circle cx="637.6" cy="57.7" r="9.5"/><circle cx="637.6" cy="118.5" r="9.5"/><circle cx="637.6" cy="202.9" r="9.5"/><circle cx="637.6" cy="374.6" r="9.5"/><circle cx="637.6" cy="516.2" r="9.5"/><circle cx="637.6" cy="563.8" r="9.5"/><circle cx="637.6" cy="589.3" r="9.5"/><circle cx="637.6" cy="614.9" r="9.5"/><circle cx="637.6" cy="665.2" r="9.5"/><circle cx="637.6" cy="697.9" r="9.5"/><circle cx="610.8" cy="54.6" r="9.5"/><circle cx="610.8" cy="75.6" r="9.5"/><circle cx="610.8" cy="119.1" r="9.5"/><circle cx="610.8" cy="198.8" r="9.5"/><circle cx="610.8" cy="233.8" r="9.5"/><circle cx="610.8" cy="367.9" r="9.5"/><circle cx="610.8" cy="385.8" r="9.5"/><circle cx="610.8" cy="506.5" r="9.5"/><circle cx="610.8" cy="534.6" r="9.5"/><circle cx="610.8" cy="557.6" r="9.5"/><circle cx="610.8" cy="568.4" r="9.5"/><circle cx="610.8" cy="581.7" r="9.5"/><circle cx="610.8" cy="613.9" r="9.5"/><circle cx="610.8" cy="621.5" r="9.5"/><circle cx="610.8" cy="664.4" r="9.5"/><circle cx="610.8" cy="675.6" r="9.5"/><circle cx="610.8" cy="697.1" r="9.5"/><circle cx="610.8" cy="45.8" r="9.5"/><circle cx="610.8" cy="49.8" r="9.5"/><circle cx="604.2" cy="54.1" r="9.5"/><circle cx="604.2" cy="89.9" r="9.5"/><circle cx="604.2" cy="119.6" r="9.5"/><circle cx="604.2" cy="200.3" r="9.5"/><circle cx="604.2" cy="258" r="9.5"/><circle cx="604.2" cy="369" r="9.5"/><circle cx="604.2" cy="389.9" r="9.5"/><circle cx="604.2" cy="506.5" r="9.5"/><circle cx="604.2" cy="539.7" r="9.5"/><circle cx="604.2" cy="558.1" r="9.5"/><circle cx="604.2" cy="568.4" r="9.5"/><circle cx="604.2" cy="583.7" r="9.5"/><circle cx="604.2" cy="614.4" r="9.5"/><circle cx="604.2" cy="619.7" r="9.5"/><circle cx="604.2" cy="630.9" r="9.5"/><circle cx="604.2" cy="665.2" r="9.5"/><circle cx="604.2" cy="677.2" r="9.5"/><circle cx="604.2" cy="697.1" r="9.5"/><circle cx="604.2" cy="45.8" r="9.5"/><circle cx="604.2" cy="49.8" r="9.5"/><circle cx="597.5" cy="53.6" r="9.5"/><circle cx="597.5" cy="104.7" r="9.5"/><circle cx="597.5" cy="120.1" r="9.5"/><circle cx="597.5" cy="200.3" r="9.5"/><circle cx="597.5" cy="283.9" r="9.5"/><circle cx="597.5" cy="370.5" r="9.5"/><circle cx="597.5" cy="393" r="9.5"/><circle cx="597.5" cy="506" r="9.5"/><circle cx="597.5" cy="543.8" r="9.5"/><circle cx="597.5" cy="562.7" r="9.5"/><circle cx="597.5" cy="585.8" r="9.5"/><circle cx="597.5" cy="614.9" r="9.5"/><circle cx="597.5" cy="634.8" r="9.5"/><circle cx="597.5" cy="665.2" r="9.5"/><circle cx="597.5" cy="678.8" r="9.5"/><circle cx="597.5" cy="697.1" r="9.5"/><circle cx="597.5" cy="45.8" r="9.5"/><circle cx="597.5" cy="49.8" r="9.5"/><circle cx="584" cy="53.6" r="9.5"/><circle cx="584" cy="99.6" r="9.5"/><circle cx="584" cy="119.6" r="9.5"/><circle cx="584" cy="128.3" r="9.5"/><circle cx="584" cy="185.5" r="9.5"/><circle cx="584" cy="297.7" r="9.5"/><circle cx="584" cy="376.6" r="9.5"/><circle cx="584" cy="393.5" r="9.5"/><circle cx="584" cy="503.4" r="9.5"/><circle cx="584" cy="537.2" r="9.5"/><circle cx="584" cy="571.4" r="9.5"/><circle cx="584" cy="591.4" r="9.5"/><circle cx="584" cy="614.4" r="9.5"/><circle cx="584" cy="639.6" r="9.5"/><circle cx="584" cy="665.2" r="9.5"/><circle cx="584" cy="682.8" r="9.5"/><circle cx="584" cy="697.1" r="9.5"/><circle cx="584" cy="45.8" r="9.5"/><circle cx="584" cy="49.8" r="9.5"/><circle cx="570.6" cy="53.6" r="9.5"/><circle cx="570.6" cy="97.6" r="9.5"/><circle cx="570.6" cy="120.1" r="9.5"/><circle cx="570.6" cy="131.3" r="9.5"/><circle cx="570.6" cy="182.4" r="9.5"/><circle cx="570.6" cy="319.2" r="9.5"/><circle cx="570.6" cy="377.6" r="9.5"/><circle cx="570.6" cy="397.1" r="9.5"/><circle cx="570.6" cy="504" r="9.5"/><circle cx="570.6" cy="532.6" r="9.5"/><circle cx="570.6" cy="555.6" r="9.5"/><circle cx="570.6" cy="576.5" r="9.5"/><circle cx="570.6" cy="596.5" r="9.5"/><circle cx="570.6" cy="614.9" r="9.5"/><circle cx="570.6" cy="642.8" r="9.5"/><circle cx="570.6" cy="667.6" r="9.5"/><circle cx="570.6" cy="683.6" r="9.5"/><circle cx="570.6" cy="697.1" r="9.5"/><circle cx="570.6" cy="45.8" r="9.5"/><circle cx="570.6" cy="49.8" r="9.5"/><circle cx="557.1" cy="49.3" r="9.5"/><circle cx="557.1" cy="54.6" r="9.5"/><circle cx="557.1" cy="88.4" r="9.5"/><circle cx="557.1" cy="119.1" r="9.5"/><circle cx="557.1" cy="129.3" r="9.5"/><circle cx="557.1" cy="175.8" r="9.5"/><circle cx="557.1" cy="345.7" r="9.5"/><circle cx="557.1" cy="380.2" r="9.5"/><circle cx="557.1" cy="402.2" r="9.5"/><circle cx="557.1" cy="499.9" r="9.5"/><circle cx="557.1" cy="528.5" r="9.5"/><circle cx="557.1" cy="554.1" r="9.5"/><circle cx="557.1" cy="582.7" r="9.5"/><circle cx="557.1" cy="598" r="9.5"/><circle cx="557.1" cy="614.4" r="9.5"/><circle cx="557.1" cy="616.4" r="9.5"/><circle cx="557.1" cy="644.8" r="9.5"/><circle cx="557.1" cy="667.6" r="9.5"/><circle cx="557.1" cy="684.4" r="9.5"/><circle cx="557.1" cy="697.1" r="9.5"/><circle cx="557.1" cy="45.8" r="9.5"/><circle cx="530.3" cy="51.6" r="9.5"/><circle cx="530.3" cy="56.2" r="9.5"/><circle cx="530.3" cy="79.2" r="9.5"/><circle cx="530.3" cy="118" r="9.5"/><circle cx="530.3" cy="128.3" r="9.5"/><circle cx="530.3" cy="168.1" r="9.5"/><circle cx="530.3" cy="359.7" r="9.5"/><circle cx="530.3" cy="379.7" r="9.5"/><circle cx="530.3" cy="408.3" r="9.5"/><circle cx="530.3" cy="497.3" r="9.5"/><circle cx="530.3" cy="526.4" r="9.5"/><circle cx="530.3" cy="552.5" r="9.5"/><circle cx="530.3" cy="589.3" r="9.5"/><circle cx="530.3" cy="598.5" r="9.5"/><circle cx="530.3" cy="613.9" r="9.5"/><circle cx="530.3" cy="616.9" r="9.5"/><circle cx="530.3" cy="645.6" r="9.5"/><circle cx="530.3" cy="667.6" r="9.5"/><circle cx="530.3" cy="681.2" r="9.5"/><circle cx="530.3" cy="697.1" r="9.5"/><circle cx="530.3" cy="46.3" r="9.5"/><circle cx="503.4" cy="51.1" r="9.5"/><circle cx="503.4" cy="57.2" r="9.5"/><circle cx="503.4" cy="74.6" r="9.5"/><circle cx="503.4" cy="117.5" r="9.5"/><circle cx="503.4" cy="127.7" r="9.5"/><circle cx="503.4" cy="161" r="9.5"/><circle cx="503.4" cy="364.4" r="9.5"/><circle cx="503.4" cy="378.7" r="9.5"/><circle cx="503.4" cy="412.4" r="9.5"/><circle cx="503.4" cy="495.8" r="9.5"/><circle cx="503.4" cy="525.4" r="9.5"/><circle cx="503.4" cy="551.5" r="9.5"/><circle cx="503.4" cy="594.4" r="9.5"/><circle cx="503.4" cy="596" r="9.5"/><circle cx="503.4" cy="614.9" r="9.5"/><circle cx="503.4" cy="618.5" r="9.5"/><circle cx="503.4" cy="646" r="9.5"/><circle cx="503.4" cy="668.4" r="9.5"/><circle cx="503.4" cy="678.8" r="9.5"/><circle cx="503.4" cy="697.1" r="9.5"/><circle cx="503.4" cy="46.3" r="9.5"/><circle cx="476.7" cy="48.7" r="9.5"/><circle cx="476.7" cy="57.7" r="9.5"/><circle cx="476.7" cy="72.5" r="9.5"/><circle cx="476.7" cy="117.5" r="9.5"/><circle cx="476.7" cy="127.7" r="9.5"/><circle cx="476.7" cy="153.3" r="9.5"/><circle cx="476.7" cy="367.1" r="9.5"/><circle cx="476.7" cy="379.7" r="9.5"/><circle cx="476.7" cy="416" r="9.5"/><circle cx="476.7" cy="494.2" r="9.5"/><circle cx="476.7" cy="524.4" r="9.5"/><circle cx="476.7" cy="550.2" r="9.5"/><circle cx="476.7" cy="596.5" r="9.5"/><circle cx="476.7" cy="597.8" r="9.5"/><circle cx="476.7" cy="614.9" r="9.5"/><circle cx="476.7" cy="624.1" r="9.5"/><circle cx="476.7" cy="645.6" r="9.5"/><circle cx="476.7" cy="668.4" r="9.5"/><circle cx="476.7" cy="676.4" r="9.5"/><circle cx="476.7" cy="696.3" r="9.5"/><circle cx="476.7" cy="45.8" r="9.5"/><circle cx="449.8" cy="48.7" r="9.5"/><circle cx="449.8" cy="58.4" r="9.5"/><circle cx="449.8" cy="71.2" r="9.5"/><circle cx="449.8" cy="117.5" r="9.5"/><circle cx="449.8" cy="127.7" r="9.5"/><circle cx="449.8" cy="148.2" r="9.5"/><circle cx="449.8" cy="366.4" r="9.5"/><circle cx="449.8" cy="377.1" r="9.5"/><circle cx="449.8" cy="417.2" r="9.5"/><circle cx="449.8" cy="493.5" r="9.5"/><circle cx="449.8" cy="524.2" r="9.5"/><circle cx="449.8" cy="550.5" r="9.5"/><circle cx="449.8" cy="593.9" r="9.5"/><circle cx="449.8" cy="598.5" r="9.5"/><circle cx="449.8" cy="614.9" r="9.5"/><circle cx="449.8" cy="625.6" r="9.5"/><circle cx="449.8" cy="645.2" r="9.5"/><circle cx="449.8" cy="670" r="9.5"/><circle cx="449.8" cy="674.8" r="9.5"/><circle cx="449.8" cy="696.3" r="9.5"/><circle cx="449.8" cy="45.8" r="9.5"/><circle cx="423" cy="48.7" r="9.5"/><circle cx="423" cy="58.9" r="9.5"/><circle cx="423" cy="70.7" r="9.5"/><circle cx="423" cy="116.5" r="9.5"/><circle cx="423" cy="127.2" r="9.5"/><circle cx="423" cy="140" r="9.5"/><circle cx="423" cy="364.4" r="9.5"/><circle cx="423" cy="383.1" r="9.5"/><circle cx="423" cy="420.1" r="9.5"/><circle cx="423" cy="492.7" r="9.5"/><circle cx="423" cy="523.2" r="9.5"/><circle cx="423" cy="548.6" r="9.5"/><circle cx="423" cy="587.8" r="9.5"/><circle cx="423" cy="601.1" r="9.5"/><circle cx="423" cy="614.4" r="9.5"/><circle cx="423" cy="628.7" r="9.5"/><circle cx="423" cy="645.6" r="9.5"/><circle cx="423" cy="670.8" r="9.5"/><circle cx="423" cy="674" r="9.5"/><circle cx="423" cy="696.3" r="9.5"/><circle cx="423" cy="45.8" r="9.5"/><circle cx="396.3" cy="48.7" r="9.5"/><circle cx="396.3" cy="59.2" r="9.5"/><circle cx="396.3" cy="69.5" r="9.5"/><circle cx="396.3" cy="116" r="9.5"/><circle cx="396.3" cy="126.8" r="9.5"/><circle cx="396.3" cy="135.9" r="9.5"/><circle cx="396.3" cy="362.8" r="9.5"/><circle cx="396.3" cy="383.8" r="9.5"/><circle cx="396.3" cy="421.1" r="9.5"/><circle cx="396.3" cy="492.4" r="9.5"/><circle cx="396.3" cy="522.9" r="9.5"/><circle cx="396.3" cy="548.4" r="9.5"/><circle cx="396.3" cy="584.7" r="9.5"/><circle cx="396.3" cy="601.6" r="9.5"/><circle cx="396.3" cy="613.9" r="9.5"/><circle cx="396.3" cy="629.7" r="9.5"/><circle cx="396.3" cy="645.6" r="9.5"/><circle cx="396.3" cy="671.6" r="9.5"/><circle cx="396.3" cy="673.2" r="9.5"/><circle cx="396.3" cy="696.3" r="9.5"/><circle cx="396.3" cy="45.8" r="9.5"/></g><g fill="#0000ff" stroke="#000" stroke-width="2.2" stroke-linejoin="miter"><path d="M168 241.8L176.8 250.6L168 259.4L159.2 250.6Z"/><path d="M181.5 252.1L190.3 260.9L181.5 269.7L172.7 260.9Z"/><path d="M208.3 254.9L217.1 263.7L208.3 272.5L199.5 263.7Z"/><path d="M235.2 254.1L244 262.9L235.2 271.7L226.4 262.9Z"/><path d="M101 280.5L109.8 289.3L101 298.1L92.2 289.3Z"/><path d="M127.8 292L136.6 300.8L127.8 309.6L119 300.8Z"/><path d="M261.9 251.6L270.7 260.4L261.9 269.2L253.1 260.4Z"/><path d="M288.7 248.8L297.5 257.6L288.7 266.4L279.9 257.6Z"/><path d="M315.6 243.4L324.4 252.2L315.6 261L306.8 252.2Z"/><path d="M342.3 240.3L351.1 249.1L342.3 257.9L333.5 249.1Z"/><path d="M134.4 439.4L143.2 448.2L134.4 457L125.6 448.2Z"/><path d="M141.1 440.9L149.9 449.7L141.1 458.5L132.3 449.7Z"/><path d="M154.6 438.9L163.4 447.7L154.6 456.5L145.8 447.7Z"/><path d="M369.2 239.6L378 248.4L369.2 257.2L360.4 248.4Z"/><path d="M570.6 241.8L579.4 250.6L570.6 259.4L561.8 250.6Z"/><path d="M557.1 252.1L565.9 260.9L557.1 269.7L548.3 260.9Z"/><path d="M530.3 254.9L539.1 263.7L530.3 272.5L521.5 263.7Z"/><path d="M503.4 254.1L512.2 262.9L503.4 271.7L494.6 262.9Z"/><path d="M637.6 280.5L646.4 289.3L637.6 298.1L628.8 289.3Z"/><path d="M610.8 292L619.6 300.8L610.8 309.6L602 300.8Z"/><path d="M476.7 251.6L485.5 260.4L476.7 269.2L467.9 260.4Z"/><path d="M449.9 248.8L458.7 257.6L449.9 266.4L441.1 257.6Z"/><path d="M423 243.4L431.8 252.2L423 261L414.2 252.2Z"/><path d="M396.3 240.3L405.1 249.1L396.3 257.9L387.5 249.1Z"/><path d="M604.2 439.4L613 448.2L604.2 457L595.4 448.2Z"/><path d="M597.5 440.9L606.3 449.7L597.5 458.5L588.7 449.7Z"/><path d="M584 438.9L592.8 447.7L584 456.5L575.2 447.7Z"/></g></g><path d="M101.3 700.2V683.2M101.3 45.6V62.6M128.1 700.2V691.7M128.1 45.6V54.1M154.9 700.2V691.7M154.9 45.6V54.1M181.8 700.2V691.7M181.8 45.6V54.1M208.6 700.2V683.2M208.6 45.6V62.6M235.4 700.2V691.7M235.4 45.6V54.1M262.2 700.2V691.7M262.2 45.6V54.1M289.1 700.2V691.7M289.1 45.6V54.1M315.9 700.2V683.2M315.9 45.6V62.6M342.7 700.2V691.7M342.7 45.6V54.1M369.6 700.2V691.7M369.6 45.6V54.1M396.4 700.2V691.7M396.4 45.6V54.1M423.2 700.2V683.2M423.2 45.6V62.6M450 700.2V691.7M450 45.6V54.1M476.9 700.2V691.7M476.9 45.6V54.1M503.7 700.2V691.7M503.7 45.6V54.1M530.5 700.2V683.2M530.5 45.6V62.6M557.3 700.2V691.7M557.3 45.6V54.1M584.1 700.2V691.7M584.1 45.6V54.1M611 700.2V691.7M611 45.6V54.1M637.8 700.2V683.2M637.8 45.6V62.6M95.5 700.1H112.5M643 700.1H626M95.5 569.2H112.5M643 569.2H626M95.5 438.3H112.5M643 438.3H626M95.5 307.4H112.5M643 307.4H626M95.5 176.5H112.5M643 176.5H626M95.5 45.6H112.5M643 45.6H626" stroke="#000" stroke-width="2.0" fill="none"/><rect x="95.5" y="45.6" width="547.5" height="654.6" fill="none" stroke="#000" stroke-width="4.0"/><g font-family="DejaVu Sans, Liberation Sans, sans-serif" font-size="34" fill="#000"><text transform="translate(103.3 742.7) scale(1 1.032)" text-anchor="middle">0.0</text><text transform="translate(84.6 710.7) scale(1 1.032)" text-anchor="end">0.0</text><text transform="translate(210.6 742.7) scale(1 1.032)" text-anchor="middle">0.2</text><text transform="translate(84.6 579.8) scale(1 1.032)" text-anchor="end">0.2</text><text transform="translate(317.9 742.7) scale(1 1.032)" text-anchor="middle">0.4</text><text transform="translate(84.6 448.9) scale(1 1.032)" text-anchor="end">0.4</text><text transform="translate(425.2 742.7) scale(1 1.032)" text-anchor="middle">0.6</text><text transform="translate(84.6 318) scale(1 1.032)" text-anchor="end">0.6</text><text transform="translate(532.5 742.7) scale(1 1.032)" text-anchor="middle">0.8</text><text transform="translate(84.6 187.1) scale(1 1.032)" text-anchor="end">0.8</text><text transform="translate(639.8 742.7) scale(1 1.032)" text-anchor="middle">1.0</text><text transform="translate(84.6 56.2) scale(1 1.032)" text-anchor="end">1.0</text></g></g>
</svg>
</body></html>
